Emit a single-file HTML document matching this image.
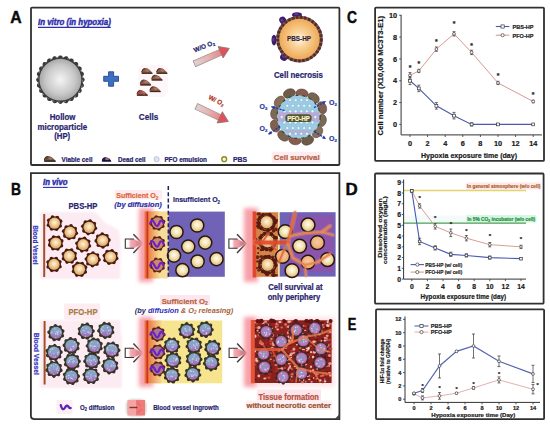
<!DOCTYPE html>
<html><head><meta charset="utf-8"><title>Figure</title>
<style>
html,body{margin:0;padding:0;background:#fff;}
body{width:550px;height:425px;overflow:hidden;}
svg{display:block;font-family:"Liberation Sans",sans-serif;}
</style></head><body>
<svg width="550" height="425" viewBox="0 0 550 425" font-family='"Liberation Sans", sans-serif'>
<defs>
<radialGradient id="gGrey" cx="0.5" cy="0.5" r="0.5"><stop offset="0" stop-color="#f4f4f4"/><stop offset="0.7" stop-color="#c8c8c8"/><stop offset="1" stop-color="#a8a8a8"/></radialGradient>
<radialGradient id="gOrange" cx="0.5" cy="0.5" r="0.5"><stop offset="0" stop-color="#fff6e8"/><stop offset="0.35" stop-color="#fad49a"/><stop offset="1" stop-color="#eca24c"/></radialGradient>
<radialGradient id="gBeige" cx="0.5" cy="0.45" r="0.55"><stop offset="0" stop-color="#fff4e6"/><stop offset="0.45" stop-color="#f4d49e"/><stop offset="1" stop-color="#d6a262"/></radialGradient>
<radialGradient id="gPfo" cx="0.5" cy="0.5" r="0.5"><stop offset="0" stop-color="#a8d8e8"/><stop offset="0.75" stop-color="#98c8e0"/><stop offset="1" stop-color="#b090c8"/></radialGradient>
<linearGradient id="gPfoCell" x1="0" y1="0" x2="0" y2="1"><stop offset="0" stop-color="#88a2c8"/><stop offset="0.55" stop-color="#8ea0c8"/><stop offset="0.68" stop-color="#a080c0"/><stop offset="1" stop-color="#9a6cb0"/></linearGradient>
<linearGradient id="gArrow" x1="0" y1="0" x2="1" y2="0"><stop offset="0" stop-color="#e2d2d2"/><stop offset="0.5" stop-color="#e6b4b4"/><stop offset="1" stop-color="#e88888"/></linearGradient>
<linearGradient id="gBArrow" x1="0" y1="0" x2="1" y2="0"><stop offset="0" stop-color="#fff"/><stop offset="1" stop-color="#f0a0a0"/></linearGradient>
<linearGradient id="gGlow" x1="0" y1="0" x2="1" y2="0"><stop offset="0" stop-color="#ffd0d0" stop-opacity="0"/><stop offset="0.3" stop-color="#f89090"/><stop offset="0.7" stop-color="#f89090"/><stop offset="1" stop-color="#ffd0d0" stop-opacity="0"/></linearGradient>
<filter id="blur2" x="-30%" y="-30%" width="160%" height="160%"><feGaussianBlur stdDeviation="2"/></filter>
<filter id="blur1" x="-30%" y="-30%" width="160%" height="160%"><feGaussianBlur stdDeviation="1"/></filter>
<linearGradient id="gOY" x1="0" y1="0" x2="1" y2="0"><stop offset="0" stop-color="#ec6a3c"/><stop offset="0.35" stop-color="#ee8a50"/><stop offset="0.7" stop-color="#f2b878"/><stop offset="1" stop-color="#f6d894"/></linearGradient>
<radialGradient id="gTisCell" cx="0.5" cy="0.5" r="0.5"><stop offset="0" stop-color="#74aab8"/><stop offset="0.35" stop-color="#9a8cc0"/><stop offset="0.65" stop-color="#bc80bc"/><stop offset="1" stop-color="#a85c98"/></radialGradient>
<radialGradient id="gPale" cx="0.5" cy="0.45" r="0.55"><stop offset="0" stop-color="#fffdf2"/><stop offset="0.45" stop-color="#f6e6b6"/><stop offset="1" stop-color="#d8b878"/></radialGradient>
</defs>
<text x="10.2" y="22.5" font-size="17" fill="#0a0a0a" font-weight="bold" text-anchor="start" textLength="11.4" lengthAdjust="spacingAndGlyphs" stroke="#0a0a0a" stroke-width="0.45">A</text>
<text x="10.9" y="194.8" font-size="17" fill="#0a0a0a" font-weight="bold" text-anchor="start" textLength="10.0" lengthAdjust="spacingAndGlyphs" stroke="#0a0a0a" stroke-width="0.45">B</text>
<text x="347.0" y="22.6" font-size="17" fill="#0a0a0a" font-weight="bold" text-anchor="start" textLength="10.0" lengthAdjust="spacingAndGlyphs" stroke="#0a0a0a" stroke-width="0.45">C</text>
<text x="345.5" y="194.8" font-size="17" fill="#0a0a0a" font-weight="bold" text-anchor="start" textLength="12.2" lengthAdjust="spacingAndGlyphs" stroke="#0a0a0a" stroke-width="0.45">D</text>
<text x="347.8" y="329.6" font-size="17" fill="#0a0a0a" font-weight="bold" text-anchor="start" textLength="8.6" lengthAdjust="spacingAndGlyphs" stroke="#0a0a0a" stroke-width="0.45">E</text>
<rect x="31" y="7.6" width="308.4" height="157.4" rx="1" fill="none" stroke="#303030" stroke-width="1.8"/>
<text x="38" y="25.2" font-size="8.5" fill="#2e2eac" font-weight="bold" text-anchor="start" font-style="italic" textLength="72.8" lengthAdjust="spacingAndGlyphs" stroke="#2e2eac" stroke-width="0.45">In vitro (in hypoxia)</text>
<line x1="38" y1="27.4" x2="110.8" y2="27.4" stroke="#2e2eac" stroke-width="1.1"/>
<path d="M84.70,79.70 L84.53,80.49 L84.03,81.25 L83.29,81.95 L82.41,82.60 L83.10,83.45 L83.63,84.32 L83.91,85.18 L83.87,85.99 L83.50,86.71 L82.83,87.31 L81.93,87.80 L80.91,88.20 L81.35,89.19 L81.64,90.18 L81.69,91.08 L81.44,91.85 L80.90,92.45 L80.09,92.86 L79.10,93.10 L78.01,93.21 L78.18,94.29 L78.21,95.32 L78.02,96.20 L77.58,96.88 L76.90,97.32 L76.02,97.51 L74.99,97.48 L73.91,97.31 L73.80,98.40 L73.56,99.39 L73.15,100.20 L72.55,100.74 L71.78,100.99 L70.88,100.94 L69.89,100.65 L68.90,100.21 L68.50,101.23 L68.01,102.13 L67.41,102.80 L66.69,103.17 L65.88,103.21 L65.02,102.93 L64.15,102.40 L63.30,101.71 L62.65,102.59 L61.95,103.33 L61.19,103.83 L60.40,104.00 L59.61,103.83 L58.85,103.33 L58.15,102.59 L57.50,101.71 L56.65,102.40 L55.78,102.93 L54.92,103.21 L54.11,103.17 L53.39,102.80 L52.79,102.13 L52.30,101.23 L51.90,100.21 L50.91,100.65 L49.92,100.94 L49.02,100.99 L48.25,100.74 L47.65,100.20 L47.24,99.39 L47.00,98.40 L46.89,97.31 L45.81,97.48 L44.78,97.51 L43.90,97.32 L43.22,96.88 L42.78,96.20 L42.59,95.32 L42.62,94.29 L42.79,93.21 L41.70,93.10 L40.71,92.86 L39.90,92.45 L39.36,91.85 L39.11,91.08 L39.16,90.18 L39.45,89.19 L39.89,88.20 L38.87,87.80 L37.97,87.31 L37.30,86.71 L36.93,85.99 L36.89,85.18 L37.17,84.32 L37.70,83.45 L38.39,82.60 L37.51,81.95 L36.77,81.25 L36.27,80.49 L36.10,79.70 L36.27,78.91 L36.77,78.15 L37.51,77.45 L38.39,76.80 L37.70,75.95 L37.17,75.08 L36.89,74.22 L36.93,73.41 L37.30,72.69 L37.97,72.09 L38.87,71.60 L39.89,71.20 L39.45,70.21 L39.16,69.22 L39.11,68.32 L39.36,67.55 L39.90,66.95 L40.71,66.54 L41.70,66.30 L42.79,66.19 L42.62,65.11 L42.59,64.08 L42.78,63.20 L43.22,62.52 L43.90,62.08 L44.78,61.89 L45.81,61.92 L46.89,62.09 L47.00,61.00 L47.24,60.01 L47.65,59.20 L48.25,58.66 L49.02,58.41 L49.92,58.46 L50.91,58.75 L51.90,59.19 L52.30,58.17 L52.79,57.27 L53.39,56.60 L54.11,56.23 L54.92,56.19 L55.78,56.47 L56.65,57.00 L57.50,57.69 L58.15,56.81 L58.85,56.07 L59.61,55.57 L60.40,55.40 L61.19,55.57 L61.95,56.07 L62.65,56.81 L63.30,57.69 L64.15,57.00 L65.02,56.47 L65.88,56.19 L66.69,56.23 L67.41,56.60 L68.01,57.27 L68.50,58.17 L68.90,59.19 L69.89,58.75 L70.88,58.46 L71.78,58.41 L72.55,58.66 L73.15,59.20 L73.56,60.01 L73.80,61.00 L73.91,62.09 L74.99,61.92 L76.02,61.89 L76.90,62.08 L77.58,62.52 L78.02,63.20 L78.21,64.08 L78.18,65.11 L78.01,66.19 L79.10,66.30 L80.09,66.54 L80.90,66.95 L81.44,67.55 L81.69,68.32 L81.64,69.22 L81.35,70.21 L80.91,71.20 L81.93,71.60 L82.83,72.09 L83.50,72.69 L83.87,73.41 L83.91,74.22 L83.63,75.08 L83.10,75.95 L82.41,76.80 L83.29,77.45 L84.03,78.15 L84.53,78.91 L84.70,79.70Z" fill="#3a3a3a" />
<circle cx="60.4" cy="79.7" r="22.3" fill="#3a3a3a"/>
<circle cx="60.4" cy="79.7" r="20.9" fill="url(#gGrey)"/>
<circle cx="60.4" cy="79.7" r="22.4" fill="none" stroke="#8a8a8a" stroke-width="0.9" stroke-dasharray="2.4 3.5"/>
<path d="M108.6,71.8 h5 v4.5 h4.9 v5 h-4.9 v4.9 h-5 v-4.9 h-4.9 v-5 h4.9 z" fill="#3d70c4" stroke="#24498e" stroke-width="0.9"/>
<text x="62.6" y="120.3" font-size="8.7" fill="#27256e" font-weight="bold" text-anchor="middle" textLength="25.8" lengthAdjust="spacingAndGlyphs"  stroke="#27256e" stroke-width="0.22">Hollow</text>
<text x="62.3" y="129.9" font-size="8.7" fill="#27256e" font-weight="bold" text-anchor="middle" textLength="49.8" lengthAdjust="spacingAndGlyphs"  stroke="#27256e" stroke-width="0.22">microparticle</text>
<text x="62.2" y="138.8" font-size="8.7" fill="#27256e" font-weight="bold" text-anchor="middle" textLength="16" lengthAdjust="spacingAndGlyphs"  stroke="#27256e" stroke-width="0.22">(HP)</text>
<rect x="138" y="65" width="30" height="32" rx="6" fill="#fdf0f5" opacity="0.5"/>
<path d="M141.40,73.80 C141.40,69.00 143.40,68.00 145.40,68.00 C148.40,68.00 151.80,71.80 152.80,73.80 Z" fill="#8c5a48"/>
<path d="M141.90,73.20 L152.30,73.20" stroke="#3e2a22" stroke-width="1.3"/>
<path d="M141.70,72.00 Q142.40,69.00 144.90,68.60" fill="none" stroke="#3e2a22" stroke-width="0.9"/>
<ellipse cx="147.60" cy="70.60" rx="2.2" ry="1.1" fill="#b08070" opacity="0.8"/>
<path d="M156.30,73.80 C156.30,69.00 158.30,68.00 160.30,68.00 C163.30,68.00 166.70,71.80 167.70,73.80 Z" fill="#8c5a48"/>
<path d="M156.80,73.20 L167.20,73.20" stroke="#3e2a22" stroke-width="1.3"/>
<path d="M156.60,72.00 Q157.30,69.00 159.80,68.60" fill="none" stroke="#3e2a22" stroke-width="0.9"/>
<ellipse cx="162.50" cy="70.60" rx="2.2" ry="1.1" fill="#b08070" opacity="0.8"/>
<path d="M151.40,80.50 C151.40,75.70 153.40,74.70 155.40,74.70 C158.40,74.70 161.80,78.50 162.80,80.50 Z" fill="#8c5a48"/>
<path d="M151.90,79.90 L162.30,79.90" stroke="#3e2a22" stroke-width="1.3"/>
<path d="M151.70,78.70 Q152.40,75.70 154.90,75.30" fill="none" stroke="#3e2a22" stroke-width="0.9"/>
<ellipse cx="157.60" cy="77.30" rx="2.2" ry="1.1" fill="#b08070" opacity="0.8"/>
<path d="M140.00,85.40 C140.00,80.60 142.00,79.60 144.00,79.60 C147.00,79.60 150.40,83.40 151.40,85.40 Z" fill="#8c5a48"/>
<path d="M140.50,84.80 L150.90,84.80" stroke="#3e2a22" stroke-width="1.3"/>
<path d="M140.30,83.60 Q141.00,80.60 143.50,80.20" fill="none" stroke="#3e2a22" stroke-width="0.9"/>
<ellipse cx="146.20" cy="82.20" rx="2.2" ry="1.1" fill="#b08070" opacity="0.8"/>
<path d="M149.60,92.10 C149.60,87.30 151.60,86.30 153.60,86.30 C156.60,86.30 160.00,90.10 161.00,92.10 Z" fill="#8c5a48"/>
<path d="M150.10,91.50 L160.50,91.50" stroke="#3e2a22" stroke-width="1.3"/>
<path d="M149.90,90.30 Q150.60,87.30 153.10,86.90" fill="none" stroke="#3e2a22" stroke-width="0.9"/>
<ellipse cx="155.80" cy="88.90" rx="2.2" ry="1.1" fill="#b08070" opacity="0.8"/>
<path d="M136.70,95.70 C136.70,90.90 138.70,89.90 140.70,89.90 C143.70,89.90 147.10,93.70 148.10,95.70 Z" fill="#8c5a48"/>
<path d="M137.20,95.10 L147.60,95.10" stroke="#3e2a22" stroke-width="1.3"/>
<path d="M137.00,93.90 Q137.70,90.90 140.20,90.50" fill="none" stroke="#3e2a22" stroke-width="0.9"/>
<ellipse cx="142.90" cy="92.50" rx="2.2" ry="1.1" fill="#b08070" opacity="0.8"/>
<path d="M137.5,94.5 L140,91 L145,95.5" fill="none" stroke="#e03040" stroke-width="0.9"/>
<text x="148.6" y="120.3" font-size="8.7" fill="#27256e" font-weight="bold" text-anchor="middle" textLength="19.5" lengthAdjust="spacingAndGlyphs"  stroke="#27256e" stroke-width="0.22">Cells</text>
<g transform="translate(194.4,63.8) rotate(-23.81)"><path d="M0,-3.0 L28.64669055108189,-3.0 L28.64669055108189,3.0 L0,3.0 Z" fill="url(#gArrow)" stroke="#a89898" stroke-width="0.9"/><path d="M28.64669055108189,-6.2 L38.14669055108189,0 L28.64669055108189,6.2 Z" fill="#e4505a" stroke="#8a7878" stroke-width="0.8"/></g>
<g transform="translate(196.3,106.4) rotate(25.11)"><path d="M0,-3.0 L25.841194094144583,-3.0 L25.841194094144583,3.0 L0,3.0 Z" fill="url(#gArrow)" stroke="#a89898" stroke-width="0.9"/><path d="M25.841194094144583,-6.2 L35.34119409414458,0 L25.841194094144583,6.2 Z" fill="#e4505a" stroke="#8a7878" stroke-width="0.8"/></g>
<g transform="translate(205.0,48.4) rotate(-22)"><text x="0" y="0" font-size="6.4" font-weight="bold" fill="#25256e" text-anchor="middle" stroke="#25256e" stroke-width="0.2">W/O O<tspan font-size="4.2" dy="1.2">2</tspan></text></g>
<g transform="translate(215.5,102.5) rotate(26)"><text x="0" y="0" font-size="6.4" font-weight="bold" fill="#b03424" text-anchor="middle" stroke="#b03424" stroke-width="0.2">W/ O<tspan font-size="4.2" dy="1.2">2</tspan></text></g>
<ellipse cx="297" cy="14.8" rx="5.00" ry="2.60" transform="rotate(0 297 14.8)" fill="#3c1a6e"/>
<ellipse cx="296.4" cy="14.200000000000001" rx="2.25" ry="1.04" transform="rotate(0 297 14.8)" fill="#6a4aa0" opacity="0.7"/>
<ellipse cx="282.8" cy="20.4" rx="3.40" ry="3.80" transform="rotate(-30 282.8 20.4)" fill="#3c1a6e"/>
<ellipse cx="282.2" cy="19.799999999999997" rx="1.53" ry="1.52" transform="rotate(-30 282.8 20.4)" fill="#6a4aa0" opacity="0.7"/>
<ellipse cx="274" cy="40.1" rx="2.50" ry="5.30" transform="rotate(0 274 40.1)" fill="#3c1a6e"/>
<ellipse cx="273.4" cy="39.5" rx="1.12" ry="2.12" transform="rotate(0 274 40.1)" fill="#6a4aa0" opacity="0.7"/>
<ellipse cx="283.9" cy="57.1" rx="3.80" ry="3.60" transform="rotate(30 283.9 57.1)" fill="#3c1a6e"/>
<ellipse cx="283.29999999999995" cy="56.5" rx="1.71" ry="1.44" transform="rotate(30 283.9 57.1)" fill="#6a4aa0" opacity="0.7"/>
<circle cx="299.5" cy="39.1" r="22.2" fill="url(#gOrange)"/>
<circle cx="299.5" cy="39.1" r="21.8" fill="none" stroke="#5a6a48" stroke-width="3"/>
<circle cx="299.5" cy="39.1" r="21.8" fill="none" stroke="#6a2232" stroke-width="3" stroke-dasharray="2.6 1.5"/>
<text x="299.0" y="41.2" font-size="7.4" fill="#33253e" font-weight="bold" text-anchor="middle" textLength="24" lengthAdjust="spacingAndGlyphs"  stroke="#33253e" stroke-width="0.2">PBS-HP</text>
<text x="298.4" y="77.9" font-size="8.5" fill="#27256e" font-weight="bold" text-anchor="middle" textLength="49" lengthAdjust="spacingAndGlyphs"  stroke="#27256e" stroke-width="0.22">Cell necrosis</text>
<ellipse cx="321.74" cy="120.41" rx="6.2" ry="4.6" transform="rotate(98.6 321.74 120.41)" fill="#7c6a56" stroke="#4a3a30" stroke-width="0.5"/>
<ellipse cx="317.49" cy="132.06" rx="6.2" ry="4.6" transform="rotate(128.6 317.49 132.06)" fill="#8a6e58" stroke="#4a3a30" stroke-width="0.5"/>
<ellipse cx="307.66" cy="140.27" rx="6.2" ry="4.6" transform="rotate(158.6 307.66 140.27)" fill="#6e5c48" stroke="#4a3a30" stroke-width="0.5"/>
<ellipse cx="294.99" cy="140.14" rx="6.2" ry="4.6" transform="rotate(188.6 294.99 140.14)" fill="#8a5c50" stroke="#4a3a30" stroke-width="0.5"/>
<ellipse cx="283.34" cy="135.89" rx="6.2" ry="4.6" transform="rotate(218.6 283.34 135.89)" fill="#7a6450" stroke="#4a3a30" stroke-width="0.5"/>
<ellipse cx="275.13" cy="126.06" rx="6.2" ry="4.6" transform="rotate(248.6 275.13 126.06)" fill="#806052" stroke="#4a3a30" stroke-width="0.5"/>
<ellipse cx="275.26" cy="113.39" rx="6.2" ry="4.6" transform="rotate(278.6 275.26 113.39)" fill="#7c6a56" stroke="#4a3a30" stroke-width="0.5"/>
<ellipse cx="279.51" cy="101.74" rx="6.2" ry="4.6" transform="rotate(308.6 279.51 101.74)" fill="#8a6e58" stroke="#4a3a30" stroke-width="0.5"/>
<ellipse cx="289.34" cy="93.53" rx="6.2" ry="4.6" transform="rotate(338.6 289.34 93.53)" fill="#6e5c48" stroke="#4a3a30" stroke-width="0.5"/>
<ellipse cx="302.01" cy="93.66" rx="6.2" ry="4.6" transform="rotate(368.6 302.01 93.66)" fill="#8a5c50" stroke="#4a3a30" stroke-width="0.5"/>
<ellipse cx="313.66" cy="97.91" rx="6.2" ry="4.6" transform="rotate(398.6 313.66 97.91)" fill="#7a6450" stroke="#4a3a30" stroke-width="0.5"/>
<ellipse cx="321.87" cy="107.74" rx="6.2" ry="4.6" transform="rotate(428.6 321.87 107.74)" fill="#806052" stroke="#4a3a30" stroke-width="0.5"/>
<circle cx="298.5" cy="116.9" r="21.6" fill="#9ccbe4"/>
<rect x="277.5" y="111.9" width="42" height="10" fill="#c0a2d2" opacity="0.8"/>
<path d="M282.5,129.9 Q298.5,140.9 314.5,129.9 Z" fill="#c0a2d2" opacity="0.6"/>
<circle cx="298.5" cy="116.9" r="21.6" fill="none" stroke="#2e4a2a" stroke-width="1.2" stroke-dasharray="3 4"/>
<circle cx="290.1" cy="100.1" r="1.5" fill="#eef8ff" stroke="#6a9ec0" stroke-width="0.4"/>
<circle cx="295.7" cy="100.1" r="1.5" fill="#eef8ff" stroke="#6a9ec0" stroke-width="0.4"/>
<circle cx="301.3" cy="100.1" r="1.5" fill="#eef8ff" stroke="#6a9ec0" stroke-width="0.4"/>
<circle cx="306.9" cy="100.1" r="1.5" fill="#eef8ff" stroke="#6a9ec0" stroke-width="0.4"/>
<circle cx="287.3" cy="105.7" r="1.5" fill="#eef8ff" stroke="#6a9ec0" stroke-width="0.4"/>
<circle cx="292.9" cy="105.7" r="1.5" fill="#eef8ff" stroke="#6a9ec0" stroke-width="0.4"/>
<circle cx="298.5" cy="105.7" r="1.5" fill="#eef8ff" stroke="#6a9ec0" stroke-width="0.4"/>
<circle cx="304.1" cy="105.7" r="1.5" fill="#eef8ff" stroke="#6a9ec0" stroke-width="0.4"/>
<circle cx="309.7" cy="105.7" r="1.5" fill="#eef8ff" stroke="#6a9ec0" stroke-width="0.4"/>
<circle cx="284.5" cy="111.3" r="1.5" fill="#eef8ff" stroke="#6a9ec0" stroke-width="0.4"/>
<circle cx="290.1" cy="111.3" r="1.5" fill="#eef8ff" stroke="#6a9ec0" stroke-width="0.4"/>
<circle cx="295.7" cy="111.3" r="1.5" fill="#eef8ff" stroke="#6a9ec0" stroke-width="0.4"/>
<circle cx="301.3" cy="111.3" r="1.5" fill="#eef8ff" stroke="#6a9ec0" stroke-width="0.4"/>
<circle cx="306.9" cy="111.3" r="1.5" fill="#eef8ff" stroke="#6a9ec0" stroke-width="0.4"/>
<circle cx="312.5" cy="111.3" r="1.5" fill="#eef8ff" stroke="#6a9ec0" stroke-width="0.4"/>
<circle cx="281.7" cy="116.9" r="1.5" fill="#eef8ff" stroke="#6a9ec0" stroke-width="0.4"/>
<circle cx="315.3" cy="116.9" r="1.5" fill="#eef8ff" stroke="#6a9ec0" stroke-width="0.4"/>
<circle cx="284.5" cy="122.5" r="1.5" fill="#eef8ff" stroke="#6a9ec0" stroke-width="0.4"/>
<circle cx="290.1" cy="122.5" r="1.5" fill="#eef8ff" stroke="#6a9ec0" stroke-width="0.4"/>
<circle cx="295.7" cy="122.5" r="1.5" fill="#eef8ff" stroke="#6a9ec0" stroke-width="0.4"/>
<circle cx="301.3" cy="122.5" r="1.5" fill="#eef8ff" stroke="#6a9ec0" stroke-width="0.4"/>
<circle cx="306.9" cy="122.5" r="1.5" fill="#eef8ff" stroke="#6a9ec0" stroke-width="0.4"/>
<circle cx="312.5" cy="122.5" r="1.5" fill="#eef8ff" stroke="#6a9ec0" stroke-width="0.4"/>
<circle cx="287.3" cy="128.1" r="1.5" fill="#eef8ff" stroke="#6a9ec0" stroke-width="0.4"/>
<circle cx="292.9" cy="128.1" r="1.5" fill="#eef8ff" stroke="#6a9ec0" stroke-width="0.4"/>
<circle cx="298.5" cy="128.1" r="1.5" fill="#eef8ff" stroke="#6a9ec0" stroke-width="0.4"/>
<circle cx="304.1" cy="128.1" r="1.5" fill="#eef8ff" stroke="#6a9ec0" stroke-width="0.4"/>
<circle cx="309.7" cy="128.1" r="1.5" fill="#eef8ff" stroke="#6a9ec0" stroke-width="0.4"/>
<circle cx="290.1" cy="133.7" r="1.5" fill="#eef8ff" stroke="#6a9ec0" stroke-width="0.4"/>
<circle cx="295.7" cy="133.7" r="1.5" fill="#eef8ff" stroke="#6a9ec0" stroke-width="0.4"/>
<circle cx="301.3" cy="133.7" r="1.5" fill="#eef8ff" stroke="#6a9ec0" stroke-width="0.4"/>
<circle cx="306.9" cy="133.7" r="1.5" fill="#eef8ff" stroke="#6a9ec0" stroke-width="0.4"/>
<rect x="285.3" y="114.2" width="26.4" height="7.8" rx="3.6" fill="#55582e"/>
<text x="298.5" y="120.6" font-size="7" fill="#fff6dc" font-weight="bold" text-anchor="middle" textLength="22.5" lengthAdjust="spacingAndGlyphs"  stroke="#fff6dc" stroke-width="0.2">PFO-HP</text>
<line x1="284.6" y1="110.6" x2="271.8" y2="106.8" stroke="#2a3aa8" stroke-width="1.4" stroke-dasharray="2.2 1"/>
<path d="M270.8,106.5 L274.9,106.0 L273.9,109.2 Z" fill="#2a3aa8"/>
<line x1="280" y1="126.4" x2="268.8" y2="134" stroke="#2a3aa8" stroke-width="1.4" stroke-dasharray="2.2 1"/>
<path d="M268.0,134.6 L270.1,131.1 L272.0,133.9 Z" fill="#2a3aa8"/>
<line x1="314" y1="107.6" x2="325.3" y2="101.6" stroke="#2a3aa8" stroke-width="1.4" stroke-dasharray="2.2 1"/>
<path d="M326.2,101.1 L323.7,104.4 L322.1,101.4 Z" fill="#2a3aa8"/>
<line x1="314.7" y1="131.7" x2="325.3" y2="138.5" stroke="#2a3aa8" stroke-width="1.4" stroke-dasharray="2.2 1"/>
<path d="M326.1,139.0 L322.1,138.4 L323.9,135.6 Z" fill="#2a3aa8"/>
<text x="263.5" y="108.5" font-size="7" font-weight="bold" fill="#2a3aa0" text-anchor="middle" stroke="#2a3aa0" stroke-width="0.2">O<tspan font-size="4.3" dy="1.3">2</tspan></text>
<text x="263.5" y="131" font-size="7" font-weight="bold" fill="#2a3aa0" text-anchor="middle" stroke="#2a3aa0" stroke-width="0.2">O<tspan font-size="4.3" dy="1.3">2</tspan></text>
<text x="333" y="104.5" font-size="7" font-weight="bold" fill="#2a3aa0" text-anchor="middle" stroke="#2a3aa0" stroke-width="0.2">O<tspan font-size="4.3" dy="1.3">2</tspan></text>
<text x="333" y="140.5" font-size="7" font-weight="bold" fill="#2a3aa0" text-anchor="middle" stroke="#2a3aa0" stroke-width="0.2">O<tspan font-size="4.3" dy="1.3">2</tspan></text>
<rect x="271.8" y="151.8" width="49" height="11" fill="#fdecf1"/>
<text x="296.7" y="160.3" font-size="7.6" fill="#b4603e" font-weight="bold" text-anchor="middle" textLength="45.8" lengthAdjust="spacingAndGlyphs"  stroke="#b4603e" stroke-width="0.2">Cell survival</text>
<path d="M44.00,161.70 C44.00,157.10 46.00,156.10 48.00,156.10 C51.00,156.10 55.00,159.70 56.00,161.70 Z" fill="#6e5040"/>
<path d="M44.50,161.10 L55.50,161.10" stroke="#2e221c" stroke-width="1.3"/>
<path d="M44.30,159.90 Q45.00,157.10 47.50,156.70" fill="none" stroke="#2e221c" stroke-width="0.9"/>
<ellipse cx="50.50" cy="158.60" rx="2.2" ry="1.1" fill="#b08070" opacity="0.8"/>
<text x="61.6" y="161.6" font-size="6.6" fill="#27256e" font-weight="bold" text-anchor="start" textLength="30.8" lengthAdjust="spacingAndGlyphs"  stroke="#27256e" stroke-width="0.22">Viable cell</text>
<path d="M101.80,161.50 C101.80,158.30 103.80,157.30 105.80,157.30 C108.80,157.30 110.40,159.50 111.40,161.50 Z" fill="#2c1c5c"/>
<path d="M102.30,160.90 L110.90,160.90" stroke="#140a30" stroke-width="1.3"/>
<path d="M102.10,159.70 Q102.80,158.30 105.30,157.90" fill="none" stroke="#140a30" stroke-width="0.9"/>
<ellipse cx="107.10" cy="159.10" rx="2.2" ry="1.1" fill="#b08070" opacity="0.8"/>
<text x="118" y="161.6" font-size="6.6" fill="#27256e" font-weight="bold" text-anchor="start" textLength="27.6" lengthAdjust="spacingAndGlyphs"  stroke="#27256e" stroke-width="0.22">Dead cell</text>
<circle cx="156.6" cy="159.2" r="2.6" fill="#dde6f0" stroke="#a0aec0" stroke-width="0.6"/>
<text x="164.4" y="161.6" font-size="6.6" fill="#27256e" font-weight="bold" text-anchor="start" textLength="42.6" lengthAdjust="spacingAndGlyphs"  stroke="#27256e" stroke-width="0.22">PFO emulsion</text>
<circle cx="224.2" cy="159.2" r="2.4" fill="#fff8d0" stroke="#8a8a28" stroke-width="1.4"/>
<text x="233" y="161.6" font-size="6.6" fill="#27256e" font-weight="bold" text-anchor="start" textLength="14" lengthAdjust="spacingAndGlyphs"  stroke="#27256e" stroke-width="0.22">PBS</text>
<path d="M30.9,173.2 H339.4 V419.2 H34.6 Q30.9,419.2 30.9,415.5 Z" fill="none" stroke="#303030" stroke-width="1.8"/>
<path d="M334.5,419.2 L339.4,414.3 L339.4,419.2 Z" fill="#444"/>
<text x="43" y="185.2" font-size="8.5" fill="#2e2eac" font-weight="bold" text-anchor="start" font-style="italic" textLength="24.6" lengthAdjust="spacingAndGlyphs" stroke="#2e2eac" stroke-width="0.45">In vivo</text>
<line x1="43" y1="187.4" x2="67.6" y2="187.4" stroke="#2e2eac" stroke-width="1.1"/>
<path d="M40,212 L96,212 L104,222 L119,230 L121,250 L120,279 L40,279 Z" fill="#fce8f0" opacity="0.85" filter="url(#blur1)"/>
<text x="83" y="208.6" font-size="9" fill="#27256e" font-weight="bold" text-anchor="middle" textLength="29" lengthAdjust="spacingAndGlyphs"  stroke="#27256e" stroke-width="0.22">PBS-HP</text>
<line x1="44.2" y1="214" x2="44.2" y2="277" stroke="#a0502a" stroke-width="2"/>
<g transform="translate(35.6,245) rotate(90)"><text x="0" y="2.3" font-size="6.8" font-weight="bold" fill="#3434c4" text-anchor="middle" textLength="39" lengthAdjust="spacingAndGlyphs" stroke="#3434c4" stroke-width="0.2">Blood Vessel</text></g>
<circle cx="51.64" cy="228.93" r="1.8" fill="#4a1a10"/>
<circle cx="48.43" cy="225.23" r="1.8" fill="#4a1a10"/>
<circle cx="48.77" cy="220.34" r="1.8" fill="#4a1a10"/>
<circle cx="52.47" cy="217.13" r="1.8" fill="#4a1a10"/>
<circle cx="57.36" cy="217.47" r="1.8" fill="#4a1a10"/>
<circle cx="60.57" cy="221.17" r="1.8" fill="#4a1a10"/>
<circle cx="60.23" cy="226.06" r="1.8" fill="#4a1a10"/>
<circle cx="56.53" cy="229.27" r="1.8" fill="#4a1a10"/>
<circle cx="54.5" cy="223.2" r="7.0" fill="#4a1a10"/>
<circle cx="54.5" cy="223.2" r="5.6" fill="url(#gBeige)"/>
<circle cx="73.74" cy="237.40" r="1.8" fill="#4a1a10"/>
<circle cx="68.97" cy="238.52" r="1.8" fill="#4a1a10"/>
<circle cx="64.80" cy="235.94" r="1.8" fill="#4a1a10"/>
<circle cx="63.68" cy="231.17" r="1.8" fill="#4a1a10"/>
<circle cx="66.26" cy="227.00" r="1.8" fill="#4a1a10"/>
<circle cx="71.03" cy="225.88" r="1.8" fill="#4a1a10"/>
<circle cx="75.20" cy="228.46" r="1.8" fill="#4a1a10"/>
<circle cx="76.32" cy="233.23" r="1.8" fill="#4a1a10"/>
<circle cx="70" cy="232.2" r="7.0" fill="#4a1a10"/>
<circle cx="70" cy="232.2" r="5.6" fill="url(#gBeige)"/>
<circle cx="85.36" cy="222.11" r="1.8" fill="#4a1a10"/>
<circle cx="90.13" cy="220.98" r="1.8" fill="#4a1a10"/>
<circle cx="94.29" cy="223.56" r="1.8" fill="#4a1a10"/>
<circle cx="95.42" cy="228.33" r="1.8" fill="#4a1a10"/>
<circle cx="92.84" cy="232.49" r="1.8" fill="#4a1a10"/>
<circle cx="88.07" cy="233.62" r="1.8" fill="#4a1a10"/>
<circle cx="83.91" cy="231.04" r="1.8" fill="#4a1a10"/>
<circle cx="82.78" cy="226.27" r="1.8" fill="#4a1a10"/>
<circle cx="89.1" cy="227.3" r="7.0" fill="#4a1a10"/>
<circle cx="89.1" cy="227.3" r="5.6" fill="url(#gBeige)"/>
<circle cx="61.45" cy="245.81" r="1.8" fill="#4a1a10"/>
<circle cx="57.78" cy="249.05" r="1.8" fill="#4a1a10"/>
<circle cx="52.89" cy="248.75" r="1.8" fill="#4a1a10"/>
<circle cx="49.65" cy="245.08" r="1.8" fill="#4a1a10"/>
<circle cx="49.95" cy="240.19" r="1.8" fill="#4a1a10"/>
<circle cx="53.62" cy="236.95" r="1.8" fill="#4a1a10"/>
<circle cx="58.51" cy="237.25" r="1.8" fill="#4a1a10"/>
<circle cx="61.75" cy="240.92" r="1.8" fill="#4a1a10"/>
<circle cx="55.7" cy="243" r="7.0" fill="#4a1a10"/>
<circle cx="55.7" cy="243" r="5.6" fill="url(#gBeige)"/>
<circle cx="76.96" cy="243.18" r="1.8" fill="#4a1a10"/>
<circle cx="79.79" cy="239.18" r="1.8" fill="#4a1a10"/>
<circle cx="84.62" cy="238.36" r="1.8" fill="#4a1a10"/>
<circle cx="88.62" cy="241.19" r="1.8" fill="#4a1a10"/>
<circle cx="89.44" cy="246.02" r="1.8" fill="#4a1a10"/>
<circle cx="86.61" cy="250.02" r="1.8" fill="#4a1a10"/>
<circle cx="81.78" cy="250.84" r="1.8" fill="#4a1a10"/>
<circle cx="77.78" cy="248.01" r="1.8" fill="#4a1a10"/>
<circle cx="83.2" cy="244.6" r="7.0" fill="#4a1a10"/>
<circle cx="83.2" cy="244.6" r="5.6" fill="url(#gBeige)"/>
<circle cx="98.35" cy="245.29" r="1.8" fill="#4a1a10"/>
<circle cx="96.21" cy="240.88" r="1.8" fill="#4a1a10"/>
<circle cx="97.81" cy="236.25" r="1.8" fill="#4a1a10"/>
<circle cx="102.22" cy="234.11" r="1.8" fill="#4a1a10"/>
<circle cx="106.85" cy="235.71" r="1.8" fill="#4a1a10"/>
<circle cx="108.99" cy="240.12" r="1.8" fill="#4a1a10"/>
<circle cx="107.39" cy="244.75" r="1.8" fill="#4a1a10"/>
<circle cx="102.98" cy="246.89" r="1.8" fill="#4a1a10"/>
<circle cx="102.6" cy="240.5" r="7.0" fill="#4a1a10"/>
<circle cx="102.6" cy="240.5" r="5.6" fill="url(#gBeige)"/>
<circle cx="75.28" cy="258.38" r="1.8" fill="#4a1a10"/>
<circle cx="71.92" cy="261.94" r="1.8" fill="#4a1a10"/>
<circle cx="67.02" cy="262.08" r="1.8" fill="#4a1a10"/>
<circle cx="63.46" cy="258.72" r="1.8" fill="#4a1a10"/>
<circle cx="63.32" cy="253.82" r="1.8" fill="#4a1a10"/>
<circle cx="66.68" cy="250.26" r="1.8" fill="#4a1a10"/>
<circle cx="71.58" cy="250.12" r="1.8" fill="#4a1a10"/>
<circle cx="75.14" cy="253.48" r="1.8" fill="#4a1a10"/>
<circle cx="69.3" cy="256.1" r="7.0" fill="#4a1a10"/>
<circle cx="69.3" cy="256.1" r="5.6" fill="url(#gBeige)"/>
<circle cx="86.31" cy="259.11" r="1.8" fill="#4a1a10"/>
<circle cx="88.38" cy="254.68" r="1.8" fill="#4a1a10"/>
<circle cx="92.99" cy="253.01" r="1.8" fill="#4a1a10"/>
<circle cx="97.42" cy="255.08" r="1.8" fill="#4a1a10"/>
<circle cx="99.09" cy="259.69" r="1.8" fill="#4a1a10"/>
<circle cx="97.02" cy="264.12" r="1.8" fill="#4a1a10"/>
<circle cx="92.41" cy="265.79" r="1.8" fill="#4a1a10"/>
<circle cx="87.98" cy="263.72" r="1.8" fill="#4a1a10"/>
<circle cx="92.7" cy="259.4" r="7.0" fill="#4a1a10"/>
<circle cx="92.7" cy="259.4" r="5.6" fill="url(#gBeige)"/>
<circle cx="116.72" cy="258.49" r="1.8" fill="#4a1a10"/>
<circle cx="113.84" cy="262.46" r="1.8" fill="#4a1a10"/>
<circle cx="109.01" cy="263.22" r="1.8" fill="#4a1a10"/>
<circle cx="105.04" cy="260.34" r="1.8" fill="#4a1a10"/>
<circle cx="104.28" cy="255.51" r="1.8" fill="#4a1a10"/>
<circle cx="107.16" cy="251.54" r="1.8" fill="#4a1a10"/>
<circle cx="111.99" cy="250.78" r="1.8" fill="#4a1a10"/>
<circle cx="115.96" cy="253.66" r="1.8" fill="#4a1a10"/>
<circle cx="110.5" cy="257" r="7.0" fill="#4a1a10"/>
<circle cx="110.5" cy="257" r="5.6" fill="url(#gBeige)"/>
<circle cx="48.15" cy="267.00" r="1.8" fill="#4a1a10"/>
<circle cx="48.03" cy="262.10" r="1.8" fill="#4a1a10"/>
<circle cx="51.40" cy="258.55" r="1.8" fill="#4a1a10"/>
<circle cx="56.30" cy="258.43" r="1.8" fill="#4a1a10"/>
<circle cx="59.85" cy="261.80" r="1.8" fill="#4a1a10"/>
<circle cx="59.97" cy="266.70" r="1.8" fill="#4a1a10"/>
<circle cx="56.60" cy="270.25" r="1.8" fill="#4a1a10"/>
<circle cx="51.70" cy="270.37" r="1.8" fill="#4a1a10"/>
<circle cx="54" cy="264.4" r="7.0" fill="#4a1a10"/>
<circle cx="54" cy="264.4" r="5.6" fill="url(#gBeige)"/>
<circle cx="85.29" cy="272.02" r="1.8" fill="#4a1a10"/>
<circle cx="81.67" cy="275.32" r="1.8" fill="#4a1a10"/>
<circle cx="76.78" cy="275.09" r="1.8" fill="#4a1a10"/>
<circle cx="73.48" cy="271.47" r="1.8" fill="#4a1a10"/>
<circle cx="73.71" cy="266.58" r="1.8" fill="#4a1a10"/>
<circle cx="77.33" cy="263.28" r="1.8" fill="#4a1a10"/>
<circle cx="82.22" cy="263.51" r="1.8" fill="#4a1a10"/>
<circle cx="85.52" cy="267.13" r="1.8" fill="#4a1a10"/>
<circle cx="79.5" cy="269.3" r="7.0" fill="#4a1a10"/>
<circle cx="79.5" cy="269.3" r="5.6" fill="url(#gBeige)"/>
<linearGradient id="ba125243" gradientUnits="userSpaceOnUse" x1="125.3" y1="0" x2="142.4" y2="0"><stop offset="0" stop-color="#ffffff"/><stop offset="0.18" stop-color="#ffffff"/><stop offset="0.32" stop-color="#f4aab4"/><stop offset="0.6" stop-color="#e898a0"/><stop offset="1" stop-color="#a04a50"/></linearGradient>
<path d="M125.3,239.0 L134.0,239.0 L142.4,243.6 L134.0,248.2 L125.3,248.2 Z" fill="url(#ba125243)"/>
<path d="M134.0,239.0 L125.3,239.0 L125.3,248.2 L134.0,248.2" fill="none" stroke="#3a3434" stroke-width="1.1"/>
<path d="M133.4,234.2 L142.4,243.6 L133.4,253.0" fill="none" stroke="#4a3a3a" stroke-width="1.5"/>
<rect x="139" y="208" width="14" height="74" fill="#f7a0a8" filter="url(#blur2)"/>
<rect x="152" y="211.4" width="16.5" height="67" fill="#f6dc98"/>
<rect x="144.6" y="211.4" width="15" height="67" fill="url(#gOY)"/>
<rect x="168.5" y="211.6" width="56.3" height="65.2" fill="#7062b6"/>
<line x1="147.4" y1="211.4" x2="147.4" y2="278.4" stroke="#c8341e" stroke-width="1.8"/>
<circle cx="162.82" cy="226.24" r="1.7" fill="#5a2418"/>
<circle cx="158.93" cy="228.96" r="1.7" fill="#5a2418"/>
<circle cx="154.26" cy="228.12" r="1.7" fill="#5a2418"/>
<circle cx="151.54" cy="224.23" r="1.7" fill="#5a2418"/>
<circle cx="152.38" cy="219.56" r="1.7" fill="#5a2418"/>
<circle cx="156.27" cy="216.84" r="1.7" fill="#5a2418"/>
<circle cx="160.94" cy="217.68" r="1.7" fill="#5a2418"/>
<circle cx="163.66" cy="221.57" r="1.7" fill="#5a2418"/>
<circle cx="157.6" cy="222.9" r="6.8" fill="#5a2418"/>
<circle cx="157.6" cy="222.9" r="5.6" fill="#cc8a6c"/>
<path d="M150.1,223.4 q2,-5.5 4.5,0 t4.5,0 t4.5,0" fill="none" stroke="#7020c8" stroke-width="2.2" stroke-linecap="round"/>
<circle cx="152.09" cy="246.34" r="1.7" fill="#5a2418"/>
<circle cx="151.70" cy="241.61" r="1.7" fill="#5a2418"/>
<circle cx="154.76" cy="237.99" r="1.7" fill="#5a2418"/>
<circle cx="159.49" cy="237.60" r="1.7" fill="#5a2418"/>
<circle cx="163.11" cy="240.66" r="1.7" fill="#5a2418"/>
<circle cx="163.50" cy="245.39" r="1.7" fill="#5a2418"/>
<circle cx="160.44" cy="249.01" r="1.7" fill="#5a2418"/>
<circle cx="155.71" cy="249.40" r="1.7" fill="#5a2418"/>
<circle cx="157.6" cy="243.5" r="6.8" fill="#5a2418"/>
<circle cx="157.6" cy="243.5" r="5.6" fill="#cc8a6c"/>
<path d="M150.1,244.0 q2,-5.5 4.5,0 t4.5,0 t4.5,0" fill="none" stroke="#7020c8" stroke-width="2.2" stroke-linecap="round"/>
<circle cx="160.46" cy="259.70" r="1.7" fill="#5a2418"/>
<circle cx="163.51" cy="263.34" r="1.7" fill="#5a2418"/>
<circle cx="163.10" cy="268.06" r="1.7" fill="#5a2418"/>
<circle cx="159.46" cy="271.11" r="1.7" fill="#5a2418"/>
<circle cx="154.74" cy="270.70" r="1.7" fill="#5a2418"/>
<circle cx="151.69" cy="267.06" r="1.7" fill="#5a2418"/>
<circle cx="152.10" cy="262.34" r="1.7" fill="#5a2418"/>
<circle cx="155.74" cy="259.29" r="1.7" fill="#5a2418"/>
<circle cx="157.6" cy="265.2" r="6.8" fill="#5a2418"/>
<circle cx="157.6" cy="265.2" r="5.6" fill="#cc8a6c"/>
<path d="M150.1,265.7 q2,-5.5 4.5,0 t4.5,0 t4.5,0" fill="none" stroke="#7020c8" stroke-width="2.2" stroke-linecap="round"/>
<circle cx="176.5" cy="232" r="6.6" fill="url(#gPale)" stroke="#2a1810" stroke-width="1.5"/>
<circle cx="197.2" cy="225.5" r="6.6" fill="url(#gPale)" stroke="#2a1810" stroke-width="1.5"/>
<circle cx="188.2" cy="246.6" r="6.6" fill="url(#gPale)" stroke="#2a1810" stroke-width="1.5"/>
<circle cx="205.2" cy="242.6" r="6.6" fill="url(#gPale)" stroke="#2a1810" stroke-width="1.5"/>
<circle cx="174" cy="255.6" r="6.6" fill="url(#gPale)" stroke="#2a1810" stroke-width="1.5"/>
<circle cx="197.6" cy="261.5" r="6.6" fill="url(#gPale)" stroke="#2a1810" stroke-width="1.5"/>
<circle cx="216.5" cy="259.1" r="6.6" fill="url(#gPale)" stroke="#2a1810" stroke-width="1.5"/>
<circle cx="182.4" cy="270.2" r="6.6" fill="url(#gPale)" stroke="#2a1810" stroke-width="1.5"/>
<line x1="168.3" y1="186" x2="168.3" y2="279" stroke="#222266" stroke-width="1.5" stroke-dasharray="4 2.2"/>
<rect x="115" y="190" width="47" height="9.5" fill="#fde6ea" opacity="0.8"/>
<text x="116.2" y="198.3" font-size="8" font-weight="bold" fill="#e0643a" textLength="42" lengthAdjust="spacingAndGlyphs" stroke="#e0643a" stroke-width="0.2">Sufficient O<tspan font-size="5" dy="1.3">2</tspan></text>
<text x="114.3" y="206.6" font-size="8" fill="#2e2ea8" font-weight="bold" text-anchor="start" font-style="italic" textLength="47.5" lengthAdjust="spacingAndGlyphs"  stroke="#2e2ea8" stroke-width="0.2">(by diffusion)</text>
<text x="173" y="202.4" font-size="8" font-weight="bold" fill="#27256e" textLength="47" lengthAdjust="spacingAndGlyphs" stroke="#27256e" stroke-width="0.2">Insufficient O<tspan font-size="5" dy="1.3">2</tspan></text>
<linearGradient id="ba228243" gradientUnits="userSpaceOnUse" x1="228.9" y1="0" x2="246.0" y2="0"><stop offset="0" stop-color="#ffffff"/><stop offset="0.18" stop-color="#ffffff"/><stop offset="0.32" stop-color="#f4aab4"/><stop offset="0.6" stop-color="#e898a0"/><stop offset="1" stop-color="#a04a50"/></linearGradient>
<path d="M228.9,239.0 L237.6,239.0 L246.0,243.6 L237.6,248.2 L228.9,248.2 Z" fill="url(#ba228243)"/>
<path d="M237.6,239.0 L228.9,239.0 L228.9,248.2 L237.6,248.2" fill="none" stroke="#3a3434" stroke-width="1.1"/>
<path d="M237.0,234.2 L246.0,243.6 L237.0,253.0" fill="none" stroke="#4a3a3a" stroke-width="1.5"/>
<rect x="244" y="208" width="14" height="74" fill="#f7a0a8" filter="url(#blur2)"/>
<rect x="255.5" y="212.2" width="22.5" height="64.6" fill="#d48448"/>
<ellipse cx="258.6" cy="227.1" rx="1.9" ry="1.9" fill="#5a1a10" opacity="0.9"/>
<ellipse cx="268.1" cy="238.0" rx="2.4" ry="1.0" fill="#5a1a10" opacity="0.9"/>
<ellipse cx="274.0" cy="231.2" rx="1.2" ry="1.0" fill="#5a1a10" opacity="0.9"/>
<ellipse cx="262.5" cy="264.4" rx="1.3" ry="1.5" fill="#5a1a10" opacity="0.9"/>
<ellipse cx="269.4" cy="236.5" rx="1.8" ry="1.0" fill="#5a1a10" opacity="0.9"/>
<ellipse cx="257.3" cy="226.0" rx="2.0" ry="1.4" fill="#5a1a10" opacity="0.9"/>
<ellipse cx="262.6" cy="249.9" rx="1.6" ry="1.2" fill="#5a1a10" opacity="0.9"/>
<ellipse cx="272.7" cy="257.0" rx="1.3" ry="1.5" fill="#5a1a10" opacity="0.9"/>
<ellipse cx="267.0" cy="268.1" rx="2.0" ry="1.2" fill="#5a1a10" opacity="0.9"/>
<ellipse cx="276.6" cy="220.4" rx="1.6" ry="1.7" fill="#5a1a10" opacity="0.9"/>
<ellipse cx="259.2" cy="243.8" rx="1.1" ry="1.6" fill="#5a1a10" opacity="0.9"/>
<ellipse cx="272.1" cy="249.1" rx="2.2" ry="1.2" fill="#5a1a10" opacity="0.9"/>
<ellipse cx="270.6" cy="250.4" rx="1.8" ry="1.4" fill="#5a1a10" opacity="0.9"/>
<ellipse cx="273.6" cy="272.5" rx="1.7" ry="1.6" fill="#5a1a10" opacity="0.9"/>
<ellipse cx="257.3" cy="257.2" rx="1.9" ry="2.0" fill="#5a1a10" opacity="0.9"/>
<ellipse cx="273.3" cy="230.9" rx="1.5" ry="1.6" fill="#5a1a10" opacity="0.9"/>
<ellipse cx="256.5" cy="242.1" rx="1.2" ry="1.0" fill="#5a1a10" opacity="0.9"/>
<ellipse cx="257.2" cy="261.4" rx="1.2" ry="1.2" fill="#5a1a10" opacity="0.9"/>
<ellipse cx="264.2" cy="267.9" rx="1.1" ry="1.4" fill="#5a1a10" opacity="0.9"/>
<ellipse cx="267.5" cy="268.7" rx="2.1" ry="1.9" fill="#5a1a10" opacity="0.9"/>
<ellipse cx="261.8" cy="239.2" rx="1.5" ry="1.9" fill="#5a1a10" opacity="0.9"/>
<ellipse cx="276.1" cy="222.5" rx="1.2" ry="1.2" fill="#5a1a10" opacity="0.9"/>
<ellipse cx="260.9" cy="243.6" rx="1.8" ry="1.2" fill="#5a1a10" opacity="0.9"/>
<ellipse cx="256.1" cy="239.4" rx="1.5" ry="1.5" fill="#5a1a10" opacity="0.9"/>
<ellipse cx="276.0" cy="256.5" rx="1.7" ry="1.6" fill="#5a1a10" opacity="0.9"/>
<ellipse cx="270.2" cy="216.4" rx="2.3" ry="1.8" fill="#5a1a10" opacity="0.9"/>
<ellipse cx="274.4" cy="263.3" rx="1.5" ry="1.3" fill="#5a1a10" opacity="0.9"/>
<ellipse cx="258.2" cy="253.0" rx="1.1" ry="1.0" fill="#5a1a10" opacity="0.9"/>
<ellipse cx="260.4" cy="223.2" rx="1.5" ry="1.0" fill="#5a1a10" opacity="0.9"/>
<ellipse cx="256.0" cy="222.5" rx="1.1" ry="1.3" fill="#5a1a10" opacity="0.9"/>
<ellipse cx="256.5" cy="268.1" rx="1.9" ry="1.1" fill="#5a1a10" opacity="0.9"/>
<ellipse cx="261.3" cy="234.9" rx="1.5" ry="1.0" fill="#5a1a10" opacity="0.9"/>
<ellipse cx="273.8" cy="275.6" rx="1.7" ry="1.4" fill="#5a1a10" opacity="0.9"/>
<ellipse cx="257.8" cy="219.4" rx="1.5" ry="1.2" fill="#5a1a10" opacity="0.9"/>
<ellipse cx="273.4" cy="223.2" rx="1.0" ry="1.9" fill="#5a1a10" opacity="0.9"/>
<ellipse cx="267.1" cy="222.2" rx="1.8" ry="0.9" fill="#5a1a10" opacity="0.9"/>
<ellipse cx="267.1" cy="274.6" rx="2.2" ry="1.7" fill="#5a1a10" opacity="0.9"/>
<ellipse cx="261.5" cy="236.1" rx="1.2" ry="1.7" fill="#5a1a10" opacity="0.9"/>
<ellipse cx="267.2" cy="262.1" rx="1.5" ry="1.1" fill="#5a1a10" opacity="0.9"/>
<ellipse cx="273.0" cy="275.1" rx="2.2" ry="1.8" fill="#5a1a10" opacity="0.9"/>
<ellipse cx="273.2" cy="259.6" rx="1.3" ry="1.5" fill="#5a1a10" opacity="0.9"/>
<ellipse cx="263.5" cy="214.8" rx="1.0" ry="1.2" fill="#5a1a10" opacity="0.9"/>
<ellipse cx="261.4" cy="256.6" rx="2.3" ry="1.4" fill="#5a1a10" opacity="0.9"/>
<ellipse cx="275.7" cy="275.2" rx="2.3" ry="1.3" fill="#5a1a10" opacity="0.9"/>
<ellipse cx="260.6" cy="227.3" rx="1.3" ry="1.1" fill="#5a1a10" opacity="0.9"/>
<ellipse cx="269.1" cy="269.7" rx="2.2" ry="1.4" fill="#5a1a10" opacity="0.9"/>
<ellipse cx="269.7" cy="263.4" rx="1.1" ry="1.6" fill="#5a1a10" opacity="0.9"/>
<ellipse cx="275.1" cy="262.3" rx="2.1" ry="1.4" fill="#5a1a10" opacity="0.9"/>
<ellipse cx="259.7" cy="262.7" rx="1.5" ry="1.8" fill="#5a1a10" opacity="0.9"/>
<ellipse cx="276.4" cy="237.9" rx="1.6" ry="1.9" fill="#5a1a10" opacity="0.9"/>
<ellipse cx="271.2" cy="223.7" rx="1.2" ry="1.1" fill="#5a1a10" opacity="0.9"/>
<ellipse cx="275.0" cy="263.8" rx="1.2" ry="1.8" fill="#5a1a10" opacity="0.9"/>
<ellipse cx="276.6" cy="254.4" rx="1.5" ry="1.5" fill="#5a1a10" opacity="0.9"/>
<ellipse cx="258.8" cy="213.9" rx="2.4" ry="1.6" fill="#5a1a10" opacity="0.9"/>
<ellipse cx="267.1" cy="271.8" rx="1.6" ry="1.9" fill="#5a1a10" opacity="0.9"/>
<ellipse cx="273.3" cy="226.3" rx="1.4" ry="1.2" fill="#5a1a10" opacity="0.9"/>
<ellipse cx="261.1" cy="249.9" rx="1.4" ry="1.4" fill="#5a1a10" opacity="0.9"/>
<ellipse cx="258.8" cy="270.3" rx="1.5" ry="1.4" fill="#5a1a10" opacity="0.9"/>
<ellipse cx="268.3" cy="270.0" rx="1.6" ry="1.9" fill="#5a1a10" opacity="0.9"/>
<ellipse cx="266.5" cy="246.5" rx="1.7" ry="0.9" fill="#5a1a10" opacity="0.9"/>
<ellipse cx="265.2" cy="224.5" rx="1.0" ry="1.8" fill="#5a1a10" opacity="0.9"/>
<ellipse cx="259.6" cy="242.8" rx="2.0" ry="1.5" fill="#5a1a10" opacity="0.9"/>
<ellipse cx="262.8" cy="245.7" rx="1.8" ry="1.8" fill="#5a1a10" opacity="0.9"/>
<ellipse cx="258.2" cy="248.3" rx="1.3" ry="1.2" fill="#5a1a10" opacity="0.9"/>
<ellipse cx="272.2" cy="245.0" rx="1.8" ry="1.7" fill="#5a1a10" opacity="0.9"/>
<ellipse cx="275.2" cy="240.9" rx="1.9" ry="1.5" fill="#5a1a10" opacity="0.9"/>
<ellipse cx="266.8" cy="256.6" rx="1.6" ry="1.5" fill="#5a1a10" opacity="0.9"/>
<ellipse cx="266.0" cy="272.3" rx="2.0" ry="1.9" fill="#5a1a10" opacity="0.9"/>
<ellipse cx="275.8" cy="229.4" rx="1.8" ry="1.9" fill="#5a1a10" opacity="0.9"/>
<ellipse cx="273.6" cy="221.6" rx="1.2" ry="1.4" fill="#5a1a10" opacity="0.9"/>
<circle cx="274.90" cy="222.38" r="1.9" fill="#5a1a10"/>
<circle cx="272.59" cy="227.91" r="1.9" fill="#5a1a10"/>
<circle cx="267.95" cy="230.30" r="1.9" fill="#5a1a10"/>
<circle cx="261.27" cy="228.34" r="1.9" fill="#5a1a10"/>
<circle cx="258.55" cy="223.13" r="1.9" fill="#5a1a10"/>
<circle cx="260.02" cy="217.45" r="1.9" fill="#5a1a10"/>
<circle cx="262.93" cy="214.92" r="1.9" fill="#5a1a10"/>
<circle cx="269.81" cy="214.61" r="1.9" fill="#5a1a10"/>
<circle cx="273.90" cy="218.27" r="1.9" fill="#5a1a10"/>
<circle cx="266.7" cy="222.2" r="8.4" fill="none" stroke="#5a1a10" stroke-width="1.8"/>
<circle cx="275.79" cy="241.65" r="1.9" fill="#5a1a10"/>
<circle cx="272.28" cy="248.03" r="1.9" fill="#5a1a10"/>
<circle cx="266.65" cy="249.45" r="1.9" fill="#5a1a10"/>
<circle cx="263.04" cy="248.12" r="1.9" fill="#5a1a10"/>
<circle cx="259.42" cy="241.82" r="1.9" fill="#5a1a10"/>
<circle cx="260.28" cy="237.60" r="1.9" fill="#5a1a10"/>
<circle cx="264.58" cy="233.68" r="1.9" fill="#5a1a10"/>
<circle cx="271.32" cy="233.99" r="1.9" fill="#5a1a10"/>
<circle cx="274.99" cy="237.75" r="1.9" fill="#5a1a10"/>
<circle cx="267.6" cy="241.3" r="8.4" fill="none" stroke="#5a1a10" stroke-width="1.8"/>
<circle cx="275.79" cy="265.20" r="1.9" fill="#5a1a10"/>
<circle cx="273.15" cy="270.84" r="1.9" fill="#5a1a10"/>
<circle cx="267.76" cy="273.00" r="1.9" fill="#5a1a10"/>
<circle cx="262.80" cy="271.45" r="1.9" fill="#5a1a10"/>
<circle cx="259.74" cy="267.15" r="1.9" fill="#5a1a10"/>
<circle cx="260.20" cy="261.27" r="1.9" fill="#5a1a10"/>
<circle cx="265.12" cy="256.98" r="1.9" fill="#5a1a10"/>
<circle cx="269.07" cy="256.73" r="1.9" fill="#5a1a10"/>
<circle cx="274.67" cy="260.64" r="1.9" fill="#5a1a10"/>
<circle cx="267.6" cy="264.8" r="8.4" fill="none" stroke="#5a1a10" stroke-width="1.8"/>
<rect x="278" y="212.2" width="2" height="64.6" fill="#f2e2a8"/>
<rect x="279.8" y="212.2" width="55.8" height="64.4" fill="#7062b6"/>
<rect x="288.6" y="215.6" width="44.9" height="56" fill="#a04aa0" opacity="0.55"/>
<rect x="252.6" y="211.5" width="3.6" height="66" fill="#e0482e"/>
<circle cx="266.7" cy="222.2" r="6.6" fill="url(#gBeige)" stroke="#4a1a10" stroke-width="1"/>
<circle cx="267.6" cy="241.3" r="6.6" fill="url(#gBeige)" stroke="#4a1a10" stroke-width="1"/>
<circle cx="267.6" cy="264.8" r="6.6" fill="url(#gBeige)" stroke="#4a1a10" stroke-width="1"/>
<circle cx="285.2" cy="231.7" r="6.9" fill="url(#gPale)" stroke="#2a1410" stroke-width="1.5"/>
<circle cx="308" cy="225" r="6.9" fill="url(#gPale)" stroke="#2a1410" stroke-width="1.5"/>
<circle cx="299.6" cy="246.1" r="6.9" fill="url(#gPale)" stroke="#2a1410" stroke-width="1.5"/>
<circle cx="317.4" cy="242.7" r="6.9" fill="url(#gPale)" stroke="#2a1410" stroke-width="1.5"/>
<circle cx="282.6" cy="256.3" r="6.9" fill="url(#gPale)" stroke="#2a1410" stroke-width="1.5"/>
<circle cx="308" cy="262.2" r="6.9" fill="url(#gPale)" stroke="#2a1410" stroke-width="1.5"/>
<circle cx="327.5" cy="259.7" r="6.9" fill="url(#gPale)" stroke="#2a1410" stroke-width="1.5"/>
<circle cx="292" cy="270.7" r="6.9" fill="url(#gPale)" stroke="#2a1410" stroke-width="1.5"/>
<circle cx="317.4" cy="242.7" r="6" fill="#f08a50" opacity="0.45"/>
<circle cx="282.6" cy="256.3" r="6" fill="#f08a50" opacity="0.45"/>
<circle cx="308" cy="262.2" r="6" fill="#f08a50" opacity="0.45"/>
<path d="M256,242.5 L287.7,242.5" fill="none" stroke="#f0a070" stroke-width="6.3" stroke-linejoin="round" stroke-linecap="round" opacity="0.35"/>
<path d="M287.7,242.5 L293,222 L295,212.5" fill="none" stroke="#f0a070" stroke-width="5.1" stroke-linejoin="round" stroke-linecap="round" opacity="0.35"/>
<path d="M290,236 L305,233 L322,232 L330,226" fill="none" stroke="#f0a070" stroke-width="4.7" stroke-linejoin="round" stroke-linecap="round" opacity="0.35"/>
<path d="M322,232 L333,235" fill="none" stroke="#f0a070" stroke-width="4.1" stroke-linejoin="round" stroke-linecap="round" opacity="0.35"/>
<path d="M287.7,244 L293,258 L305,265 L318,262 L330,254" fill="none" stroke="#f0a070" stroke-width="4.7" stroke-linejoin="round" stroke-linecap="round" opacity="0.35"/>
<path d="M285,248 L279,262" fill="none" stroke="#f0a070" stroke-width="4.5" stroke-linejoin="round" stroke-linecap="round" opacity="0.35"/>
<path d="M305,265 L306,276" fill="none" stroke="#f0a070" stroke-width="4.0" stroke-linejoin="round" stroke-linecap="round" opacity="0.35"/>
<path d="M270,242.5 L276,250" fill="none" stroke="#f0a070" stroke-width="3.9" stroke-linejoin="round" stroke-linecap="round" opacity="0.35"/>
<path d="M262,242.5 L268,234" fill="none" stroke="#f0a070" stroke-width="3.9" stroke-linejoin="round" stroke-linecap="round" opacity="0.35"/>
<path d="M256,242.5 L287.7,242.5" fill="none" stroke="#e04a2c" stroke-width="3.8" stroke-linejoin="round" stroke-linecap="round" opacity="0.92"/>
<path d="M287.7,242.5 L293,222 L295,212.5" fill="none" stroke="#e46a3a" stroke-width="2.6" stroke-linejoin="round" stroke-linecap="round" opacity="0.92"/>
<path d="M290,236 L305,233 L322,232 L330,226" fill="none" stroke="#e8884e" stroke-width="2.2" stroke-linejoin="round" stroke-linecap="round" opacity="0.92"/>
<path d="M322,232 L333,235" fill="none" stroke="#e8884e" stroke-width="1.6" stroke-linejoin="round" stroke-linecap="round" opacity="0.92"/>
<path d="M287.7,244 L293,258 L305,265 L318,262 L330,254" fill="none" stroke="#e8884e" stroke-width="2.2" stroke-linejoin="round" stroke-linecap="round" opacity="0.92"/>
<path d="M285,248 L279,262" fill="none" stroke="#e46a3a" stroke-width="2.0" stroke-linejoin="round" stroke-linecap="round" opacity="0.92"/>
<path d="M305,265 L306,276" fill="none" stroke="#e8884e" stroke-width="1.5" stroke-linejoin="round" stroke-linecap="round" opacity="0.92"/>
<path d="M270,242.5 L276,250" fill="none" stroke="#e2502e" stroke-width="1.4" stroke-linejoin="round" stroke-linecap="round" opacity="0.92"/>
<path d="M262,242.5 L268,234" fill="none" stroke="#e2502e" stroke-width="1.4" stroke-linejoin="round" stroke-linecap="round" opacity="0.92"/>
<text x="295.4" y="290.4" font-size="8.4" fill="#27256e" font-weight="bold" text-anchor="middle" textLength="54.5" lengthAdjust="spacingAndGlyphs"  stroke="#27256e" stroke-width="0.22">Cell survival at</text>
<text x="293.9" y="299.7" font-size="8.4" fill="#27256e" font-weight="bold" text-anchor="middle" textLength="52.5" lengthAdjust="spacingAndGlyphs"  stroke="#27256e" stroke-width="0.22">only periphery</text>
<path d="M40,320 L120,320 L122,340 L122,388 L40,388 Z" fill="#fce8f0" opacity="0.85" filter="url(#blur1)"/>
<rect x="64" y="303.6" width="36" height="16" fill="#fde8f0" opacity="0.8"/>
<text x="83.0" y="314.6" font-size="8.6" fill="#aa7e44" font-weight="bold" text-anchor="middle" textLength="29" lengthAdjust="spacingAndGlyphs"  stroke="#aa7e44" stroke-width="0.2">PFO-HP</text>
<line x1="44.6" y1="321" x2="44.6" y2="384.5" stroke="#a0502a" stroke-width="2"/>
<g transform="translate(35.9,353.8) rotate(90)"><text x="0" y="2.3" font-size="6.8" font-weight="bold" fill="#3434c4" text-anchor="middle" textLength="42" lengthAdjust="spacingAndGlyphs" stroke="#3434c4" stroke-width="0.2">Blood Vessel</text></g>
<path d="M63.96,336.55 L63.46,337.15 L62.66,337.51 L61.68,337.61 L60.65,337.49 L60.76,338.52 L60.65,339.50 L60.29,340.29 L59.69,340.79 L58.92,340.92 L58.08,340.69 L57.26,340.13 L56.55,339.38 L55.97,340.24 L55.26,340.92 L54.47,341.30 L53.69,341.29 L53.01,340.90 L52.52,340.18 L52.25,339.23 L52.19,338.19 L51.19,338.48 L50.21,338.54 L49.36,338.32 L48.77,337.82 L48.51,337.09 L48.59,336.22 L49.00,335.32 L49.62,334.48 L48.67,334.06 L47.87,333.48 L47.37,332.76 L47.24,332.00 L47.50,331.27 L48.13,330.66 L49.02,330.23 L50.03,329.99 L49.57,329.05 L49.34,328.09 L49.41,327.22 L49.80,326.55 L50.48,326.16 L51.35,326.10 L52.31,326.34 L53.24,326.81 L53.48,325.80 L53.92,324.91 L54.54,324.29 L55.27,324.03 L56.04,324.17 L56.74,324.68 L57.32,325.48 L57.73,326.43 L58.57,325.82 L59.48,325.42 L60.35,325.34 L61.08,325.61 L61.58,326.21 L61.79,327.06 L61.72,328.04 L61.42,329.04 L62.46,329.11 L63.41,329.38 L64.12,329.88 L64.51,330.56 L64.51,331.34 L64.13,332.12 L63.44,332.83 L62.57,333.40 L63.32,334.12 L63.87,334.94 L64.10,335.79 L63.96,336.55Z" fill="#3a3226" />
<circle cx="56.0" cy="332.8" r="7.40" fill="#3a3226"/>
<path d="M49.60,331.80 A6.40,6.40 0 0 1 55.00,326.40" fill="none" stroke="#2a4a2a" stroke-width="1.8"/>
<circle cx="56.0" cy="332.8" r="6.00" fill="url(#gPfoCell)"/>
<circle cx="55.7" cy="333.4" r="0.7" fill="#e0ecff" opacity="0.55"/>
<circle cx="51.8" cy="332.5" r="0.7" fill="#e0ecff" opacity="0.55"/>
<circle cx="57.3" cy="332.7" r="0.7" fill="#e0ecff" opacity="0.55"/>
<circle cx="60.6" cy="332.0" r="0.7" fill="#e0ecff" opacity="0.55"/>
<circle cx="55.8" cy="334.5" r="0.7" fill="#e0ecff" opacity="0.55"/>
<circle cx="56.2" cy="331.8" r="0.7" fill="#e0ecff" opacity="0.55"/>
<circle cx="57.9" cy="334.8" r="0.7" fill="#e0ecff" opacity="0.55"/>
<circle cx="58.9" cy="331.0" r="0.7" fill="#e0ecff" opacity="0.55"/>
<circle cx="55.7" cy="337.6" r="0.7" fill="#e0ecff" opacity="0.55"/>
<circle cx="57.8" cy="331.8" r="0.7" fill="#e0ecff" opacity="0.55"/>
<circle cx="54.8" cy="329.0" r="0.7" fill="#e0ecff" opacity="0.55"/>
<circle cx="57.5" cy="333.4" r="0.7" fill="#e0ecff" opacity="0.55"/>
<path d="M92.90,336.79 L92.26,337.24 L91.40,337.40 L90.43,337.25 L89.46,336.88 L89.31,337.91 L88.97,338.84 L88.42,339.52 L87.71,339.85 L86.94,339.79 L86.18,339.36 L85.53,338.62 L85.02,337.71 L84.25,338.41 L83.39,338.89 L82.53,339.06 L81.78,338.86 L81.22,338.32 L80.92,337.50 L80.89,336.51 L81.09,335.49 L80.05,335.53 L79.08,335.35 L78.31,334.93 L77.86,334.29 L77.78,333.52 L78.08,332.70 L78.69,331.92 L79.50,331.27 L78.68,330.63 L78.05,329.86 L77.74,329.05 L77.80,328.27 L78.24,327.63 L79.00,327.19 L79.96,326.99 L81.00,327.01 L80.79,325.99 L80.80,325.00 L81.08,324.18 L81.62,323.62 L82.37,323.41 L83.23,323.56 L84.10,324.03 L84.89,324.71 L85.38,323.79 L86.02,323.04 L86.77,322.59 L87.54,322.52 L88.25,322.84 L88.81,323.51 L89.18,324.42 L89.34,325.45 L90.31,325.06 L91.28,324.90 L92.14,325.04 L92.78,325.48 L93.12,326.18 L93.12,327.05 L92.81,327.99 L92.28,328.88 L93.27,329.20 L94.12,329.70 L94.69,330.36 L94.90,331.11 L94.71,331.87 L94.15,332.54 L93.31,333.05 L92.32,333.40 L92.88,334.28 L93.20,335.21 L93.22,336.08 L92.90,336.79Z" fill="#3a3226" />
<circle cx="86.1" cy="331.2" r="7.40" fill="#3a3226"/>
<path d="M79.70,330.20 A6.40,6.40 0 0 1 85.10,324.80" fill="none" stroke="#2a4a2a" stroke-width="1.8"/>
<circle cx="86.1" cy="331.2" r="6.00" fill="url(#gPfoCell)"/>
<circle cx="89.2" cy="332.7" r="0.7" fill="#e0ecff" opacity="0.55"/>
<circle cx="82.7" cy="327.4" r="0.7" fill="#e0ecff" opacity="0.55"/>
<circle cx="90.2" cy="333.6" r="0.7" fill="#e0ecff" opacity="0.55"/>
<circle cx="90.6" cy="333.2" r="0.7" fill="#e0ecff" opacity="0.55"/>
<circle cx="81.4" cy="332.6" r="0.7" fill="#e0ecff" opacity="0.55"/>
<circle cx="83.2" cy="330.2" r="0.7" fill="#e0ecff" opacity="0.55"/>
<circle cx="85.5" cy="336.3" r="0.7" fill="#e0ecff" opacity="0.55"/>
<circle cx="84.2" cy="330.9" r="0.7" fill="#e0ecff" opacity="0.55"/>
<circle cx="88.1" cy="332.8" r="0.7" fill="#e0ecff" opacity="0.55"/>
<circle cx="88.1" cy="331.9" r="0.7" fill="#e0ecff" opacity="0.55"/>
<circle cx="85.2" cy="333.4" r="0.7" fill="#e0ecff" opacity="0.55"/>
<circle cx="86.3" cy="328.3" r="0.7" fill="#e0ecff" opacity="0.55"/>
<path d="M114.33,332.92 L113.93,333.58 L113.19,334.05 L112.24,334.30 L111.20,334.34 L111.46,335.34 L111.50,336.33 L111.26,337.17 L110.74,337.75 L110.00,337.99 L109.14,337.89 L108.25,337.46 L107.43,336.82 L106.99,337.76 L106.38,338.54 L105.66,339.03 L104.89,339.14 L104.16,338.86 L103.57,338.22 L103.16,337.32 L102.94,336.30 L102.00,336.74 L101.04,336.95 L100.17,336.85 L99.50,336.44 L99.13,335.76 L99.09,334.89 L99.35,333.94 L99.84,333.02 L98.84,332.75 L97.97,332.29 L97.36,331.66 L97.12,330.92 L97.27,330.16 L97.80,329.46 L98.61,328.90 L99.58,328.51 L98.98,327.66 L98.61,326.75 L98.55,325.87 L98.84,325.15 L99.45,324.67 L100.30,324.47 L101.28,324.57 L102.27,324.89 L102.36,323.85 L102.66,322.91 L103.18,322.21 L103.86,321.84 L104.64,321.86 L105.42,322.26 L106.11,322.96 L106.66,323.84 L107.40,323.11 L108.23,322.58 L109.08,322.37 L109.84,322.53 L110.43,323.05 L110.76,323.85 L110.84,324.84 L110.70,325.87 L111.73,325.78 L112.71,325.91 L113.49,326.30 L113.98,326.91 L114.09,327.68 L113.83,328.51 L113.26,329.31 L112.49,330.01 L113.34,330.61 L114.00,331.34 L114.36,332.14 L114.33,332.92Z" fill="#3a3226" />
<circle cx="105.9" cy="330.4" r="7.40" fill="#3a3226"/>
<path d="M99.50,329.40 A6.40,6.40 0 0 1 104.90,324.00" fill="none" stroke="#2a4a2a" stroke-width="1.8"/>
<circle cx="105.9" cy="330.4" r="6.00" fill="url(#gPfoCell)"/>
<circle cx="107.5" cy="333.8" r="0.7" fill="#e0ecff" opacity="0.55"/>
<circle cx="109.0" cy="330.8" r="0.7" fill="#e0ecff" opacity="0.55"/>
<circle cx="108.5" cy="330.7" r="0.7" fill="#e0ecff" opacity="0.55"/>
<circle cx="101.6" cy="329.0" r="0.7" fill="#e0ecff" opacity="0.55"/>
<circle cx="103.6" cy="330.8" r="0.7" fill="#e0ecff" opacity="0.55"/>
<circle cx="109.9" cy="333.6" r="0.7" fill="#e0ecff" opacity="0.55"/>
<circle cx="101.5" cy="332.4" r="0.7" fill="#e0ecff" opacity="0.55"/>
<circle cx="107.8" cy="327.2" r="0.7" fill="#e0ecff" opacity="0.55"/>
<circle cx="102.6" cy="330.3" r="0.7" fill="#e0ecff" opacity="0.55"/>
<circle cx="110.3" cy="329.9" r="0.7" fill="#e0ecff" opacity="0.55"/>
<circle cx="107.4" cy="327.7" r="0.7" fill="#e0ecff" opacity="0.55"/>
<circle cx="103.0" cy="327.0" r="0.7" fill="#e0ecff" opacity="0.55"/>
<path d="M79.39,349.16 L78.91,349.78 L78.13,350.16 L77.15,350.30 L76.11,350.22 L76.26,351.25 L76.19,352.23 L75.85,353.04 L75.27,353.55 L74.51,353.71 L73.66,353.51 L72.82,352.98 L72.08,352.25 L71.54,353.14 L70.85,353.84 L70.07,354.24 L69.29,354.27 L68.61,353.90 L68.09,353.20 L67.78,352.26 L67.69,351.22 L66.70,351.55 L65.72,351.65 L64.87,351.46 L64.25,350.97 L63.96,350.25 L64.02,349.38 L64.39,348.47 L64.98,347.61 L64.02,347.22 L63.20,346.67 L62.67,345.97 L62.51,345.21 L62.76,344.47 L63.36,343.84 L64.23,343.38 L65.23,343.10 L64.74,342.18 L64.47,341.24 L64.51,340.36 L64.88,339.68 L65.54,339.27 L66.41,339.17 L67.38,339.38 L68.32,339.81 L68.53,338.79 L68.94,337.89 L69.53,337.25 L70.26,336.96 L71.03,337.07 L71.75,337.56 L72.36,338.33 L72.81,339.27 L73.62,338.63 L74.51,338.20 L75.38,338.09 L76.12,338.34 L76.64,338.91 L76.88,339.75 L76.85,340.74 L76.58,341.75 L77.62,341.78 L78.58,342.02 L79.31,342.49 L79.72,343.15 L79.75,343.93 L79.40,344.73 L78.74,345.46 L77.89,346.07 L78.67,346.76 L79.24,347.56 L79.50,348.39 L79.39,349.16Z" fill="#3a3226" />
<circle cx="71.3" cy="345.7" r="7.40" fill="#3a3226"/>
<path d="M64.90,344.70 A6.40,6.40 0 0 1 70.30,339.30" fill="none" stroke="#2a4a2a" stroke-width="1.8"/>
<circle cx="71.3" cy="345.7" r="6.00" fill="url(#gPfoCell)"/>
<circle cx="74.2" cy="346.7" r="0.7" fill="#e0ecff" opacity="0.55"/>
<circle cx="73.0" cy="346.5" r="0.7" fill="#e0ecff" opacity="0.55"/>
<circle cx="71.1" cy="350.3" r="0.7" fill="#e0ecff" opacity="0.55"/>
<circle cx="73.1" cy="346.8" r="0.7" fill="#e0ecff" opacity="0.55"/>
<circle cx="74.6" cy="342.2" r="0.7" fill="#e0ecff" opacity="0.55"/>
<circle cx="70.4" cy="350.0" r="0.7" fill="#e0ecff" opacity="0.55"/>
<circle cx="70.6" cy="348.2" r="0.7" fill="#e0ecff" opacity="0.55"/>
<circle cx="73.3" cy="348.7" r="0.7" fill="#e0ecff" opacity="0.55"/>
<circle cx="71.0" cy="349.2" r="0.7" fill="#e0ecff" opacity="0.55"/>
<circle cx="76.4" cy="344.8" r="0.7" fill="#e0ecff" opacity="0.55"/>
<circle cx="71.4" cy="349.6" r="0.7" fill="#e0ecff" opacity="0.55"/>
<circle cx="69.4" cy="350.5" r="0.7" fill="#e0ecff" opacity="0.55"/>
<path d="M102.65,349.07 L102.20,349.71 L101.43,350.13 L100.46,350.31 L99.42,350.28 L99.62,351.30 L99.60,352.29 L99.30,353.11 L98.74,353.65 L97.99,353.85 L97.13,353.68 L96.27,353.20 L95.50,352.51 L94.99,353.42 L94.34,354.16 L93.58,354.59 L92.81,354.65 L92.10,354.32 L91.55,353.64 L91.20,352.72 L91.06,351.69 L90.09,352.06 L89.11,352.21 L88.25,352.06 L87.62,351.61 L87.29,350.90 L87.31,350.02 L87.63,349.09 L88.18,348.21 L87.20,347.87 L86.36,347.36 L85.79,346.69 L85.60,345.93 L85.81,345.18 L86.38,344.52 L87.23,344.02 L88.22,343.70 L87.68,342.80 L87.37,341.87 L87.37,341.00 L87.70,340.29 L88.34,339.85 L89.20,339.71 L90.18,339.87 L91.14,340.26 L91.31,339.23 L91.67,338.32 L92.23,337.65 L92.94,337.32 L93.71,337.39 L94.46,337.84 L95.10,338.59 L95.59,339.51 L96.38,338.83 L97.25,338.36 L98.11,338.20 L98.86,338.41 L99.40,338.97 L99.69,339.79 L99.70,340.78 L99.49,341.80 L100.53,341.78 L101.49,341.98 L102.25,342.41 L102.69,343.05 L102.75,343.83 L102.44,344.64 L101.82,345.41 L101.00,346.05 L101.81,346.70 L102.42,347.48 L102.72,348.30 L102.65,349.07Z" fill="#3a3226" />
<circle cx="94.4" cy="346.0" r="7.40" fill="#3a3226"/>
<path d="M88.00,345.00 A6.40,6.40 0 0 1 93.40,339.60" fill="none" stroke="#2a4a2a" stroke-width="1.8"/>
<circle cx="94.4" cy="346.0" r="6.00" fill="url(#gPfoCell)"/>
<circle cx="94.3" cy="346.1" r="0.7" fill="#e0ecff" opacity="0.55"/>
<circle cx="90.7" cy="345.9" r="0.7" fill="#e0ecff" opacity="0.55"/>
<circle cx="92.0" cy="345.9" r="0.7" fill="#e0ecff" opacity="0.55"/>
<circle cx="94.4" cy="346.4" r="0.7" fill="#e0ecff" opacity="0.55"/>
<circle cx="93.1" cy="346.9" r="0.7" fill="#e0ecff" opacity="0.55"/>
<circle cx="95.5" cy="346.2" r="0.7" fill="#e0ecff" opacity="0.55"/>
<circle cx="94.7" cy="348.9" r="0.7" fill="#e0ecff" opacity="0.55"/>
<circle cx="90.4" cy="345.3" r="0.7" fill="#e0ecff" opacity="0.55"/>
<circle cx="91.9" cy="342.2" r="0.7" fill="#e0ecff" opacity="0.55"/>
<circle cx="97.7" cy="342.9" r="0.7" fill="#e0ecff" opacity="0.55"/>
<circle cx="92.9" cy="348.9" r="0.7" fill="#e0ecff" opacity="0.55"/>
<circle cx="97.5" cy="350.2" r="0.7" fill="#e0ecff" opacity="0.55"/>
<path d="M118.29,355.93 L117.64,356.36 L116.78,356.48 L115.81,356.31 L114.85,355.90 L114.67,356.92 L114.29,357.83 L113.72,358.49 L113.00,358.80 L112.23,358.72 L111.49,358.25 L110.86,357.49 L110.39,356.57 L109.59,357.24 L108.71,357.69 L107.85,357.83 L107.10,357.60 L106.57,357.04 L106.30,356.21 L106.30,355.22 L106.54,354.21 L105.49,354.21 L104.53,353.99 L103.78,353.54 L103.36,352.89 L103.31,352.12 L103.63,351.31 L104.27,350.56 L105.10,349.93 L104.31,349.26 L103.71,348.48 L103.42,347.65 L103.51,346.88 L103.97,346.25 L104.75,345.84 L105.72,345.67 L106.76,345.73 L106.58,344.70 L106.62,343.72 L106.93,342.90 L107.50,342.37 L108.26,342.18 L109.11,342.37 L109.96,342.86 L110.72,343.57 L111.24,342.67 L111.91,341.95 L112.68,341.52 L113.45,341.48 L114.15,341.82 L114.69,342.51 L115.02,343.44 L115.15,344.47 L116.13,344.12 L117.10,343.99 L117.96,344.16 L118.59,344.62 L118.90,345.33 L118.87,346.21 L118.52,347.13 L117.96,348.00 L118.94,348.36 L119.77,348.89 L120.32,349.57 L120.50,350.33 L120.28,351.08 L119.69,351.72 L118.84,352.21 L117.84,352.52 L118.36,353.42 L118.65,354.36 L118.64,355.23 L118.29,355.93Z" fill="#3a3226" />
<circle cx="111.7" cy="350.1" r="7.40" fill="#3a3226"/>
<path d="M105.30,349.10 A6.40,6.40 0 0 1 110.70,343.70" fill="none" stroke="#2a4a2a" stroke-width="1.8"/>
<circle cx="111.7" cy="350.1" r="6.00" fill="url(#gPfoCell)"/>
<circle cx="115.8" cy="351.3" r="0.7" fill="#e0ecff" opacity="0.55"/>
<circle cx="115.5" cy="347.1" r="0.7" fill="#e0ecff" opacity="0.55"/>
<circle cx="111.3" cy="345.9" r="0.7" fill="#e0ecff" opacity="0.55"/>
<circle cx="114.8" cy="353.8" r="0.7" fill="#e0ecff" opacity="0.55"/>
<circle cx="107.9" cy="350.0" r="0.7" fill="#e0ecff" opacity="0.55"/>
<circle cx="113.3" cy="345.5" r="0.7" fill="#e0ecff" opacity="0.55"/>
<circle cx="107.5" cy="347.7" r="0.7" fill="#e0ecff" opacity="0.55"/>
<circle cx="109.7" cy="345.5" r="0.7" fill="#e0ecff" opacity="0.55"/>
<circle cx="112.3" cy="354.5" r="0.7" fill="#e0ecff" opacity="0.55"/>
<circle cx="112.3" cy="350.8" r="0.7" fill="#e0ecff" opacity="0.55"/>
<circle cx="114.2" cy="352.0" r="0.7" fill="#e0ecff" opacity="0.55"/>
<circle cx="107.2" cy="348.4" r="0.7" fill="#e0ecff" opacity="0.55"/>
<path d="M61.12,357.77 L60.52,358.26 L59.67,358.46 L58.69,358.38 L57.69,358.07 L57.61,359.11 L57.32,360.05 L56.81,360.76 L56.13,361.14 L55.36,361.13 L54.57,360.74 L53.87,360.04 L53.31,359.16 L52.58,359.91 L51.76,360.44 L50.91,360.66 L50.15,360.51 L49.56,360.00 L49.21,359.20 L49.12,358.22 L49.25,357.19 L48.22,357.29 L47.24,357.16 L46.45,356.79 L45.96,356.18 L45.84,355.41 L46.09,354.58 L46.65,353.77 L47.42,353.06 L46.56,352.47 L45.89,351.75 L45.53,350.96 L45.54,350.18 L45.94,349.51 L46.67,349.03 L47.62,348.77 L48.66,348.72 L48.38,347.72 L48.33,346.74 L48.56,345.89 L49.08,345.31 L49.81,345.05 L50.68,345.15 L51.57,345.56 L52.40,346.20 L52.83,345.25 L53.43,344.46 L54.15,343.97 L54.92,343.85 L55.64,344.13 L56.24,344.76 L56.66,345.65 L56.89,346.67 L57.83,346.22 L58.79,346.00 L59.66,346.08 L60.33,346.48 L60.71,347.16 L60.76,348.04 L60.51,348.99 L60.03,349.91 L61.04,350.17 L61.91,350.62 L62.53,351.24 L62.78,351.98 L62.63,352.75 L62.11,353.45 L61.31,354.02 L60.35,354.42 L60.95,355.26 L61.33,356.17 L61.40,357.04 L61.12,357.77Z" fill="#3a3226" />
<circle cx="54.0" cy="352.6" r="7.40" fill="#3a3226"/>
<path d="M47.60,351.60 A6.40,6.40 0 0 1 53.00,346.20" fill="none" stroke="#2a4a2a" stroke-width="1.8"/>
<circle cx="54.0" cy="352.6" r="6.00" fill="url(#gPfoCell)"/>
<circle cx="52.2" cy="348.8" r="0.7" fill="#e0ecff" opacity="0.55"/>
<circle cx="57.7" cy="352.7" r="0.7" fill="#e0ecff" opacity="0.55"/>
<circle cx="53.9" cy="347.9" r="0.7" fill="#e0ecff" opacity="0.55"/>
<circle cx="50.3" cy="351.8" r="0.7" fill="#e0ecff" opacity="0.55"/>
<circle cx="57.9" cy="354.3" r="0.7" fill="#e0ecff" opacity="0.55"/>
<circle cx="53.9" cy="357.1" r="0.7" fill="#e0ecff" opacity="0.55"/>
<circle cx="53.9" cy="354.0" r="0.7" fill="#e0ecff" opacity="0.55"/>
<circle cx="55.3" cy="356.9" r="0.7" fill="#e0ecff" opacity="0.55"/>
<circle cx="58.5" cy="351.9" r="0.7" fill="#e0ecff" opacity="0.55"/>
<circle cx="51.2" cy="355.1" r="0.7" fill="#e0ecff" opacity="0.55"/>
<circle cx="52.5" cy="349.2" r="0.7" fill="#e0ecff" opacity="0.55"/>
<circle cx="50.6" cy="349.5" r="0.7" fill="#e0ecff" opacity="0.55"/>
<path d="M79.14,366.97 L78.53,367.46 L77.68,367.65 L76.70,367.55 L75.71,367.22 L75.61,368.26 L75.31,369.20 L74.79,369.90 L74.11,370.27 L73.33,370.24 L72.55,369.84 L71.86,369.14 L71.32,368.25 L70.57,368.98 L69.74,369.51 L68.89,369.71 L68.13,369.55 L67.55,369.03 L67.21,368.23 L67.14,367.25 L67.29,366.22 L66.25,366.30 L65.27,366.16 L64.49,365.78 L64.01,365.16 L63.90,364.39 L64.16,363.56 L64.73,362.76 L65.51,362.07 L64.66,361.46 L64.00,360.73 L63.65,359.93 L63.68,359.15 L64.09,358.49 L64.82,358.02 L65.78,357.78 L66.82,357.74 L66.55,356.74 L66.52,355.75 L66.76,354.91 L67.28,354.33 L68.02,354.09 L68.89,354.20 L69.78,354.63 L70.60,355.27 L71.04,354.33 L71.65,353.56 L72.38,353.07 L73.15,352.96 L73.87,353.25 L74.46,353.89 L74.87,354.79 L75.08,355.81 L76.02,355.38 L76.99,355.17 L77.86,355.27 L78.52,355.68 L78.89,356.36 L78.93,357.24 L78.66,358.19 L78.17,359.10 L79.17,359.38 L80.04,359.84 L80.64,360.47 L80.89,361.21 L80.73,361.98 L80.20,362.67 L79.38,363.23 L78.42,363.61 L79.01,364.47 L79.38,365.38 L79.43,366.25 L79.14,366.97Z" fill="#3a3226" />
<circle cx="72.1" cy="361.7" r="7.40" fill="#3a3226"/>
<path d="M65.70,360.70 A6.40,6.40 0 0 1 71.10,355.30" fill="none" stroke="#2a4a2a" stroke-width="1.8"/>
<circle cx="72.1" cy="361.7" r="6.00" fill="url(#gPfoCell)"/>
<circle cx="73.0" cy="362.9" r="0.7" fill="#e0ecff" opacity="0.55"/>
<circle cx="72.0" cy="359.0" r="0.7" fill="#e0ecff" opacity="0.55"/>
<circle cx="69.4" cy="360.5" r="0.7" fill="#e0ecff" opacity="0.55"/>
<circle cx="72.6" cy="361.9" r="0.7" fill="#e0ecff" opacity="0.55"/>
<circle cx="70.8" cy="359.3" r="0.7" fill="#e0ecff" opacity="0.55"/>
<circle cx="70.1" cy="357.8" r="0.7" fill="#e0ecff" opacity="0.55"/>
<circle cx="69.3" cy="361.4" r="0.7" fill="#e0ecff" opacity="0.55"/>
<circle cx="68.6" cy="362.5" r="0.7" fill="#e0ecff" opacity="0.55"/>
<circle cx="73.5" cy="360.6" r="0.7" fill="#e0ecff" opacity="0.55"/>
<circle cx="74.4" cy="361.4" r="0.7" fill="#e0ecff" opacity="0.55"/>
<circle cx="77.2" cy="362.3" r="0.7" fill="#e0ecff" opacity="0.55"/>
<circle cx="73.6" cy="358.5" r="0.7" fill="#e0ecff" opacity="0.55"/>
<path d="M96.89,368.05 L96.15,368.31 L95.29,368.22 L94.39,367.81 L93.56,367.19 L93.13,368.14 L92.54,368.93 L91.83,369.43 L91.06,369.56 L90.33,369.29 L89.72,368.66 L89.30,367.77 L89.06,366.76 L88.13,367.21 L87.17,367.44 L86.30,367.37 L85.63,366.97 L85.24,366.29 L85.18,365.42 L85.42,364.47 L85.90,363.54 L84.89,363.29 L84.01,362.85 L83.39,362.23 L83.13,361.50 L83.27,360.73 L83.78,360.02 L84.58,359.45 L85.54,359.04 L84.93,358.20 L84.54,357.29 L84.46,356.42 L84.73,355.69 L85.33,355.20 L86.18,354.99 L87.16,355.06 L88.16,355.36 L88.23,354.32 L88.51,353.38 L89.01,352.66 L89.69,352.28 L90.47,352.29 L91.26,352.67 L91.96,353.36 L92.53,354.23 L93.25,353.48 L94.08,352.94 L94.92,352.71 L95.68,352.86 L96.28,353.36 L96.63,354.16 L96.73,355.14 L96.60,356.17 L97.64,356.06 L98.62,356.18 L99.41,356.55 L99.91,357.15 L100.04,357.91 L99.79,358.75 L99.24,359.57 L98.48,360.28 L99.34,360.86 L100.02,361.58 L100.39,362.37 L100.38,363.15 L99.99,363.82 L99.26,364.31 L98.31,364.57 L97.28,364.63 L97.56,365.63 L97.62,366.61 L97.39,367.46 L96.89,368.05Z" fill="#3a3226" />
<circle cx="91.9" cy="360.8" r="7.40" fill="#3a3226"/>
<path d="M85.50,359.80 A6.40,6.40 0 0 1 90.90,354.40" fill="none" stroke="#2a4a2a" stroke-width="1.8"/>
<circle cx="91.9" cy="360.8" r="6.00" fill="url(#gPfoCell)"/>
<circle cx="91.5" cy="364.3" r="0.7" fill="#e0ecff" opacity="0.55"/>
<circle cx="94.2" cy="360.0" r="0.7" fill="#e0ecff" opacity="0.55"/>
<circle cx="89.8" cy="359.6" r="0.7" fill="#e0ecff" opacity="0.55"/>
<circle cx="89.9" cy="360.5" r="0.7" fill="#e0ecff" opacity="0.55"/>
<circle cx="95.4" cy="364.6" r="0.7" fill="#e0ecff" opacity="0.55"/>
<circle cx="87.1" cy="360.5" r="0.7" fill="#e0ecff" opacity="0.55"/>
<circle cx="90.5" cy="356.0" r="0.7" fill="#e0ecff" opacity="0.55"/>
<circle cx="93.9" cy="359.3" r="0.7" fill="#e0ecff" opacity="0.55"/>
<circle cx="95.6" cy="361.4" r="0.7" fill="#e0ecff" opacity="0.55"/>
<circle cx="91.6" cy="360.8" r="0.7" fill="#e0ecff" opacity="0.55"/>
<circle cx="90.8" cy="364.2" r="0.7" fill="#e0ecff" opacity="0.55"/>
<circle cx="90.8" cy="362.5" r="0.7" fill="#e0ecff" opacity="0.55"/>
<path d="M118.36,368.54 L117.94,369.19 L117.19,369.64 L116.23,369.87 L115.19,369.87 L115.43,370.89 L115.45,371.87 L115.18,372.70 L114.65,373.27 L113.90,373.50 L113.04,373.37 L112.16,372.92 L111.36,372.26 L110.89,373.19 L110.27,373.95 L109.53,374.42 L108.76,374.51 L108.04,374.21 L107.46,373.55 L107.08,372.64 L106.89,371.62 L105.93,372.03 L104.97,372.22 L104.10,372.10 L103.45,371.68 L103.10,370.98 L103.08,370.11 L103.36,369.17 L103.88,368.26 L102.88,367.96 L102.02,367.48 L101.43,366.84 L101.20,366.09 L101.38,365.33 L101.93,364.65 L102.75,364.11 L103.73,363.75 L103.16,362.88 L102.81,361.96 L102.77,361.08 L103.08,360.37 L103.70,359.90 L104.55,359.73 L105.53,359.85 L106.51,360.20 L106.63,359.16 L106.96,358.23 L107.49,357.54 L108.19,357.19 L108.96,357.23 L109.73,357.65 L110.40,358.37 L110.93,359.27 L111.69,358.55 L112.54,358.05 L113.39,357.86 L114.15,358.04 L114.72,358.57 L115.03,359.38 L115.09,360.37 L114.91,361.39 L115.95,361.33 L116.92,361.49 L117.70,361.90 L118.17,362.52 L118.26,363.29 L117.98,364.12 L117.39,364.91 L116.60,365.58 L117.43,366.20 L118.07,366.95 L118.41,367.76 L118.36,368.54Z" fill="#3a3226" />
<circle cx="110.0" cy="365.8" r="7.40" fill="#3a3226"/>
<path d="M103.60,364.80 A6.40,6.40 0 0 1 109.00,359.40" fill="none" stroke="#2a4a2a" stroke-width="1.8"/>
<circle cx="110.0" cy="365.8" r="6.00" fill="url(#gPfoCell)"/>
<circle cx="114.9" cy="365.9" r="0.7" fill="#e0ecff" opacity="0.55"/>
<circle cx="112.4" cy="361.9" r="0.7" fill="#e0ecff" opacity="0.55"/>
<circle cx="111.6" cy="365.0" r="0.7" fill="#e0ecff" opacity="0.55"/>
<circle cx="113.6" cy="363.2" r="0.7" fill="#e0ecff" opacity="0.55"/>
<circle cx="108.0" cy="367.9" r="0.7" fill="#e0ecff" opacity="0.55"/>
<circle cx="113.3" cy="365.8" r="0.7" fill="#e0ecff" opacity="0.55"/>
<circle cx="107.4" cy="368.9" r="0.7" fill="#e0ecff" opacity="0.55"/>
<circle cx="109.5" cy="369.2" r="0.7" fill="#e0ecff" opacity="0.55"/>
<circle cx="110.9" cy="366.5" r="0.7" fill="#e0ecff" opacity="0.55"/>
<circle cx="108.9" cy="370.5" r="0.7" fill="#e0ecff" opacity="0.55"/>
<circle cx="110.0" cy="370.9" r="0.7" fill="#e0ecff" opacity="0.55"/>
<circle cx="107.3" cy="365.6" r="0.7" fill="#e0ecff" opacity="0.55"/>
<path d="M62.64,370.76 L62.30,371.46 L61.62,372.01 L60.70,372.35 L59.66,372.49 L60.03,373.46 L60.17,374.44 L60.01,375.30 L59.55,375.93 L58.84,376.25 L57.97,376.22 L57.04,375.89 L56.16,375.34 L55.82,376.32 L55.29,377.15 L54.62,377.71 L53.87,377.90 L53.12,377.69 L52.46,377.11 L51.96,376.26 L51.65,375.27 L50.75,375.80 L49.81,376.10 L48.94,376.09 L48.24,375.75 L47.80,375.11 L47.67,374.25 L47.84,373.27 L48.23,372.31 L47.21,372.14 L46.29,371.77 L45.63,371.21 L45.31,370.50 L45.39,369.72 L45.85,368.98 L46.60,368.34 L47.52,367.85 L46.84,367.06 L46.38,366.19 L46.23,365.33 L46.45,364.58 L47.01,364.04 L47.83,363.76 L48.82,363.76 L49.84,363.98 L49.83,362.94 L50.03,361.98 L50.47,361.22 L51.12,360.79 L51.89,360.73 L52.71,361.05 L53.47,361.68 L54.10,362.50 L54.76,361.70 L55.54,361.09 L56.36,360.80 L57.14,360.88 L57.77,361.33 L58.19,362.10 L58.36,363.07 L58.32,364.11 L59.34,363.92 L60.33,363.95 L61.15,364.26 L61.69,364.82 L61.88,365.57 L61.71,366.43 L61.22,367.28 L60.52,368.05 L61.42,368.57 L62.15,369.22 L62.59,369.98 L62.64,370.76Z" fill="#3a3226" />
<circle cx="54.0" cy="369.1" r="7.40" fill="#3a3226"/>
<path d="M47.60,368.10 A6.40,6.40 0 0 1 53.00,362.70" fill="none" stroke="#2a4a2a" stroke-width="1.8"/>
<circle cx="54.0" cy="369.1" r="6.00" fill="url(#gPfoCell)"/>
<circle cx="57.1" cy="368.2" r="0.7" fill="#e0ecff" opacity="0.55"/>
<circle cx="55.9" cy="364.5" r="0.7" fill="#e0ecff" opacity="0.55"/>
<circle cx="57.6" cy="366.9" r="0.7" fill="#e0ecff" opacity="0.55"/>
<circle cx="49.1" cy="367.5" r="0.7" fill="#e0ecff" opacity="0.55"/>
<circle cx="58.3" cy="370.5" r="0.7" fill="#e0ecff" opacity="0.55"/>
<circle cx="49.7" cy="370.5" r="0.7" fill="#e0ecff" opacity="0.55"/>
<circle cx="51.2" cy="365.5" r="0.7" fill="#e0ecff" opacity="0.55"/>
<circle cx="56.7" cy="370.0" r="0.7" fill="#e0ecff" opacity="0.55"/>
<circle cx="57.6" cy="372.8" r="0.7" fill="#e0ecff" opacity="0.55"/>
<circle cx="52.0" cy="372.1" r="0.7" fill="#e0ecff" opacity="0.55"/>
<circle cx="53.8" cy="366.2" r="0.7" fill="#e0ecff" opacity="0.55"/>
<circle cx="53.7" cy="374.3" r="0.7" fill="#e0ecff" opacity="0.55"/>
<path d="M78.27,381.87 L77.66,382.34 L76.80,382.52 L75.82,382.41 L74.84,382.07 L74.73,383.11 L74.41,384.04 L73.88,384.74 L73.19,385.09 L72.41,385.06 L71.64,384.65 L70.96,383.93 L70.43,383.04 L69.68,383.76 L68.84,384.27 L67.98,384.47 L67.22,384.30 L66.65,383.77 L66.33,382.96 L66.26,381.98 L66.43,380.95 L65.39,381.02 L64.42,380.87 L63.64,380.47 L63.16,379.86 L63.06,379.08 L63.34,378.25 L63.92,377.46 L64.71,376.78 L63.87,376.16 L63.22,375.42 L62.87,374.62 L62.91,373.84 L63.33,373.18 L64.07,372.72 L65.03,372.49 L66.07,372.47 L65.82,371.46 L65.80,370.48 L66.06,369.64 L66.58,369.07 L67.33,368.84 L68.19,368.96 L69.07,369.40 L69.88,370.05 L70.34,369.12 L70.96,368.35 L71.69,367.88 L72.46,367.78 L73.18,368.07 L73.76,368.73 L74.16,369.63 L74.36,370.65 L75.31,370.23 L76.27,370.04 L77.14,370.14 L77.80,370.56 L78.16,371.26 L78.18,372.13 L77.91,373.07 L77.40,373.98 L78.40,374.27 L79.26,374.75 L79.86,375.39 L80.09,376.13 L79.92,376.89 L79.38,377.58 L78.56,378.12 L77.59,378.49 L78.17,379.36 L78.53,380.28 L78.57,381.15 L78.27,381.87Z" fill="#3a3226" />
<circle cx="71.3" cy="376.5" r="7.40" fill="#3a3226"/>
<path d="M64.90,375.50 A6.40,6.40 0 0 1 70.30,370.10" fill="none" stroke="#2a4a2a" stroke-width="1.8"/>
<circle cx="71.3" cy="376.5" r="6.00" fill="url(#gPfoCell)"/>
<circle cx="68.6" cy="375.5" r="0.7" fill="#e0ecff" opacity="0.55"/>
<circle cx="73.0" cy="379.4" r="0.7" fill="#e0ecff" opacity="0.55"/>
<circle cx="71.9" cy="378.6" r="0.7" fill="#e0ecff" opacity="0.55"/>
<circle cx="66.3" cy="376.6" r="0.7" fill="#e0ecff" opacity="0.55"/>
<circle cx="73.4" cy="375.1" r="0.7" fill="#e0ecff" opacity="0.55"/>
<circle cx="66.3" cy="378.1" r="0.7" fill="#e0ecff" opacity="0.55"/>
<circle cx="72.0" cy="378.4" r="0.7" fill="#e0ecff" opacity="0.55"/>
<circle cx="70.4" cy="377.8" r="0.7" fill="#e0ecff" opacity="0.55"/>
<circle cx="71.4" cy="378.1" r="0.7" fill="#e0ecff" opacity="0.55"/>
<circle cx="68.9" cy="375.4" r="0.7" fill="#e0ecff" opacity="0.55"/>
<circle cx="71.3" cy="371.5" r="0.7" fill="#e0ecff" opacity="0.55"/>
<circle cx="68.4" cy="378.3" r="0.7" fill="#e0ecff" opacity="0.55"/>
<path d="M98.72,380.10 L98.17,380.66 L97.34,380.95 L96.36,380.97 L95.34,380.76 L95.37,381.80 L95.17,382.77 L94.74,383.53 L94.11,383.97 L93.33,384.04 L92.51,383.73 L91.74,383.11 L91.10,382.30 L90.45,383.11 L89.68,383.73 L88.86,384.04 L88.09,383.97 L87.45,383.52 L87.02,382.76 L86.83,381.79 L86.85,380.75 L85.83,380.96 L84.85,380.94 L84.03,380.65 L83.48,380.10 L83.27,379.34 L83.43,378.49 L83.91,377.62 L84.60,376.84 L83.69,376.34 L82.94,375.70 L82.50,374.94 L82.43,374.17 L82.76,373.46 L83.44,372.91 L84.36,372.55 L85.39,372.40 L85.01,371.43 L84.86,370.45 L85.00,369.59 L85.45,368.96 L86.15,368.63 L87.03,368.63 L87.96,368.95 L88.85,369.50 L89.18,368.51 L89.69,367.67 L90.35,367.10 L91.11,366.90 L91.86,367.10 L92.52,367.67 L93.03,368.51 L93.36,369.50 L94.25,368.96 L95.18,368.64 L96.06,368.63 L96.76,368.96 L97.21,369.60 L97.35,370.46 L97.20,371.43 L96.82,372.40 L97.85,372.56 L98.77,372.91 L99.44,373.47 L99.77,374.18 L99.70,374.95 L99.26,375.70 L98.51,376.35 L97.60,376.85 L98.29,377.63 L98.76,378.49 L98.92,379.35 L98.72,380.10Z" fill="#3a3226" />
<circle cx="91.1" cy="375.7" r="7.40" fill="#3a3226"/>
<path d="M84.70,374.70 A6.40,6.40 0 0 1 90.10,369.30" fill="none" stroke="#2a4a2a" stroke-width="1.8"/>
<circle cx="91.1" cy="375.7" r="6.00" fill="url(#gPfoCell)"/>
<circle cx="89.4" cy="378.5" r="0.7" fill="#e0ecff" opacity="0.55"/>
<circle cx="90.9" cy="377.0" r="0.7" fill="#e0ecff" opacity="0.55"/>
<circle cx="94.8" cy="379.4" r="0.7" fill="#e0ecff" opacity="0.55"/>
<circle cx="88.5" cy="373.0" r="0.7" fill="#e0ecff" opacity="0.55"/>
<circle cx="92.1" cy="380.5" r="0.7" fill="#e0ecff" opacity="0.55"/>
<circle cx="91.1" cy="378.5" r="0.7" fill="#e0ecff" opacity="0.55"/>
<circle cx="87.9" cy="376.8" r="0.7" fill="#e0ecff" opacity="0.55"/>
<circle cx="94.1" cy="371.5" r="0.7" fill="#e0ecff" opacity="0.55"/>
<circle cx="96.0" cy="376.4" r="0.7" fill="#e0ecff" opacity="0.55"/>
<circle cx="90.9" cy="374.8" r="0.7" fill="#e0ecff" opacity="0.55"/>
<circle cx="86.2" cy="376.5" r="0.7" fill="#e0ecff" opacity="0.55"/>
<circle cx="95.2" cy="375.7" r="0.7" fill="#e0ecff" opacity="0.55"/>
<linearGradient id="ba125352" gradientUnits="userSpaceOnUse" x1="125.2" y1="0" x2="142.4" y2="0"><stop offset="0" stop-color="#ffffff"/><stop offset="0.18" stop-color="#ffffff"/><stop offset="0.32" stop-color="#f4aab4"/><stop offset="0.6" stop-color="#e898a0"/><stop offset="1" stop-color="#a04a50"/></linearGradient>
<path d="M125.2,348.29999999999995 L134.0,348.29999999999995 L142.4,352.9 L134.0,357.5 L125.2,357.5 Z" fill="url(#ba125352)"/>
<path d="M134.0,348.29999999999995 L125.2,348.29999999999995 L125.2,357.5 L134.0,357.5" fill="none" stroke="#3a3434" stroke-width="1.1"/>
<path d="M133.4,343.5 L142.4,352.9 L133.4,362.29999999999995" fill="none" stroke="#4a3a3a" stroke-width="1.5"/>
<rect x="175" y="293" width="22" height="1" fill="none"/>
<rect x="160" y="295" width="50" height="10" fill="#fde2ea" opacity="0.85"/>
<text x="184.7" y="304.1" font-size="8" font-weight="bold" fill="#b8643e" text-anchor="middle" textLength="46" lengthAdjust="spacingAndGlyphs" stroke="#b8643e" stroke-width="0.2">Sufficient O<tspan font-size="5" dy="1.3">2</tspan></text>
<text x="134.8" y="313.1" font-size="8" font-weight="bold" font-style="italic" textLength="98.5" lengthAdjust="spacingAndGlyphs"><tspan fill="#27256e">(by </tspan><tspan fill="#2e2eb8">diffusion</tspan><tspan fill="#a8603a"> &amp; O</tspan><tspan fill="#a8603a" font-size="5" dy="1.3">2</tspan><tspan fill="#a8603a" dy="-1.3"> releasing)</tspan></text>
<rect x="139" y="317" width="14" height="70" fill="#f7a0a8" filter="url(#blur2)"/>
<rect x="152" y="320.5" width="70.2" height="62.8" fill="#f6e48e"/>
<rect x="144.6" y="320.5" width="17" height="62.8" fill="url(#gOY)"/>
<line x1="147.3" y1="320.5" x2="147.3" y2="383.3" stroke="#c8341e" stroke-width="1.8"/>
<circle cx="152.99" cy="338.01" r="1.7" fill="#5a2418"/>
<circle cx="151.63" cy="333.47" r="1.7" fill="#5a2418"/>
<circle cx="153.89" cy="329.29" r="1.7" fill="#5a2418"/>
<circle cx="158.43" cy="327.93" r="1.7" fill="#5a2418"/>
<circle cx="162.61" cy="330.19" r="1.7" fill="#5a2418"/>
<circle cx="163.97" cy="334.73" r="1.7" fill="#5a2418"/>
<circle cx="161.71" cy="338.91" r="1.7" fill="#5a2418"/>
<circle cx="157.17" cy="340.27" r="1.7" fill="#5a2418"/>
<circle cx="157.8" cy="334.1" r="6.8" fill="#5a2418"/>
<circle cx="157.8" cy="334.1" r="5.6" fill="#a87890"/>
<path d="M150.3,334.6 q2,-5.5 4.5,0 t4.5,0 t4.5,0" fill="none" stroke="#7020c8" stroke-width="2.2" stroke-linecap="round"/>
<circle cx="163.35" cy="349.13" r="1.7" fill="#5a2418"/>
<circle cx="163.68" cy="353.87" r="1.7" fill="#5a2418"/>
<circle cx="160.57" cy="357.45" r="1.7" fill="#5a2418"/>
<circle cx="155.83" cy="357.78" r="1.7" fill="#5a2418"/>
<circle cx="152.25" cy="354.67" r="1.7" fill="#5a2418"/>
<circle cx="151.92" cy="349.93" r="1.7" fill="#5a2418"/>
<circle cx="155.03" cy="346.35" r="1.7" fill="#5a2418"/>
<circle cx="159.77" cy="346.02" r="1.7" fill="#5a2418"/>
<circle cx="157.8" cy="351.9" r="6.8" fill="#5a2418"/>
<circle cx="157.8" cy="351.9" r="5.6" fill="#a87890"/>
<path d="M150.3,352.4 q2,-5.5 4.5,0 t4.5,0 t4.5,0" fill="none" stroke="#7020c8" stroke-width="2.2" stroke-linecap="round"/>
<circle cx="160.62" cy="363.28" r="1.7" fill="#5a2418"/>
<circle cx="163.70" cy="366.89" r="1.7" fill="#5a2418"/>
<circle cx="163.32" cy="371.62" r="1.7" fill="#5a2418"/>
<circle cx="159.71" cy="374.70" r="1.7" fill="#5a2418"/>
<circle cx="154.98" cy="374.32" r="1.7" fill="#5a2418"/>
<circle cx="151.90" cy="370.71" r="1.7" fill="#5a2418"/>
<circle cx="152.28" cy="365.98" r="1.7" fill="#5a2418"/>
<circle cx="155.89" cy="362.90" r="1.7" fill="#5a2418"/>
<circle cx="157.8" cy="368.8" r="6.8" fill="#5a2418"/>
<circle cx="157.8" cy="368.8" r="5.6" fill="#a87890"/>
<path d="M150.3,369.3 q2,-5.5 4.5,0 t4.5,0 t4.5,0" fill="none" stroke="#7020c8" stroke-width="2.2" stroke-linecap="round"/>
<path d="M177.54,352.09 L176.85,352.42 L176.00,352.42 L175.07,352.11 L174.19,351.58 L173.89,352.56 L173.42,353.41 L172.78,353.99 L172.05,354.20 L171.31,354.01 L170.65,353.46 L170.15,352.63 L169.81,351.65 L168.95,352.22 L168.04,352.56 L167.18,352.59 L166.49,352.28 L166.04,351.66 L165.89,350.82 L166.04,349.86 L166.41,348.89 L165.39,348.77 L164.47,348.45 L163.79,347.92 L163.46,347.24 L163.51,346.48 L163.95,345.74 L164.68,345.09 L165.58,344.60 L164.87,343.85 L164.38,343.01 L164.20,342.17 L164.38,341.43 L164.91,340.88 L165.72,340.59 L166.69,340.57 L167.70,340.77 L167.64,339.74 L167.80,338.78 L168.21,338.02 L168.82,337.57 L169.58,337.49 L170.38,337.79 L171.14,338.40 L171.79,339.20 L172.41,338.38 L173.15,337.74 L173.94,337.42 L174.70,337.47 L175.33,337.90 L175.76,338.64 L175.95,339.60 L175.93,340.63 L176.93,340.39 L177.91,340.38 L178.72,340.65 L179.27,341.17 L179.48,341.91 L179.33,342.75 L178.86,343.61 L178.18,344.38 L179.10,344.84 L179.85,345.46 L180.31,346.19 L180.39,346.95 L180.08,347.64 L179.42,348.19 L178.52,348.55 L177.50,348.70 L177.90,349.65 L178.08,350.61 L177.96,351.46 L177.54,352.09Z" fill="#3a3226" />
<circle cx="171.9" cy="345.6" r="7.20" fill="#3a3226"/>
<path d="M165.70,344.60 A6.20,6.20 0 0 1 170.90,339.40" fill="none" stroke="#2a4a2a" stroke-width="1.8"/>
<circle cx="171.9" cy="345.6" r="5.80" fill="url(#gPfoCell)"/>
<circle cx="171.9" cy="350.6" r="0.7" fill="#e0ecff" opacity="0.55"/>
<circle cx="172.9" cy="347.0" r="0.7" fill="#e0ecff" opacity="0.55"/>
<circle cx="170.4" cy="342.2" r="0.7" fill="#e0ecff" opacity="0.55"/>
<circle cx="171.0" cy="340.7" r="0.7" fill="#e0ecff" opacity="0.55"/>
<circle cx="172.3" cy="341.5" r="0.7" fill="#e0ecff" opacity="0.55"/>
<circle cx="168.6" cy="344.5" r="0.7" fill="#e0ecff" opacity="0.55"/>
<circle cx="172.1" cy="344.6" r="0.7" fill="#e0ecff" opacity="0.55"/>
<circle cx="174.1" cy="344.4" r="0.7" fill="#e0ecff" opacity="0.55"/>
<circle cx="170.5" cy="349.5" r="0.7" fill="#e0ecff" opacity="0.55"/>
<circle cx="171.9" cy="347.4" r="0.7" fill="#e0ecff" opacity="0.55"/>
<circle cx="170.6" cy="341.7" r="0.7" fill="#e0ecff" opacity="0.55"/>
<circle cx="173.4" cy="346.3" r="0.7" fill="#e0ecff" opacity="0.55"/>
<path d="M194.14,335.01 L193.60,335.54 L192.79,335.82 L191.82,335.83 L190.81,335.61 L190.85,336.64 L190.67,337.59 L190.26,338.35 L189.63,338.78 L188.88,338.85 L188.07,338.54 L187.33,337.91 L186.69,337.10 L186.06,337.91 L185.31,338.53 L184.51,338.84 L183.75,338.78 L183.13,338.34 L182.72,337.59 L182.54,336.63 L182.58,335.60 L181.57,335.82 L180.60,335.81 L179.79,335.53 L179.25,334.99 L179.05,334.26 L179.22,333.41 L179.70,332.57 L180.40,331.81 L179.49,331.33 L178.74,330.69 L178.30,329.96 L178.23,329.20 L178.56,328.51 L179.23,327.97 L180.14,327.63 L181.16,327.50 L180.77,326.54 L180.61,325.58 L180.74,324.73 L181.18,324.11 L181.87,323.79 L182.73,323.81 L183.64,324.13 L184.52,324.68 L184.83,323.70 L185.33,322.86 L185.97,322.30 L186.71,322.10 L187.44,322.30 L188.09,322.87 L188.58,323.71 L188.89,324.69 L189.77,324.14 L190.68,323.81 L191.54,323.80 L192.23,324.12 L192.67,324.74 L192.80,325.59 L192.64,326.55 L192.25,327.50 L193.27,327.64 L194.18,327.99 L194.85,328.52 L195.17,329.21 L195.10,329.97 L194.66,330.71 L193.91,331.34 L193.00,331.82 L193.69,332.58 L194.17,333.43 L194.34,334.27 L194.14,335.01Z" fill="#3a3226" />
<circle cx="186.7" cy="330.7" r="7.20" fill="#3a3226"/>
<path d="M180.50,329.70 A6.20,6.20 0 0 1 185.70,324.50" fill="none" stroke="#2a4a2a" stroke-width="1.8"/>
<circle cx="186.7" cy="330.7" r="5.80" fill="url(#gPfoCell)"/>
<circle cx="183.7" cy="333.2" r="0.7" fill="#e0ecff" opacity="0.55"/>
<circle cx="184.8" cy="329.3" r="0.7" fill="#e0ecff" opacity="0.55"/>
<circle cx="186.5" cy="331.2" r="0.7" fill="#e0ecff" opacity="0.55"/>
<circle cx="190.0" cy="329.8" r="0.7" fill="#e0ecff" opacity="0.55"/>
<circle cx="189.8" cy="328.0" r="0.7" fill="#e0ecff" opacity="0.55"/>
<circle cx="187.0" cy="334.2" r="0.7" fill="#e0ecff" opacity="0.55"/>
<circle cx="189.2" cy="330.1" r="0.7" fill="#e0ecff" opacity="0.55"/>
<circle cx="185.2" cy="334.7" r="0.7" fill="#e0ecff" opacity="0.55"/>
<circle cx="185.9" cy="330.7" r="0.7" fill="#e0ecff" opacity="0.55"/>
<circle cx="183.0" cy="332.7" r="0.7" fill="#e0ecff" opacity="0.55"/>
<circle cx="185.4" cy="328.5" r="0.7" fill="#e0ecff" opacity="0.55"/>
<circle cx="187.4" cy="335.6" r="0.7" fill="#e0ecff" opacity="0.55"/>
<path d="M213.80,329.79 L213.57,330.52 L212.98,331.15 L212.13,331.61 L211.14,331.89 L211.66,332.78 L211.95,333.71 L211.94,334.57 L211.60,335.25 L210.96,335.66 L210.10,335.77 L209.15,335.57 L208.21,335.15 L208.04,336.16 L207.66,337.06 L207.10,337.71 L206.40,338.02 L205.65,337.92 L204.93,337.45 L204.32,336.69 L203.87,335.76 L203.09,336.43 L202.23,336.88 L201.38,337.02 L200.65,336.80 L200.13,336.24 L199.88,335.42 L199.91,334.44 L200.16,333.44 L199.13,333.45 L198.18,333.24 L197.44,332.80 L197.02,332.16 L196.99,331.40 L197.32,330.61 L197.97,329.88 L198.80,329.28 L198.01,328.62 L197.42,327.85 L197.13,327.04 L197.22,326.28 L197.68,325.68 L198.45,325.29 L199.41,325.15 L200.44,325.22 L200.26,324.21 L200.30,323.23 L200.60,322.43 L201.16,321.91 L201.90,321.74 L202.74,321.94 L203.57,322.45 L204.30,323.16 L204.82,322.27 L205.47,321.55 L206.22,321.13 L206.98,321.09 L207.66,321.43 L208.17,322.12 L208.48,323.04 L208.59,324.07 L209.55,323.71 L210.52,323.58 L211.36,323.74 L211.97,324.20 L212.27,324.90 L212.22,325.76 L211.86,326.66 L211.29,327.52 L212.25,327.87 L213.08,328.39 L213.62,329.05 L213.80,329.79Z" fill="#3a3226" />
<circle cx="205.2" cy="329.5" r="7.20" fill="#3a3226"/>
<path d="M199.00,328.50 A6.20,6.20 0 0 1 204.20,323.30" fill="none" stroke="#2a4a2a" stroke-width="1.8"/>
<circle cx="205.2" cy="329.5" r="5.80" fill="url(#gPfoCell)"/>
<circle cx="202.6" cy="330.9" r="0.7" fill="#e0ecff" opacity="0.55"/>
<circle cx="206.6" cy="333.5" r="0.7" fill="#e0ecff" opacity="0.55"/>
<circle cx="204.9" cy="325.0" r="0.7" fill="#e0ecff" opacity="0.55"/>
<circle cx="206.2" cy="333.0" r="0.7" fill="#e0ecff" opacity="0.55"/>
<circle cx="203.3" cy="334.1" r="0.7" fill="#e0ecff" opacity="0.55"/>
<circle cx="205.8" cy="334.1" r="0.7" fill="#e0ecff" opacity="0.55"/>
<circle cx="205.4" cy="327.1" r="0.7" fill="#e0ecff" opacity="0.55"/>
<circle cx="207.8" cy="328.7" r="0.7" fill="#e0ecff" opacity="0.55"/>
<circle cx="206.6" cy="332.8" r="0.7" fill="#e0ecff" opacity="0.55"/>
<circle cx="203.1" cy="330.7" r="0.7" fill="#e0ecff" opacity="0.55"/>
<circle cx="209.1" cy="328.2" r="0.7" fill="#e0ecff" opacity="0.55"/>
<circle cx="203.7" cy="330.7" r="0.7" fill="#e0ecff" opacity="0.55"/>
<path d="M202.41,347.42 L202.06,348.09 L201.37,348.61 L200.44,348.91 L199.42,349.01 L199.77,349.98 L199.89,350.94 L199.73,351.79 L199.27,352.40 L198.57,352.69 L197.71,352.64 L196.81,352.28 L195.96,351.69 L195.60,352.66 L195.08,353.48 L194.41,354.02 L193.67,354.19 L192.94,353.97 L192.32,353.38 L191.86,352.52 L191.58,351.53 L190.69,352.04 L189.76,352.33 L188.90,352.32 L188.22,351.97 L187.81,351.33 L187.71,350.48 L187.91,349.52 L188.34,348.58 L187.32,348.41 L186.43,348.03 L185.78,347.47 L185.48,346.77 L185.58,346.01 L186.05,345.29 L186.82,344.69 L187.74,344.25 L187.08,343.46 L186.63,342.59 L186.50,341.75 L186.72,341.02 L187.28,340.50 L188.11,340.26 L189.08,340.29 L190.08,340.54 L190.08,339.51 L190.29,338.56 L190.73,337.83 L191.37,337.41 L192.13,337.38 L192.92,337.72 L193.65,338.37 L194.25,339.20 L194.91,338.42 L195.68,337.82 L196.49,337.54 L197.25,337.64 L197.85,338.10 L198.24,338.87 L198.38,339.83 L198.30,340.86 L199.31,340.68 L200.29,340.72 L201.09,341.03 L201.61,341.59 L201.77,342.33 L201.57,343.17 L201.06,344.00 L200.34,344.73 L201.23,345.25 L201.95,345.91 L202.37,346.66 L202.41,347.42Z" fill="#3a3226" />
<circle cx="194" cy="345.6" r="7.20" fill="#3a3226"/>
<path d="M187.80,344.60 A6.20,6.20 0 0 1 193.00,339.40" fill="none" stroke="#2a4a2a" stroke-width="1.8"/>
<circle cx="194" cy="345.6" r="5.80" fill="url(#gPfoCell)"/>
<circle cx="197.2" cy="349.5" r="0.7" fill="#e0ecff" opacity="0.55"/>
<circle cx="195.1" cy="346.0" r="0.7" fill="#e0ecff" opacity="0.55"/>
<circle cx="196.6" cy="343.7" r="0.7" fill="#e0ecff" opacity="0.55"/>
<circle cx="193.5" cy="340.8" r="0.7" fill="#e0ecff" opacity="0.55"/>
<circle cx="198.6" cy="343.5" r="0.7" fill="#e0ecff" opacity="0.55"/>
<circle cx="195.2" cy="348.3" r="0.7" fill="#e0ecff" opacity="0.55"/>
<circle cx="193.9" cy="340.7" r="0.7" fill="#e0ecff" opacity="0.55"/>
<circle cx="193.5" cy="344.8" r="0.7" fill="#e0ecff" opacity="0.55"/>
<circle cx="191.8" cy="347.8" r="0.7" fill="#e0ecff" opacity="0.55"/>
<circle cx="195.4" cy="348.2" r="0.7" fill="#e0ecff" opacity="0.55"/>
<circle cx="193.9" cy="345.9" r="0.7" fill="#e0ecff" opacity="0.55"/>
<circle cx="196.9" cy="344.8" r="0.7" fill="#e0ecff" opacity="0.55"/>
<path d="M221.13,349.06 L220.85,349.77 L220.20,350.34 L219.31,350.72 L218.30,350.91 L218.74,351.85 L218.95,352.80 L218.86,353.65 L218.46,354.30 L217.78,354.65 L216.92,354.68 L215.99,354.40 L215.09,353.90 L214.83,354.89 L214.38,355.75 L213.76,356.35 L213.04,356.59 L212.29,356.43 L211.62,355.89 L211.08,355.08 L210.72,354.12 L209.88,354.71 L208.98,355.08 L208.12,355.14 L207.41,354.86 L206.95,354.26 L206.77,353.42 L206.89,352.45 L207.23,351.48 L206.20,351.39 L205.27,351.10 L204.58,350.59 L204.22,349.92 L204.25,349.16 L204.65,348.40 L205.36,347.74 L206.25,347.21 L205.52,346.48 L205.00,345.66 L204.79,344.83 L204.94,344.08 L205.46,343.52 L206.25,343.20 L207.23,343.15 L208.24,343.31 L208.15,342.29 L208.28,341.32 L208.65,340.55 L209.25,340.08 L210.01,339.98 L210.82,340.25 L211.60,340.83 L212.27,341.61 L212.86,340.76 L213.58,340.11 L214.37,339.75 L215.13,339.78 L215.77,340.19 L216.22,340.92 L216.45,341.86 L216.46,342.89 L217.45,342.63 L218.43,342.58 L219.25,342.82 L219.82,343.33 L220.05,344.05 L219.93,344.90 L219.49,345.77 L218.84,346.57 L219.77,347.00 L220.55,347.60 L221.03,348.31 L221.13,349.06Z" fill="#3a3226" />
<circle cx="212.6" cy="348" r="7.20" fill="#3a3226"/>
<path d="M206.40,347.00 A6.20,6.20 0 0 1 211.60,341.80" fill="none" stroke="#2a4a2a" stroke-width="1.8"/>
<circle cx="212.6" cy="348" r="5.80" fill="url(#gPfoCell)"/>
<circle cx="213.9" cy="352.8" r="0.7" fill="#e0ecff" opacity="0.55"/>
<circle cx="213.9" cy="345.3" r="0.7" fill="#e0ecff" opacity="0.55"/>
<circle cx="208.4" cy="349.9" r="0.7" fill="#e0ecff" opacity="0.55"/>
<circle cx="211.5" cy="348.2" r="0.7" fill="#e0ecff" opacity="0.55"/>
<circle cx="215.3" cy="346.5" r="0.7" fill="#e0ecff" opacity="0.55"/>
<circle cx="211.1" cy="349.7" r="0.7" fill="#e0ecff" opacity="0.55"/>
<circle cx="217.3" cy="348.9" r="0.7" fill="#e0ecff" opacity="0.55"/>
<circle cx="213.8" cy="345.0" r="0.7" fill="#e0ecff" opacity="0.55"/>
<circle cx="216.9" cy="349.1" r="0.7" fill="#e0ecff" opacity="0.55"/>
<circle cx="213.5" cy="348.4" r="0.7" fill="#e0ecff" opacity="0.55"/>
<circle cx="212.4" cy="352.9" r="0.7" fill="#e0ecff" opacity="0.55"/>
<circle cx="216.1" cy="345.4" r="0.7" fill="#e0ecff" opacity="0.55"/>
<path d="M181.21,363.26 L180.78,363.89 L180.03,364.31 L179.07,364.49 L178.04,364.46 L178.27,365.47 L178.27,366.44 L178.01,367.26 L177.47,367.80 L176.74,368.01 L175.90,367.85 L175.04,367.38 L174.27,366.69 L173.80,367.61 L173.18,368.36 L172.45,368.81 L171.69,368.88 L171.00,368.57 L170.45,367.90 L170.11,366.99 L169.96,365.97 L169.01,366.37 L168.05,366.55 L167.20,366.42 L166.57,365.99 L166.24,365.31 L166.25,364.45 L166.57,363.53 L167.11,362.65 L166.12,362.34 L165.28,361.86 L164.71,361.22 L164.50,360.49 L164.69,359.75 L165.25,359.10 L166.09,358.60 L167.06,358.27 L166.51,357.41 L166.17,356.49 L166.14,355.63 L166.46,354.94 L167.08,354.50 L167.93,354.36 L168.89,354.51 L169.84,354.89 L169.97,353.87 L170.30,352.95 L170.84,352.28 L171.52,351.95 L172.28,352.01 L173.02,352.44 L173.66,353.18 L174.15,354.09 L174.90,353.39 L175.75,352.90 L176.59,352.72 L177.33,352.91 L177.87,353.44 L178.15,354.25 L178.17,355.23 L177.96,356.24 L178.99,356.19 L179.95,356.35 L180.71,356.76 L181.15,357.38 L181.22,358.14 L180.92,358.94 L180.31,359.70 L179.50,360.34 L180.32,360.96 L180.95,361.70 L181.27,362.50 L181.21,363.26Z" fill="#3a3226" />
<circle cx="173.1" cy="360.4" r="7.20" fill="#3a3226"/>
<path d="M166.90,359.40 A6.20,6.20 0 0 1 172.10,354.20" fill="none" stroke="#2a4a2a" stroke-width="1.8"/>
<circle cx="173.1" cy="360.4" r="5.80" fill="url(#gPfoCell)"/>
<circle cx="175.7" cy="359.7" r="0.7" fill="#e0ecff" opacity="0.55"/>
<circle cx="172.8" cy="364.4" r="0.7" fill="#e0ecff" opacity="0.55"/>
<circle cx="171.3" cy="364.3" r="0.7" fill="#e0ecff" opacity="0.55"/>
<circle cx="175.8" cy="360.5" r="0.7" fill="#e0ecff" opacity="0.55"/>
<circle cx="176.9" cy="358.2" r="0.7" fill="#e0ecff" opacity="0.55"/>
<circle cx="176.9" cy="359.0" r="0.7" fill="#e0ecff" opacity="0.55"/>
<circle cx="173.2" cy="361.2" r="0.7" fill="#e0ecff" opacity="0.55"/>
<circle cx="176.5" cy="359.5" r="0.7" fill="#e0ecff" opacity="0.55"/>
<circle cx="169.3" cy="363.7" r="0.7" fill="#e0ecff" opacity="0.55"/>
<circle cx="170.8" cy="361.5" r="0.7" fill="#e0ecff" opacity="0.55"/>
<circle cx="176.3" cy="358.8" r="0.7" fill="#e0ecff" opacity="0.55"/>
<circle cx="173.8" cy="358.3" r="0.7" fill="#e0ecff" opacity="0.55"/>
<path d="M200.36,364.89 L199.72,365.30 L198.86,365.40 L197.91,365.19 L196.97,364.77 L196.79,365.78 L196.42,366.68 L195.85,367.33 L195.15,367.62 L194.40,367.52 L193.68,367.05 L193.08,366.28 L192.64,365.35 L191.84,366.01 L190.98,366.46 L190.13,366.59 L189.40,366.37 L188.89,365.81 L188.64,364.98 L188.68,364.01 L188.94,363.01 L187.91,363.01 L186.96,362.80 L186.22,362.35 L185.81,361.71 L185.77,360.95 L186.12,360.16 L186.77,359.44 L187.61,358.84 L186.82,358.18 L186.23,357.40 L185.95,356.59 L186.04,355.83 L186.51,355.23 L187.28,354.85 L188.24,354.71 L189.27,354.79 L189.09,353.78 L189.14,352.80 L189.45,352.00 L190.00,351.48 L190.75,351.32 L191.58,351.52 L192.41,352.03 L193.14,352.76 L193.66,351.87 L194.32,351.15 L195.07,350.74 L195.83,350.70 L196.51,351.05 L197.02,351.74 L197.32,352.67 L197.42,353.69 L198.39,353.34 L199.36,353.22 L200.20,353.38 L200.81,353.84 L201.10,354.55 L201.04,355.40 L200.68,356.31 L200.10,357.16 L201.07,357.51 L201.88,358.04 L202.42,358.70 L202.59,359.45 L202.36,360.17 L201.77,360.80 L200.91,361.26 L199.92,361.53 L200.43,362.42 L200.72,363.35 L200.71,364.21 L200.36,364.89Z" fill="#3a3226" />
<circle cx="194" cy="359.1" r="7.20" fill="#3a3226"/>
<path d="M187.80,358.10 A6.20,6.20 0 0 1 193.00,352.90" fill="none" stroke="#2a4a2a" stroke-width="1.8"/>
<circle cx="194" cy="359.1" r="5.80" fill="url(#gPfoCell)"/>
<circle cx="194.7" cy="354.5" r="0.7" fill="#e0ecff" opacity="0.55"/>
<circle cx="192.1" cy="362.6" r="0.7" fill="#e0ecff" opacity="0.55"/>
<circle cx="192.1" cy="361.3" r="0.7" fill="#e0ecff" opacity="0.55"/>
<circle cx="198.0" cy="361.2" r="0.7" fill="#e0ecff" opacity="0.55"/>
<circle cx="194.0" cy="356.8" r="0.7" fill="#e0ecff" opacity="0.55"/>
<circle cx="196.3" cy="360.1" r="0.7" fill="#e0ecff" opacity="0.55"/>
<circle cx="193.1" cy="358.8" r="0.7" fill="#e0ecff" opacity="0.55"/>
<circle cx="196.9" cy="358.7" r="0.7" fill="#e0ecff" opacity="0.55"/>
<circle cx="198.8" cy="358.7" r="0.7" fill="#e0ecff" opacity="0.55"/>
<circle cx="196.3" cy="360.4" r="0.7" fill="#e0ecff" opacity="0.55"/>
<circle cx="192.4" cy="359.1" r="0.7" fill="#e0ecff" opacity="0.55"/>
<circle cx="189.9" cy="360.5" r="0.7" fill="#e0ecff" opacity="0.55"/>
<path d="M219.77,364.80 L219.40,365.46 L218.70,365.96 L217.77,366.25 L216.74,366.32 L217.07,367.30 L217.18,368.27 L217.00,369.11 L216.53,369.71 L215.82,369.98 L214.96,369.91 L214.06,369.53 L213.23,368.93 L212.85,369.89 L212.31,370.70 L211.63,371.23 L210.89,371.38 L210.17,371.14 L209.55,370.54 L209.11,369.67 L208.86,368.67 L207.95,369.17 L207.02,369.44 L206.16,369.41 L205.49,369.05 L205.09,368.40 L205.01,367.54 L205.23,366.59 L205.68,365.66 L204.67,365.46 L203.78,365.07 L203.14,364.49 L202.86,363.79 L202.97,363.03 L203.46,362.33 L204.24,361.74 L205.17,361.31 L204.53,360.51 L204.10,359.64 L203.98,358.79 L204.22,358.06 L204.79,357.56 L205.62,357.33 L206.59,357.38 L207.59,357.66 L207.61,356.63 L207.84,355.69 L208.30,354.96 L208.95,354.56 L209.71,354.54 L210.49,354.90 L211.20,355.56 L211.78,356.41 L212.46,355.64 L213.25,355.06 L214.06,354.80 L214.82,354.91 L215.41,355.38 L215.78,356.16 L215.90,357.13 L215.80,358.15 L216.82,357.99 L217.79,358.06 L218.58,358.38 L219.09,358.95 L219.24,359.70 L219.02,360.53 L218.49,361.35 L217.76,362.07 L218.64,362.60 L219.34,363.27 L219.74,364.03 L219.77,364.80Z" fill="#3a3226" />
<circle cx="211.4" cy="362.8" r="7.20" fill="#3a3226"/>
<path d="M205.20,361.80 A6.20,6.20 0 0 1 210.40,356.60" fill="none" stroke="#2a4a2a" stroke-width="1.8"/>
<circle cx="211.4" cy="362.8" r="5.80" fill="url(#gPfoCell)"/>
<circle cx="209.0" cy="360.5" r="0.7" fill="#e0ecff" opacity="0.55"/>
<circle cx="211.3" cy="358.6" r="0.7" fill="#e0ecff" opacity="0.55"/>
<circle cx="209.0" cy="358.8" r="0.7" fill="#e0ecff" opacity="0.55"/>
<circle cx="212.4" cy="361.3" r="0.7" fill="#e0ecff" opacity="0.55"/>
<circle cx="208.9" cy="361.7" r="0.7" fill="#e0ecff" opacity="0.55"/>
<circle cx="211.2" cy="359.7" r="0.7" fill="#e0ecff" opacity="0.55"/>
<circle cx="211.4" cy="365.1" r="0.7" fill="#e0ecff" opacity="0.55"/>
<circle cx="212.8" cy="364.9" r="0.7" fill="#e0ecff" opacity="0.55"/>
<circle cx="207.2" cy="360.5" r="0.7" fill="#e0ecff" opacity="0.55"/>
<circle cx="209.1" cy="364.6" r="0.7" fill="#e0ecff" opacity="0.55"/>
<circle cx="206.3" cy="362.6" r="0.7" fill="#e0ecff" opacity="0.55"/>
<circle cx="212.3" cy="360.5" r="0.7" fill="#e0ecff" opacity="0.55"/>
<path d="M178.73,380.43 L178.12,380.89 L177.28,381.06 L176.32,380.94 L175.35,380.59 L175.25,381.62 L174.95,382.55 L174.45,383.24 L173.77,383.59 L173.01,383.56 L172.26,383.15 L171.59,382.44 L171.07,381.55 L170.34,382.27 L169.52,382.79 L168.68,382.99 L167.94,382.83 L167.38,382.32 L167.06,381.52 L167.01,380.55 L167.19,379.53 L166.16,379.62 L165.20,379.48 L164.42,379.10 L163.96,378.50 L163.86,377.75 L164.13,376.93 L164.72,376.15 L165.51,375.49 L164.66,374.89 L164.01,374.17 L163.67,373.38 L163.70,372.62 L164.11,371.98 L164.84,371.53 L165.79,371.32 L166.82,371.31 L166.55,370.31 L166.52,369.34 L166.76,368.52 L167.27,367.95 L168.00,367.72 L168.85,367.85 L169.71,368.30 L170.51,368.95 L170.95,368.02 L171.54,367.25 L172.26,366.78 L173.01,366.67 L173.72,366.97 L174.28,367.61 L174.66,368.51 L174.85,369.52 L175.78,369.09 L176.74,368.88 L177.59,368.98 L178.23,369.38 L178.58,370.06 L178.60,370.92 L178.32,371.85 L177.81,372.74 L178.80,373.01 L179.67,373.47 L180.26,374.09 L180.49,374.81 L180.32,375.56 L179.79,376.23 L178.97,376.76 L178.01,377.12 L178.59,377.96 L178.96,378.87 L179.02,379.72 L178.73,380.43Z" fill="#3a3226" />
<circle cx="171.9" cy="375.2" r="7.20" fill="#3a3226"/>
<path d="M165.70,374.20 A6.20,6.20 0 0 1 170.90,369.00" fill="none" stroke="#2a4a2a" stroke-width="1.8"/>
<circle cx="171.9" cy="375.2" r="5.80" fill="url(#gPfoCell)"/>
<circle cx="176.0" cy="378.2" r="0.7" fill="#e0ecff" opacity="0.55"/>
<circle cx="173.4" cy="372.0" r="0.7" fill="#e0ecff" opacity="0.55"/>
<circle cx="175.9" cy="372.8" r="0.7" fill="#e0ecff" opacity="0.55"/>
<circle cx="171.6" cy="376.2" r="0.7" fill="#e0ecff" opacity="0.55"/>
<circle cx="172.6" cy="376.8" r="0.7" fill="#e0ecff" opacity="0.55"/>
<circle cx="167.5" cy="372.7" r="0.7" fill="#e0ecff" opacity="0.55"/>
<circle cx="168.5" cy="378.7" r="0.7" fill="#e0ecff" opacity="0.55"/>
<circle cx="167.4" cy="376.7" r="0.7" fill="#e0ecff" opacity="0.55"/>
<circle cx="172.4" cy="372.6" r="0.7" fill="#e0ecff" opacity="0.55"/>
<circle cx="175.8" cy="378.3" r="0.7" fill="#e0ecff" opacity="0.55"/>
<circle cx="169.0" cy="372.5" r="0.7" fill="#e0ecff" opacity="0.55"/>
<circle cx="170.3" cy="376.9" r="0.7" fill="#e0ecff" opacity="0.55"/>
<path d="M201.31,375.21 L201.01,375.91 L200.36,376.47 L199.46,376.84 L198.45,377.01 L198.87,377.95 L199.06,378.91 L198.96,379.76 L198.54,380.40 L197.86,380.74 L197.00,380.75 L196.08,380.46 L195.19,379.94 L194.91,380.93 L194.44,381.78 L193.81,382.37 L193.09,382.60 L192.34,382.42 L191.68,381.88 L191.16,381.05 L190.81,380.08 L189.96,380.66 L189.05,381.02 L188.19,381.06 L187.49,380.77 L187.04,380.16 L186.88,379.31 L187.01,378.35 L187.37,377.38 L186.34,377.28 L185.42,376.97 L184.73,376.45 L184.38,375.77 L184.43,375.01 L184.85,374.26 L185.57,373.61 L186.46,373.10 L185.75,372.36 L185.24,371.53 L185.04,370.69 L185.21,369.95 L185.74,369.39 L186.54,369.09 L187.51,369.05 L188.53,369.24 L188.45,368.21 L188.60,367.25 L188.98,366.48 L189.59,366.02 L190.35,365.93 L191.16,366.22 L191.93,366.81 L192.59,367.60 L193.19,366.77 L193.92,366.12 L194.71,365.79 L195.47,365.83 L196.11,366.24 L196.55,366.98 L196.75,367.93 L196.75,368.96 L197.75,368.71 L198.72,368.69 L199.54,368.94 L200.10,369.46 L200.32,370.18 L200.18,371.03 L199.73,371.89 L199.06,372.68 L199.99,373.13 L200.75,373.74 L201.22,374.46 L201.31,375.21Z" fill="#3a3226" />
<circle cx="192.8" cy="374" r="7.20" fill="#3a3226"/>
<path d="M186.60,373.00 A6.20,6.20 0 0 1 191.80,367.80" fill="none" stroke="#2a4a2a" stroke-width="1.8"/>
<circle cx="192.8" cy="374" r="5.80" fill="url(#gPfoCell)"/>
<circle cx="192.7" cy="376.3" r="0.7" fill="#e0ecff" opacity="0.55"/>
<circle cx="190.5" cy="370.8" r="0.7" fill="#e0ecff" opacity="0.55"/>
<circle cx="195.1" cy="374.2" r="0.7" fill="#e0ecff" opacity="0.55"/>
<circle cx="191.5" cy="371.4" r="0.7" fill="#e0ecff" opacity="0.55"/>
<circle cx="192.0" cy="376.0" r="0.7" fill="#e0ecff" opacity="0.55"/>
<circle cx="193.4" cy="371.8" r="0.7" fill="#e0ecff" opacity="0.55"/>
<circle cx="196.3" cy="375.5" r="0.7" fill="#e0ecff" opacity="0.55"/>
<circle cx="191.5" cy="375.0" r="0.7" fill="#e0ecff" opacity="0.55"/>
<circle cx="190.4" cy="371.1" r="0.7" fill="#e0ecff" opacity="0.55"/>
<circle cx="193.6" cy="375.3" r="0.7" fill="#e0ecff" opacity="0.55"/>
<circle cx="189.2" cy="376.3" r="0.7" fill="#e0ecff" opacity="0.55"/>
<circle cx="191.8" cy="376.5" r="0.7" fill="#e0ecff" opacity="0.55"/>
<linearGradient id="ba229352" gradientUnits="userSpaceOnUse" x1="229.1" y1="0" x2="246.1" y2="0"><stop offset="0" stop-color="#ffffff"/><stop offset="0.18" stop-color="#ffffff"/><stop offset="0.32" stop-color="#f4aab4"/><stop offset="0.6" stop-color="#e898a0"/><stop offset="1" stop-color="#a04a50"/></linearGradient>
<path d="M229.1,348.29999999999995 L237.7,348.29999999999995 L246.1,352.9 L237.7,357.5 L229.1,357.5 Z" fill="url(#ba229352)"/>
<path d="M237.7,348.29999999999995 L229.1,348.29999999999995 L229.1,357.5 L237.7,357.5" fill="none" stroke="#3a3434" stroke-width="1.1"/>
<path d="M237.1,343.5 L246.1,352.9 L237.1,362.29999999999995" fill="none" stroke="#4a3a3a" stroke-width="1.5"/>
<rect x="250" y="317" width="85" height="70" fill="#fbd4dc" opacity="0.6" filter="url(#blur2)"/>
<rect x="244" y="317" width="12" height="70" fill="#f7a0a8" filter="url(#blur2)"/>
<rect x="254" y="320.3" width="77.6" height="62.7" fill="#8a201c"/>
<ellipse cx="327.4" cy="340.1" rx="1.2" ry="0.6" fill="#e07870" opacity="0.85"/>
<ellipse cx="313.1" cy="370.3" rx="1.2" ry="1.0" fill="#f8d0c8" opacity="0.85"/>
<ellipse cx="326.6" cy="347.6" rx="1.2" ry="1.3" fill="#a82a24" opacity="0.85"/>
<ellipse cx="285.6" cy="375.3" rx="1.6" ry="0.7" fill="#fce0dc" opacity="0.85"/>
<ellipse cx="258.5" cy="329.6" rx="0.8" ry="1.2" fill="#f4b8b0" opacity="0.85"/>
<ellipse cx="282.9" cy="351.9" rx="1.1" ry="0.7" fill="#a82a24" opacity="0.85"/>
<ellipse cx="267.6" cy="324.9" rx="1.3" ry="1.3" fill="#f4b8b0" opacity="0.85"/>
<ellipse cx="328.5" cy="333.0" rx="1.7" ry="0.6" fill="#a82a24" opacity="0.85"/>
<ellipse cx="324.3" cy="340.2" rx="0.8" ry="1.2" fill="#f4b8b0" opacity="0.85"/>
<ellipse cx="307.1" cy="375.8" rx="1.4" ry="1.2" fill="#f8d0c8" opacity="0.85"/>
<ellipse cx="269.5" cy="350.0" rx="0.8" ry="1.4" fill="#f8d0c8" opacity="0.85"/>
<ellipse cx="266.5" cy="343.0" rx="1.0" ry="1.3" fill="#a82a24" opacity="0.85"/>
<ellipse cx="323.1" cy="323.3" rx="1.5" ry="0.9" fill="#c84a3a" opacity="0.85"/>
<ellipse cx="284.3" cy="348.9" rx="1.5" ry="0.9" fill="#5a0c0c" opacity="0.85"/>
<ellipse cx="273.6" cy="344.8" rx="1.2" ry="1.0" fill="#e07870" opacity="0.85"/>
<ellipse cx="256.3" cy="359.0" rx="1.3" ry="1.0" fill="#fce0dc" opacity="0.85"/>
<ellipse cx="301.8" cy="371.3" rx="1.7" ry="1.0" fill="#a82a24" opacity="0.85"/>
<ellipse cx="259.6" cy="342.9" rx="0.8" ry="1.0" fill="#e07870" opacity="0.85"/>
<ellipse cx="293.5" cy="323.3" rx="0.8" ry="1.3" fill="#a82a24" opacity="0.85"/>
<ellipse cx="314.0" cy="352.4" rx="1.6" ry="1.4" fill="#c84a3a" opacity="0.85"/>
<ellipse cx="304.4" cy="369.2" rx="1.7" ry="1.5" fill="#c84a3a" opacity="0.85"/>
<ellipse cx="310.5" cy="371.1" rx="0.9" ry="1.4" fill="#f8d0c8" opacity="0.85"/>
<ellipse cx="276.5" cy="370.8" rx="1.5" ry="1.2" fill="#a82a24" opacity="0.85"/>
<ellipse cx="271.4" cy="372.2" rx="0.9" ry="1.4" fill="#5a0c0c" opacity="0.85"/>
<ellipse cx="275.5" cy="371.1" rx="1.0" ry="1.5" fill="#a82a24" opacity="0.85"/>
<ellipse cx="291.2" cy="357.3" rx="1.1" ry="0.6" fill="#f8d0c8" opacity="0.85"/>
<ellipse cx="268.4" cy="330.7" rx="1.5" ry="1.4" fill="#5a0c0c" opacity="0.85"/>
<ellipse cx="267.4" cy="369.2" rx="1.6" ry="0.6" fill="#f0a0a0" opacity="0.85"/>
<ellipse cx="320.2" cy="380.4" rx="1.4" ry="1.1" fill="#fce0dc" opacity="0.85"/>
<ellipse cx="322.0" cy="327.3" rx="1.6" ry="0.9" fill="#f4b8b0" opacity="0.85"/>
<ellipse cx="283.2" cy="343.6" rx="1.1" ry="1.3" fill="#a82a24" opacity="0.85"/>
<ellipse cx="288.3" cy="331.7" rx="1.1" ry="1.1" fill="#c84a3a" opacity="0.85"/>
<ellipse cx="278.2" cy="380.4" rx="1.6" ry="1.3" fill="#e07870" opacity="0.85"/>
<ellipse cx="271.5" cy="338.8" rx="1.2" ry="0.9" fill="#f4b8b0" opacity="0.85"/>
<ellipse cx="258.2" cy="350.9" rx="0.7" ry="0.6" fill="#c84a3a" opacity="0.85"/>
<ellipse cx="281.7" cy="327.4" rx="1.3" ry="1.0" fill="#e07870" opacity="0.85"/>
<ellipse cx="277.5" cy="329.1" rx="1.4" ry="1.0" fill="#e07870" opacity="0.85"/>
<ellipse cx="264.8" cy="378.6" rx="1.5" ry="1.0" fill="#f8d0c8" opacity="0.85"/>
<ellipse cx="259.4" cy="329.7" rx="1.2" ry="0.8" fill="#5a0c0c" opacity="0.85"/>
<ellipse cx="255.4" cy="360.6" rx="1.4" ry="1.1" fill="#e07870" opacity="0.85"/>
<ellipse cx="300.5" cy="352.7" rx="1.0" ry="1.4" fill="#fce0dc" opacity="0.85"/>
<ellipse cx="257.9" cy="353.6" rx="0.9" ry="0.7" fill="#f4b8b0" opacity="0.85"/>
<ellipse cx="324.2" cy="327.3" rx="0.9" ry="0.8" fill="#f8d0c8" opacity="0.85"/>
<ellipse cx="301.0" cy="352.1" rx="1.7" ry="0.8" fill="#f4b8b0" opacity="0.85"/>
<ellipse cx="278.2" cy="339.3" rx="1.9" ry="1.3" fill="#c84a3a" opacity="0.85"/>
<ellipse cx="291.1" cy="354.0" rx="1.7" ry="1.3" fill="#f4b8b0" opacity="0.85"/>
<ellipse cx="290.1" cy="366.6" rx="0.9" ry="1.5" fill="#fce0dc" opacity="0.85"/>
<ellipse cx="274.5" cy="360.5" rx="1.1" ry="1.3" fill="#f0a0a0" opacity="0.85"/>
<ellipse cx="307.7" cy="373.0" rx="1.0" ry="1.1" fill="#c84a3a" opacity="0.85"/>
<ellipse cx="287.9" cy="369.4" rx="1.1" ry="1.4" fill="#5a0c0c" opacity="0.85"/>
<ellipse cx="322.9" cy="326.1" rx="0.9" ry="1.4" fill="#c84a3a" opacity="0.85"/>
<ellipse cx="318.9" cy="333.3" rx="1.6" ry="0.9" fill="#a82a24" opacity="0.85"/>
<ellipse cx="321.8" cy="341.1" rx="1.2" ry="1.4" fill="#f8d0c8" opacity="0.85"/>
<ellipse cx="325.0" cy="381.4" rx="1.3" ry="1.1" fill="#fce0dc" opacity="0.85"/>
<ellipse cx="255.0" cy="322.4" rx="1.4" ry="0.9" fill="#f8d0c8" opacity="0.85"/>
<ellipse cx="270.7" cy="359.2" rx="1.4" ry="0.8" fill="#f0a0a0" opacity="0.85"/>
<ellipse cx="257.0" cy="327.7" rx="1.1" ry="0.7" fill="#a82a24" opacity="0.85"/>
<ellipse cx="256.7" cy="323.4" rx="1.5" ry="1.3" fill="#c84a3a" opacity="0.85"/>
<ellipse cx="259.5" cy="357.2" rx="0.9" ry="1.5" fill="#e07870" opacity="0.85"/>
<ellipse cx="295.3" cy="361.8" rx="0.8" ry="0.8" fill="#f4b8b0" opacity="0.85"/>
<ellipse cx="263.1" cy="322.9" rx="1.7" ry="1.2" fill="#f0a0a0" opacity="0.85"/>
<ellipse cx="276.5" cy="327.0" rx="1.7" ry="1.2" fill="#f0a0a0" opacity="0.85"/>
<ellipse cx="277.0" cy="341.6" rx="0.7" ry="0.8" fill="#5a0c0c" opacity="0.85"/>
<ellipse cx="276.1" cy="365.0" rx="1.8" ry="1.3" fill="#e07870" opacity="0.85"/>
<ellipse cx="300.6" cy="350.2" rx="1.4" ry="0.6" fill="#5a0c0c" opacity="0.85"/>
<ellipse cx="286.1" cy="347.7" rx="1.1" ry="1.2" fill="#f0a0a0" opacity="0.85"/>
<ellipse cx="295.6" cy="334.2" rx="1.4" ry="0.9" fill="#f0a0a0" opacity="0.85"/>
<ellipse cx="287.9" cy="353.1" rx="1.6" ry="1.5" fill="#5a0c0c" opacity="0.85"/>
<ellipse cx="254.8" cy="351.1" rx="1.5" ry="1.3" fill="#fce0dc" opacity="0.85"/>
<ellipse cx="328.5" cy="357.4" rx="1.4" ry="0.7" fill="#5a0c0c" opacity="0.85"/>
<ellipse cx="316.9" cy="378.7" rx="1.3" ry="0.7" fill="#f8d0c8" opacity="0.85"/>
<ellipse cx="303.2" cy="325.8" rx="1.5" ry="0.9" fill="#f0a0a0" opacity="0.85"/>
<ellipse cx="285.2" cy="345.1" rx="1.2" ry="1.2" fill="#f0a0a0" opacity="0.85"/>
<ellipse cx="283.0" cy="339.5" rx="1.8" ry="1.1" fill="#f4b8b0" opacity="0.85"/>
<ellipse cx="283.5" cy="375.3" rx="1.8" ry="0.7" fill="#f8d0c8" opacity="0.85"/>
<ellipse cx="299.9" cy="363.3" rx="1.1" ry="0.9" fill="#c84a3a" opacity="0.85"/>
<ellipse cx="266.4" cy="372.8" rx="0.9" ry="1.0" fill="#e07870" opacity="0.85"/>
<ellipse cx="313.7" cy="356.5" rx="1.1" ry="1.2" fill="#a82a24" opacity="0.85"/>
<ellipse cx="307.8" cy="352.1" rx="1.1" ry="1.2" fill="#5a0c0c" opacity="0.85"/>
<ellipse cx="319.0" cy="330.3" rx="1.9" ry="1.3" fill="#a82a24" opacity="0.85"/>
<ellipse cx="300.6" cy="342.3" rx="1.1" ry="0.8" fill="#f8d0c8" opacity="0.85"/>
<ellipse cx="329.1" cy="365.8" rx="0.9" ry="1.2" fill="#f0a0a0" opacity="0.85"/>
<ellipse cx="269.5" cy="330.1" rx="1.7" ry="1.3" fill="#a82a24" opacity="0.85"/>
<ellipse cx="287.8" cy="332.9" rx="1.0" ry="1.4" fill="#f0a0a0" opacity="0.85"/>
<ellipse cx="290.0" cy="321.6" rx="1.5" ry="1.1" fill="#f4b8b0" opacity="0.85"/>
<ellipse cx="302.9" cy="349.4" rx="1.0" ry="1.3" fill="#a82a24" opacity="0.85"/>
<ellipse cx="254.9" cy="335.7" rx="1.5" ry="1.1" fill="#f4b8b0" opacity="0.85"/>
<ellipse cx="304.0" cy="373.0" rx="1.5" ry="1.2" fill="#f8d0c8" opacity="0.85"/>
<ellipse cx="289.2" cy="340.1" rx="1.8" ry="0.8" fill="#f0a0a0" opacity="0.85"/>
<ellipse cx="285.1" cy="364.8" rx="1.0" ry="1.0" fill="#a82a24" opacity="0.85"/>
<ellipse cx="289.3" cy="359.2" rx="1.3" ry="1.2" fill="#f4b8b0" opacity="0.85"/>
<ellipse cx="321.3" cy="376.0" rx="1.6" ry="0.9" fill="#e07870" opacity="0.85"/>
<ellipse cx="292.0" cy="380.9" rx="1.0" ry="0.8" fill="#c84a3a" opacity="0.85"/>
<ellipse cx="309.3" cy="379.5" rx="1.3" ry="0.7" fill="#f8d0c8" opacity="0.85"/>
<ellipse cx="298.5" cy="354.2" rx="1.3" ry="1.2" fill="#fce0dc" opacity="0.85"/>
<ellipse cx="317.9" cy="353.0" rx="1.6" ry="1.0" fill="#f4b8b0" opacity="0.85"/>
<ellipse cx="330.3" cy="332.1" rx="1.6" ry="1.2" fill="#f0a0a0" opacity="0.85"/>
<ellipse cx="303.3" cy="336.4" rx="1.2" ry="0.6" fill="#f4b8b0" opacity="0.85"/>
<ellipse cx="286.5" cy="346.7" rx="1.4" ry="0.7" fill="#e07870" opacity="0.85"/>
<ellipse cx="277.7" cy="345.5" rx="1.9" ry="1.5" fill="#f8d0c8" opacity="0.85"/>
<ellipse cx="289.9" cy="331.0" rx="1.7" ry="1.2" fill="#f0a0a0" opacity="0.85"/>
<ellipse cx="290.4" cy="355.5" rx="1.7" ry="0.7" fill="#f8d0c8" opacity="0.85"/>
<ellipse cx="305.5" cy="372.1" rx="1.3" ry="0.9" fill="#f4b8b0" opacity="0.85"/>
<ellipse cx="296.4" cy="328.5" rx="1.1" ry="1.4" fill="#fce0dc" opacity="0.85"/>
<ellipse cx="275.0" cy="344.0" rx="1.9" ry="1.2" fill="#5a0c0c" opacity="0.85"/>
<ellipse cx="291.3" cy="370.5" rx="1.1" ry="1.2" fill="#5a0c0c" opacity="0.85"/>
<ellipse cx="279.0" cy="350.7" rx="1.5" ry="0.9" fill="#f0a0a0" opacity="0.85"/>
<ellipse cx="325.5" cy="373.5" rx="0.8" ry="1.1" fill="#c84a3a" opacity="0.85"/>
<ellipse cx="279.3" cy="379.0" rx="1.5" ry="0.6" fill="#e07870" opacity="0.85"/>
<ellipse cx="255.4" cy="379.5" rx="1.0" ry="0.7" fill="#5a0c0c" opacity="0.85"/>
<ellipse cx="265.4" cy="335.2" rx="1.1" ry="0.7" fill="#fce0dc" opacity="0.85"/>
<ellipse cx="323.7" cy="369.6" rx="1.4" ry="1.2" fill="#a82a24" opacity="0.85"/>
<ellipse cx="329.3" cy="326.4" rx="0.9" ry="1.2" fill="#5a0c0c" opacity="0.85"/>
<ellipse cx="295.1" cy="366.6" rx="1.5" ry="0.7" fill="#fce0dc" opacity="0.85"/>
<ellipse cx="263.6" cy="346.7" rx="1.3" ry="1.1" fill="#a82a24" opacity="0.85"/>
<ellipse cx="291.6" cy="376.7" rx="1.0" ry="0.7" fill="#fce0dc" opacity="0.85"/>
<ellipse cx="300.4" cy="366.1" rx="1.7" ry="1.0" fill="#a82a24" opacity="0.85"/>
<ellipse cx="297.5" cy="361.8" rx="1.1" ry="1.0" fill="#fce0dc" opacity="0.85"/>
<ellipse cx="328.0" cy="325.5" rx="1.5" ry="0.6" fill="#e07870" opacity="0.85"/>
<ellipse cx="301.1" cy="362.9" rx="1.7" ry="0.7" fill="#e07870" opacity="0.85"/>
<ellipse cx="291.5" cy="367.5" rx="0.7" ry="1.2" fill="#a82a24" opacity="0.85"/>
<ellipse cx="302.3" cy="341.7" rx="1.1" ry="1.3" fill="#e07870" opacity="0.85"/>
<ellipse cx="296.9" cy="377.1" rx="1.2" ry="1.0" fill="#5a0c0c" opacity="0.85"/>
<ellipse cx="296.9" cy="371.8" rx="1.1" ry="1.0" fill="#5a0c0c" opacity="0.85"/>
<ellipse cx="280.0" cy="381.5" rx="1.9" ry="1.2" fill="#e07870" opacity="0.85"/>
<ellipse cx="315.1" cy="341.2" rx="1.6" ry="0.7" fill="#e07870" opacity="0.85"/>
<ellipse cx="328.9" cy="326.2" rx="1.2" ry="1.1" fill="#c84a3a" opacity="0.85"/>
<ellipse cx="285.6" cy="356.2" rx="1.1" ry="0.6" fill="#f4b8b0" opacity="0.85"/>
<ellipse cx="269.0" cy="377.7" rx="1.6" ry="1.4" fill="#c84a3a" opacity="0.85"/>
<ellipse cx="301.3" cy="358.9" rx="1.0" ry="1.2" fill="#f0a0a0" opacity="0.85"/>
<ellipse cx="289.5" cy="367.9" rx="1.5" ry="1.4" fill="#f0a0a0" opacity="0.85"/>
<ellipse cx="286.8" cy="327.0" rx="1.1" ry="1.3" fill="#c84a3a" opacity="0.85"/>
<ellipse cx="314.7" cy="355.5" rx="1.7" ry="0.8" fill="#5a0c0c" opacity="0.85"/>
<ellipse cx="257.1" cy="322.1" rx="1.3" ry="1.1" fill="#c84a3a" opacity="0.85"/>
<ellipse cx="317.6" cy="368.5" rx="1.4" ry="1.4" fill="#f4b8b0" opacity="0.85"/>
<ellipse cx="288.7" cy="321.7" rx="1.4" ry="1.5" fill="#f4b8b0" opacity="0.85"/>
<ellipse cx="304.9" cy="330.4" rx="1.4" ry="0.7" fill="#f4b8b0" opacity="0.85"/>
<ellipse cx="290.6" cy="376.1" rx="1.2" ry="0.6" fill="#c84a3a" opacity="0.85"/>
<ellipse cx="305.7" cy="381.7" rx="1.0" ry="0.7" fill="#f0a0a0" opacity="0.85"/>
<ellipse cx="290.6" cy="337.8" rx="1.2" ry="1.3" fill="#f8d0c8" opacity="0.85"/>
<ellipse cx="325.1" cy="343.4" rx="1.6" ry="0.7" fill="#a82a24" opacity="0.85"/>
<ellipse cx="302.6" cy="364.6" rx="1.5" ry="1.4" fill="#fce0dc" opacity="0.85"/>
<ellipse cx="324.4" cy="324.0" rx="0.7" ry="0.6" fill="#c84a3a" opacity="0.85"/>
<ellipse cx="304.3" cy="371.2" rx="1.2" ry="0.9" fill="#f0a0a0" opacity="0.85"/>
<ellipse cx="300.4" cy="379.9" rx="1.4" ry="0.9" fill="#fce0dc" opacity="0.85"/>
<ellipse cx="327.1" cy="365.7" rx="1.5" ry="0.7" fill="#fce0dc" opacity="0.85"/>
<ellipse cx="315.5" cy="343.2" rx="1.5" ry="1.0" fill="#a82a24" opacity="0.85"/>
<ellipse cx="284.0" cy="369.3" rx="1.6" ry="1.1" fill="#5a0c0c" opacity="0.85"/>
<ellipse cx="276.9" cy="324.5" rx="1.7" ry="1.3" fill="#e07870" opacity="0.85"/>
<ellipse cx="255.7" cy="330.1" rx="1.4" ry="1.5" fill="#5a0c0c" opacity="0.85"/>
<ellipse cx="273.3" cy="344.7" rx="1.4" ry="1.4" fill="#f4b8b0" opacity="0.85"/>
<ellipse cx="316.3" cy="338.3" rx="1.1" ry="0.8" fill="#c84a3a" opacity="0.85"/>
<ellipse cx="266.5" cy="377.6" rx="1.0" ry="0.7" fill="#c84a3a" opacity="0.85"/>
<ellipse cx="322.6" cy="382.1" rx="1.0" ry="1.4" fill="#a82a24" opacity="0.85"/>
<ellipse cx="316.2" cy="363.0" rx="1.1" ry="0.7" fill="#fce0dc" opacity="0.85"/>
<ellipse cx="296.9" cy="370.0" rx="1.6" ry="1.2" fill="#f8d0c8" opacity="0.85"/>
<ellipse cx="329.6" cy="339.9" rx="1.5" ry="1.0" fill="#c84a3a" opacity="0.85"/>
<ellipse cx="270.3" cy="336.5" rx="1.6" ry="1.0" fill="#c84a3a" opacity="0.85"/>
<ellipse cx="261.2" cy="370.6" rx="1.0" ry="1.1" fill="#f0a0a0" opacity="0.85"/>
<ellipse cx="323.1" cy="375.4" rx="1.3" ry="1.1" fill="#e07870" opacity="0.85"/>
<ellipse cx="269.0" cy="332.7" rx="1.7" ry="0.9" fill="#a82a24" opacity="0.85"/>
<ellipse cx="298.7" cy="342.9" rx="1.0" ry="1.4" fill="#a82a24" opacity="0.85"/>
<ellipse cx="292.2" cy="374.3" rx="1.5" ry="1.3" fill="#e07870" opacity="0.85"/>
<ellipse cx="266.4" cy="357.6" rx="1.0" ry="1.1" fill="#e07870" opacity="0.85"/>
<ellipse cx="261.7" cy="333.4" rx="1.4" ry="0.8" fill="#fce0dc" opacity="0.85"/>
<ellipse cx="325.3" cy="338.1" rx="1.8" ry="1.3" fill="#f0a0a0" opacity="0.85"/>
<ellipse cx="317.1" cy="380.2" rx="1.7" ry="0.9" fill="#5a0c0c" opacity="0.85"/>
<ellipse cx="330.6" cy="344.1" rx="0.8" ry="1.1" fill="#c84a3a" opacity="0.85"/>
<ellipse cx="321.1" cy="349.1" rx="1.7" ry="1.2" fill="#f0a0a0" opacity="0.85"/>
<ellipse cx="325.0" cy="364.4" rx="1.0" ry="1.1" fill="#f0a0a0" opacity="0.85"/>
<ellipse cx="303.5" cy="379.8" rx="0.9" ry="1.4" fill="#f4b8b0" opacity="0.85"/>
<ellipse cx="282.9" cy="335.3" rx="0.9" ry="1.4" fill="#f8d0c8" opacity="0.85"/>
<ellipse cx="326.5" cy="324.5" rx="1.7" ry="0.6" fill="#c84a3a" opacity="0.85"/>
<ellipse cx="314.7" cy="364.6" rx="0.8" ry="0.7" fill="#fce0dc" opacity="0.85"/>
<ellipse cx="312.3" cy="378.8" rx="1.4" ry="1.0" fill="#5a0c0c" opacity="0.85"/>
<ellipse cx="304.4" cy="349.8" rx="1.0" ry="0.7" fill="#e07870" opacity="0.85"/>
<ellipse cx="291.3" cy="331.2" rx="1.7" ry="1.4" fill="#f8d0c8" opacity="0.85"/>
<ellipse cx="322.8" cy="349.7" rx="1.7" ry="0.7" fill="#f8d0c8" opacity="0.85"/>
<ellipse cx="318.2" cy="325.6" rx="1.8" ry="0.7" fill="#e07870" opacity="0.85"/>
<ellipse cx="288.7" cy="326.8" rx="1.7" ry="1.2" fill="#f4b8b0" opacity="0.85"/>
<ellipse cx="289.1" cy="341.8" rx="1.3" ry="1.2" fill="#f8d0c8" opacity="0.85"/>
<ellipse cx="265.4" cy="334.5" rx="0.9" ry="1.0" fill="#c84a3a" opacity="0.85"/>
<ellipse cx="322.5" cy="347.9" rx="1.0" ry="1.0" fill="#a82a24" opacity="0.85"/>
<ellipse cx="266.4" cy="337.5" rx="1.1" ry="0.8" fill="#5a0c0c" opacity="0.85"/>
<ellipse cx="292.1" cy="340.4" rx="0.8" ry="1.5" fill="#fce0dc" opacity="0.85"/>
<ellipse cx="258.8" cy="376.0" rx="1.4" ry="1.4" fill="#f8d0c8" opacity="0.85"/>
<ellipse cx="263.6" cy="367.4" rx="1.2" ry="0.8" fill="#e07870" opacity="0.85"/>
<ellipse cx="272.8" cy="335.5" rx="1.0" ry="1.4" fill="#f4b8b0" opacity="0.85"/>
<ellipse cx="258.9" cy="365.6" rx="0.9" ry="1.2" fill="#5a0c0c" opacity="0.85"/>
<ellipse cx="288.3" cy="352.1" rx="1.2" ry="1.3" fill="#a82a24" opacity="0.85"/>
<ellipse cx="326.7" cy="338.5" rx="1.2" ry="1.4" fill="#e07870" opacity="0.85"/>
<ellipse cx="271.2" cy="356.1" rx="1.7" ry="1.1" fill="#a82a24" opacity="0.85"/>
<ellipse cx="272.1" cy="331.6" rx="1.7" ry="1.4" fill="#f0a0a0" opacity="0.85"/>
<ellipse cx="310.4" cy="367.8" rx="0.9" ry="1.2" fill="#a82a24" opacity="0.85"/>
<ellipse cx="308.6" cy="370.9" rx="0.9" ry="0.7" fill="#5a0c0c" opacity="0.85"/>
<ellipse cx="310.6" cy="346.0" rx="1.3" ry="0.9" fill="#c84a3a" opacity="0.85"/>
<ellipse cx="276.1" cy="360.2" rx="0.8" ry="1.0" fill="#fce0dc" opacity="0.85"/>
<ellipse cx="312.9" cy="329.0" rx="1.0" ry="1.1" fill="#5a0c0c" opacity="0.85"/>
<ellipse cx="329.9" cy="323.1" rx="1.4" ry="1.4" fill="#e07870" opacity="0.85"/>
<ellipse cx="281.7" cy="378.3" rx="0.8" ry="1.2" fill="#f0a0a0" opacity="0.85"/>
<ellipse cx="317.0" cy="374.2" rx="1.6" ry="1.4" fill="#e07870" opacity="0.85"/>
<ellipse cx="298.6" cy="376.2" rx="1.7" ry="1.5" fill="#5a0c0c" opacity="0.85"/>
<ellipse cx="292.4" cy="352.5" rx="0.7" ry="1.5" fill="#a82a24" opacity="0.85"/>
<ellipse cx="271.6" cy="332.1" rx="1.1" ry="1.1" fill="#f0a0a0" opacity="0.85"/>
<ellipse cx="327.6" cy="322.0" rx="1.0" ry="1.4" fill="#f8d0c8" opacity="0.85"/>
<ellipse cx="303.2" cy="349.4" rx="1.5" ry="0.7" fill="#f8d0c8" opacity="0.85"/>
<ellipse cx="321.0" cy="365.0" rx="1.0" ry="1.0" fill="#c84a3a" opacity="0.85"/>
<ellipse cx="299.3" cy="367.8" rx="0.8" ry="1.0" fill="#f0a0a0" opacity="0.85"/>
<ellipse cx="265.0" cy="357.3" rx="0.9" ry="1.1" fill="#f8d0c8" opacity="0.85"/>
<ellipse cx="311.6" cy="330.9" rx="1.8" ry="0.9" fill="#c84a3a" opacity="0.85"/>
<ellipse cx="286.7" cy="372.6" rx="1.2" ry="1.4" fill="#c84a3a" opacity="0.85"/>
<ellipse cx="313.9" cy="341.7" rx="1.7" ry="1.2" fill="#f8d0c8" opacity="0.85"/>
<ellipse cx="319.0" cy="355.6" rx="1.7" ry="1.4" fill="#e07870" opacity="0.85"/>
<ellipse cx="258.6" cy="352.7" rx="1.0" ry="1.0" fill="#e07870" opacity="0.85"/>
<ellipse cx="302.9" cy="343.3" rx="0.8" ry="1.0" fill="#a82a24" opacity="0.85"/>
<ellipse cx="293.1" cy="322.1" rx="1.2" ry="1.0" fill="#a82a24" opacity="0.85"/>
<ellipse cx="330.8" cy="348.8" rx="1.7" ry="1.4" fill="#c84a3a" opacity="0.85"/>
<ellipse cx="322.2" cy="322.9" rx="1.8" ry="1.2" fill="#5a0c0c" opacity="0.85"/>
<ellipse cx="302.6" cy="370.6" rx="1.4" ry="0.8" fill="#c84a3a" opacity="0.85"/>
<ellipse cx="294.3" cy="347.6" rx="1.0" ry="0.9" fill="#c84a3a" opacity="0.85"/>
<ellipse cx="304.0" cy="328.2" rx="0.8" ry="1.1" fill="#5a0c0c" opacity="0.85"/>
<ellipse cx="325.8" cy="347.9" rx="1.8" ry="1.4" fill="#a82a24" opacity="0.85"/>
<ellipse cx="298.7" cy="337.7" rx="1.6" ry="0.9" fill="#f0a0a0" opacity="0.85"/>
<ellipse cx="289.2" cy="363.7" rx="1.5" ry="0.8" fill="#f8d0c8" opacity="0.85"/>
<ellipse cx="308.8" cy="349.2" rx="1.4" ry="1.0" fill="#5a0c0c" opacity="0.85"/>
<ellipse cx="278.3" cy="335.7" rx="0.9" ry="1.1" fill="#f8d0c8" opacity="0.85"/>
<ellipse cx="328.7" cy="345.3" rx="0.9" ry="1.5" fill="#e07870" opacity="0.85"/>
<ellipse cx="279.3" cy="340.9" rx="1.0" ry="1.5" fill="#5a0c0c" opacity="0.85"/>
<ellipse cx="277.1" cy="368.4" rx="1.4" ry="1.1" fill="#a82a24" opacity="0.85"/>
<ellipse cx="281.1" cy="361.4" rx="1.7" ry="0.9" fill="#f4b8b0" opacity="0.85"/>
<ellipse cx="312.9" cy="352.9" rx="1.2" ry="1.2" fill="#a82a24" opacity="0.85"/>
<ellipse cx="265.2" cy="333.3" rx="1.7" ry="1.1" fill="#5a0c0c" opacity="0.85"/>
<ellipse cx="311.0" cy="366.7" rx="1.0" ry="1.2" fill="#fce0dc" opacity="0.85"/>
<ellipse cx="302.9" cy="364.2" rx="1.7" ry="0.6" fill="#f4b8b0" opacity="0.85"/>
<ellipse cx="313.1" cy="356.9" rx="1.2" ry="1.5" fill="#fce0dc" opacity="0.85"/>
<ellipse cx="265.9" cy="373.2" rx="1.7" ry="1.1" fill="#5a0c0c" opacity="0.85"/>
<ellipse cx="283.5" cy="348.7" rx="1.0" ry="0.9" fill="#fce0dc" opacity="0.85"/>
<ellipse cx="281.5" cy="353.3" rx="1.5" ry="0.6" fill="#f4b8b0" opacity="0.85"/>
<ellipse cx="311.6" cy="381.9" rx="1.2" ry="0.8" fill="#f4b8b0" opacity="0.85"/>
<ellipse cx="277.8" cy="329.7" rx="1.4" ry="0.7" fill="#f4b8b0" opacity="0.85"/>
<ellipse cx="324.9" cy="340.8" rx="1.9" ry="0.8" fill="#f8d0c8" opacity="0.85"/>
<ellipse cx="287.1" cy="377.0" rx="0.7" ry="0.8" fill="#c84a3a" opacity="0.85"/>
<ellipse cx="323.0" cy="339.3" rx="1.3" ry="1.5" fill="#5a0c0c" opacity="0.85"/>
<ellipse cx="294.1" cy="352.7" rx="1.2" ry="0.9" fill="#f4b8b0" opacity="0.85"/>
<ellipse cx="300.0" cy="342.5" rx="1.5" ry="1.1" fill="#c84a3a" opacity="0.85"/>
<ellipse cx="262.1" cy="343.9" rx="1.5" ry="1.4" fill="#f4b8b0" opacity="0.85"/>
<ellipse cx="266.3" cy="332.4" rx="1.3" ry="1.0" fill="#f4b8b0" opacity="0.85"/>
<ellipse cx="302.3" cy="382.3" rx="1.5" ry="1.3" fill="#e07870" opacity="0.85"/>
<ellipse cx="261.6" cy="343.2" rx="1.9" ry="1.3" fill="#e07870" opacity="0.85"/>
<ellipse cx="293.7" cy="327.6" rx="1.5" ry="1.3" fill="#5a0c0c" opacity="0.85"/>
<ellipse cx="330.3" cy="375.6" rx="1.5" ry="1.1" fill="#f4b8b0" opacity="0.85"/>
<ellipse cx="316.9" cy="333.6" rx="1.2" ry="0.7" fill="#f8d0c8" opacity="0.85"/>
<ellipse cx="297.7" cy="327.4" rx="1.5" ry="0.6" fill="#c84a3a" opacity="0.85"/>
<ellipse cx="254.7" cy="364.6" rx="1.8" ry="1.0" fill="#c84a3a" opacity="0.85"/>
<ellipse cx="262.0" cy="321.8" rx="0.9" ry="1.0" fill="#c84a3a" opacity="0.85"/>
<ellipse cx="296.8" cy="337.2" rx="1.4" ry="1.0" fill="#a82a24" opacity="0.85"/>
<ellipse cx="263.8" cy="330.5" rx="0.7" ry="0.7" fill="#f0a0a0" opacity="0.85"/>
<ellipse cx="327.0" cy="351.1" rx="1.4" ry="1.3" fill="#fce0dc" opacity="0.85"/>
<ellipse cx="259.3" cy="321.6" rx="0.9" ry="0.8" fill="#e07870" opacity="0.85"/>
<ellipse cx="275.6" cy="322.8" rx="1.7" ry="1.5" fill="#f0a0a0" opacity="0.85"/>
<ellipse cx="259.3" cy="332.6" rx="0.7" ry="0.8" fill="#f4b8b0" opacity="0.85"/>
<ellipse cx="284.8" cy="367.9" rx="1.2" ry="1.2" fill="#c84a3a" opacity="0.85"/>
<ellipse cx="273.6" cy="323.5" rx="1.1" ry="1.4" fill="#a82a24" opacity="0.85"/>
<ellipse cx="316.9" cy="339.5" rx="1.9" ry="1.0" fill="#5a0c0c" opacity="0.85"/>
<ellipse cx="327.2" cy="335.8" rx="1.5" ry="1.1" fill="#f4b8b0" opacity="0.85"/>
<ellipse cx="286.1" cy="345.4" rx="0.7" ry="1.4" fill="#fce0dc" opacity="0.85"/>
<ellipse cx="261.2" cy="331.3" rx="0.9" ry="1.5" fill="#f4b8b0" opacity="0.85"/>
<ellipse cx="276.7" cy="355.4" rx="1.1" ry="1.4" fill="#f0a0a0" opacity="0.85"/>
<ellipse cx="280.2" cy="361.0" rx="1.2" ry="1.4" fill="#f0a0a0" opacity="0.85"/>
<ellipse cx="296.9" cy="344.7" rx="1.0" ry="0.8" fill="#fce0dc" opacity="0.85"/>
<ellipse cx="257.2" cy="361.8" rx="1.7" ry="0.8" fill="#e07870" opacity="0.85"/>
<ellipse cx="264.4" cy="332.9" rx="1.4" ry="1.0" fill="#a82a24" opacity="0.85"/>
<ellipse cx="315.3" cy="335.6" rx="1.1" ry="1.3" fill="#e07870" opacity="0.85"/>
<ellipse cx="283.3" cy="379.9" rx="1.1" ry="1.0" fill="#f8d0c8" opacity="0.85"/>
<ellipse cx="270.1" cy="373.8" rx="1.8" ry="1.5" fill="#a82a24" opacity="0.85"/>
<ellipse cx="300.1" cy="348.0" rx="1.3" ry="1.0" fill="#e07870" opacity="0.85"/>
<ellipse cx="293.5" cy="328.5" rx="1.5" ry="0.7" fill="#f0a0a0" opacity="0.85"/>
<ellipse cx="319.7" cy="366.2" rx="0.7" ry="1.2" fill="#f4b8b0" opacity="0.85"/>
<ellipse cx="265.6" cy="321.7" rx="1.5" ry="1.3" fill="#f0a0a0" opacity="0.85"/>
<ellipse cx="272.2" cy="332.4" rx="0.8" ry="1.4" fill="#f0a0a0" opacity="0.85"/>
<ellipse cx="316.1" cy="367.6" rx="0.8" ry="0.9" fill="#f8d0c8" opacity="0.85"/>
<ellipse cx="271.8" cy="328.6" rx="1.0" ry="1.0" fill="#f4b8b0" opacity="0.85"/>
<ellipse cx="324.0" cy="368.6" rx="1.8" ry="0.8" fill="#a82a24" opacity="0.85"/>
<ellipse cx="282.5" cy="370.1" rx="1.8" ry="0.6" fill="#e07870" opacity="0.85"/>
<ellipse cx="308.3" cy="349.3" rx="1.1" ry="1.2" fill="#f4b8b0" opacity="0.85"/>
<ellipse cx="268.4" cy="327.9" rx="1.6" ry="0.6" fill="#f8d0c8" opacity="0.85"/>
<ellipse cx="257.6" cy="330.8" rx="1.6" ry="0.7" fill="#f8d0c8" opacity="0.85"/>
<ellipse cx="311.0" cy="354.9" rx="1.4" ry="0.8" fill="#a82a24" opacity="0.85"/>
<ellipse cx="292.6" cy="352.9" rx="1.5" ry="1.1" fill="#f4b8b0" opacity="0.85"/>
<ellipse cx="326.1" cy="327.7" rx="1.8" ry="1.4" fill="#5a0c0c" opacity="0.85"/>
<ellipse cx="299.3" cy="363.7" rx="1.5" ry="0.6" fill="#f8d0c8" opacity="0.85"/>
<ellipse cx="278.9" cy="368.7" rx="1.6" ry="0.7" fill="#e07870" opacity="0.85"/>
<ellipse cx="307.6" cy="345.1" rx="1.0" ry="0.7" fill="#f8d0c8" opacity="0.85"/>
<ellipse cx="326.9" cy="347.0" rx="1.5" ry="1.3" fill="#e07870" opacity="0.85"/>
<ellipse cx="318.0" cy="359.6" rx="1.3" ry="1.2" fill="#fce0dc" opacity="0.85"/>
<ellipse cx="270.3" cy="362.3" rx="1.3" ry="0.8" fill="#a82a24" opacity="0.85"/>
<ellipse cx="327.4" cy="371.7" rx="0.9" ry="0.7" fill="#5a0c0c" opacity="0.85"/>
<ellipse cx="314.2" cy="335.4" rx="1.0" ry="0.7" fill="#5a0c0c" opacity="0.85"/>
<ellipse cx="281.9" cy="346.2" rx="1.5" ry="0.7" fill="#f8d0c8" opacity="0.85"/>
<ellipse cx="307.0" cy="350.8" rx="1.0" ry="0.8" fill="#fce0dc" opacity="0.85"/>
<ellipse cx="293.9" cy="348.3" rx="1.5" ry="0.7" fill="#e07870" opacity="0.85"/>
<ellipse cx="308.6" cy="357.1" rx="1.1" ry="1.3" fill="#f8d0c8" opacity="0.85"/>
<ellipse cx="296.4" cy="367.7" rx="1.5" ry="0.7" fill="#a82a24" opacity="0.85"/>
<ellipse cx="329.4" cy="372.6" rx="1.7" ry="0.7" fill="#f4b8b0" opacity="0.85"/>
<ellipse cx="276.6" cy="343.0" rx="0.8" ry="1.4" fill="#f8d0c8" opacity="0.85"/>
<ellipse cx="277.7" cy="327.6" rx="1.2" ry="0.7" fill="#5a0c0c" opacity="0.85"/>
<ellipse cx="279.3" cy="349.7" rx="1.0" ry="1.1" fill="#e07870" opacity="0.85"/>
<ellipse cx="258.0" cy="349.7" rx="0.8" ry="1.2" fill="#fce0dc" opacity="0.85"/>
<ellipse cx="329.5" cy="355.6" rx="1.5" ry="1.5" fill="#f0a0a0" opacity="0.85"/>
<ellipse cx="291.9" cy="369.2" rx="0.7" ry="1.4" fill="#e07870" opacity="0.85"/>
<ellipse cx="303.8" cy="359.5" rx="1.5" ry="0.7" fill="#5a0c0c" opacity="0.85"/>
<ellipse cx="311.7" cy="322.4" rx="1.7" ry="0.9" fill="#f4b8b0" opacity="0.85"/>
<ellipse cx="268.7" cy="360.2" rx="0.8" ry="1.2" fill="#a82a24" opacity="0.85"/>
<ellipse cx="278.2" cy="358.9" rx="0.9" ry="1.3" fill="#f4b8b0" opacity="0.85"/>
<ellipse cx="279.0" cy="343.5" rx="1.7" ry="0.8" fill="#e07870" opacity="0.85"/>
<ellipse cx="258.9" cy="327.4" rx="1.8" ry="1.5" fill="#f4b8b0" opacity="0.85"/>
<ellipse cx="292.3" cy="351.6" rx="1.9" ry="1.1" fill="#a82a24" opacity="0.85"/>
<ellipse cx="302.4" cy="329.6" rx="0.9" ry="1.0" fill="#f8d0c8" opacity="0.85"/>
<ellipse cx="328.7" cy="326.3" rx="1.7" ry="1.0" fill="#c84a3a" opacity="0.85"/>
<ellipse cx="271.2" cy="343.8" rx="1.7" ry="1.4" fill="#c84a3a" opacity="0.85"/>
<ellipse cx="314.7" cy="347.0" rx="0.8" ry="0.6" fill="#5a0c0c" opacity="0.85"/>
<ellipse cx="308.9" cy="375.8" rx="1.2" ry="1.2" fill="#f0a0a0" opacity="0.85"/>
<ellipse cx="317.7" cy="376.6" rx="1.2" ry="0.6" fill="#a82a24" opacity="0.85"/>
<ellipse cx="316.0" cy="362.5" rx="1.3" ry="1.1" fill="#f8d0c8" opacity="0.85"/>
<ellipse cx="294.0" cy="347.2" rx="1.9" ry="1.5" fill="#a82a24" opacity="0.85"/>
<ellipse cx="301.9" cy="370.8" rx="1.6" ry="0.9" fill="#c84a3a" opacity="0.85"/>
<ellipse cx="304.9" cy="355.7" rx="1.8" ry="1.0" fill="#f4b8b0" opacity="0.85"/>
<ellipse cx="304.0" cy="339.3" rx="1.3" ry="1.2" fill="#e07870" opacity="0.85"/>
<ellipse cx="319.4" cy="334.5" rx="1.5" ry="0.7" fill="#fce0dc" opacity="0.85"/>
<ellipse cx="298.8" cy="355.0" rx="1.1" ry="0.8" fill="#f4b8b0" opacity="0.85"/>
<ellipse cx="288.3" cy="336.9" rx="0.9" ry="1.4" fill="#f8d0c8" opacity="0.85"/>
<ellipse cx="296.4" cy="327.7" rx="1.5" ry="0.8" fill="#5a0c0c" opacity="0.85"/>
<ellipse cx="305.8" cy="364.6" rx="1.4" ry="0.8" fill="#f8d0c8" opacity="0.85"/>
<ellipse cx="298.3" cy="327.8" rx="1.7" ry="1.2" fill="#f0a0a0" opacity="0.85"/>
<ellipse cx="315.7" cy="329.1" rx="1.5" ry="1.5" fill="#f0a0a0" opacity="0.85"/>
<ellipse cx="293.9" cy="349.2" rx="1.4" ry="1.5" fill="#f4b8b0" opacity="0.85"/>
<ellipse cx="269.2" cy="350.1" rx="0.9" ry="1.3" fill="#f0a0a0" opacity="0.85"/>
<ellipse cx="258.9" cy="335.4" rx="0.8" ry="1.2" fill="#e07870" opacity="0.85"/>
<ellipse cx="327.6" cy="349.2" rx="1.5" ry="1.0" fill="#f0a0a0" opacity="0.85"/>
<ellipse cx="322.5" cy="359.1" rx="1.4" ry="1.4" fill="#f8d0c8" opacity="0.85"/>
<ellipse cx="321.1" cy="331.2" rx="1.7" ry="1.3" fill="#e07870" opacity="0.85"/>
<ellipse cx="255.4" cy="336.6" rx="1.1" ry="1.3" fill="#f8d0c8" opacity="0.85"/>
<ellipse cx="327.0" cy="365.3" rx="1.7" ry="0.9" fill="#c84a3a" opacity="0.85"/>
<ellipse cx="281.7" cy="341.0" rx="0.7" ry="1.4" fill="#f0a0a0" opacity="0.85"/>
<ellipse cx="273.0" cy="342.7" rx="0.7" ry="1.5" fill="#fce0dc" opacity="0.85"/>
<ellipse cx="288.2" cy="369.6" rx="0.8" ry="1.3" fill="#fce0dc" opacity="0.85"/>
<ellipse cx="268.7" cy="355.0" rx="1.7" ry="1.2" fill="#5a0c0c" opacity="0.85"/>
<ellipse cx="318.5" cy="357.1" rx="1.3" ry="1.2" fill="#5a0c0c" opacity="0.85"/>
<ellipse cx="316.3" cy="379.3" rx="0.7" ry="1.5" fill="#c84a3a" opacity="0.85"/>
<ellipse cx="291.8" cy="350.7" rx="1.7" ry="0.6" fill="#c84a3a" opacity="0.85"/>
<ellipse cx="268.4" cy="371.3" rx="1.7" ry="1.5" fill="#f4b8b0" opacity="0.85"/>
<ellipse cx="307.5" cy="348.5" rx="1.7" ry="1.1" fill="#f8d0c8" opacity="0.85"/>
<ellipse cx="260.3" cy="341.1" rx="1.1" ry="0.7" fill="#f8d0c8" opacity="0.85"/>
<ellipse cx="302.3" cy="333.8" rx="1.6" ry="0.9" fill="#e07870" opacity="0.85"/>
<ellipse cx="290.3" cy="378.6" rx="0.7" ry="1.1" fill="#e07870" opacity="0.85"/>
<ellipse cx="280.0" cy="322.1" rx="1.8" ry="1.1" fill="#fce0dc" opacity="0.85"/>
<ellipse cx="302.8" cy="365.7" rx="1.0" ry="0.8" fill="#a82a24" opacity="0.85"/>
<ellipse cx="292.8" cy="337.0" rx="1.9" ry="0.6" fill="#a82a24" opacity="0.85"/>
<ellipse cx="297.4" cy="368.4" rx="1.6" ry="1.2" fill="#f8d0c8" opacity="0.85"/>
<ellipse cx="303.0" cy="343.2" rx="1.7" ry="0.8" fill="#5a0c0c" opacity="0.85"/>
<ellipse cx="315.4" cy="329.5" rx="1.1" ry="1.3" fill="#f0a0a0" opacity="0.85"/>
<ellipse cx="311.1" cy="352.2" rx="1.1" ry="1.1" fill="#f8d0c8" opacity="0.85"/>
<ellipse cx="285.6" cy="324.5" rx="1.5" ry="1.4" fill="#e07870" opacity="0.85"/>
<ellipse cx="314.4" cy="351.9" rx="1.7" ry="1.5" fill="#f8d0c8" opacity="0.85"/>
<ellipse cx="266.0" cy="333.5" rx="1.2" ry="1.0" fill="#fce0dc" opacity="0.85"/>
<ellipse cx="313.6" cy="378.1" rx="0.9" ry="1.2" fill="#f0a0a0" opacity="0.85"/>
<ellipse cx="273.8" cy="356.1" rx="0.8" ry="0.8" fill="#e07870" opacity="0.85"/>
<ellipse cx="325.2" cy="356.9" rx="1.4" ry="1.5" fill="#5a0c0c" opacity="0.85"/>
<ellipse cx="281.8" cy="368.6" rx="1.6" ry="1.4" fill="#f4b8b0" opacity="0.85"/>
<ellipse cx="318.7" cy="340.5" rx="1.0" ry="0.8" fill="#a82a24" opacity="0.85"/>
<ellipse cx="256.3" cy="331.0" rx="1.0" ry="0.6" fill="#5a0c0c" opacity="0.85"/>
<ellipse cx="258.1" cy="348.4" rx="1.7" ry="1.2" fill="#5a0c0c" opacity="0.85"/>
<ellipse cx="269.5" cy="366.1" rx="1.4" ry="0.7" fill="#a82a24" opacity="0.85"/>
<ellipse cx="316.4" cy="374.8" rx="1.6" ry="0.6" fill="#e07870" opacity="0.85"/>
<ellipse cx="275.2" cy="360.4" rx="1.5" ry="1.4" fill="#c84a3a" opacity="0.85"/>
<ellipse cx="270.7" cy="341.0" rx="1.5" ry="1.0" fill="#c84a3a" opacity="0.85"/>
<ellipse cx="306.4" cy="341.6" rx="1.7" ry="1.3" fill="#c84a3a" opacity="0.85"/>
<ellipse cx="261.2" cy="358.6" rx="1.9" ry="1.0" fill="#fce0dc" opacity="0.85"/>
<ellipse cx="326.4" cy="374.7" rx="1.8" ry="1.1" fill="#c84a3a" opacity="0.85"/>
<ellipse cx="330.0" cy="324.3" rx="0.9" ry="0.6" fill="#e07870" opacity="0.85"/>
<ellipse cx="270.6" cy="353.5" rx="1.1" ry="0.9" fill="#f0a0a0" opacity="0.85"/>
<ellipse cx="280.8" cy="362.8" rx="1.5" ry="1.1" fill="#a82a24" opacity="0.85"/>
<ellipse cx="279.8" cy="366.5" rx="1.7" ry="1.0" fill="#5a0c0c" opacity="0.85"/>
<ellipse cx="256.9" cy="360.7" rx="1.4" ry="0.9" fill="#fce0dc" opacity="0.85"/>
<ellipse cx="295.0" cy="337.7" rx="0.7" ry="1.0" fill="#5a0c0c" opacity="0.85"/>
<ellipse cx="304.6" cy="368.6" rx="0.9" ry="1.2" fill="#e07870" opacity="0.85"/>
<ellipse cx="285.2" cy="381.2" rx="1.4" ry="0.7" fill="#c84a3a" opacity="0.85"/>
<ellipse cx="296.1" cy="333.4" rx="1.0" ry="1.1" fill="#a82a24" opacity="0.85"/>
<ellipse cx="310.9" cy="376.5" rx="1.3" ry="0.9" fill="#a82a24" opacity="0.85"/>
<ellipse cx="308.8" cy="348.0" rx="1.0" ry="1.4" fill="#fce0dc" opacity="0.85"/>
<ellipse cx="323.4" cy="344.8" rx="1.1" ry="1.4" fill="#f8d0c8" opacity="0.85"/>
<ellipse cx="262.7" cy="366.0" rx="1.7" ry="1.4" fill="#f0a0a0" opacity="0.85"/>
<ellipse cx="306.1" cy="342.4" rx="1.4" ry="1.0" fill="#f8d0c8" opacity="0.85"/>
<ellipse cx="324.8" cy="379.1" rx="0.7" ry="0.6" fill="#f8d0c8" opacity="0.85"/>
<ellipse cx="308.8" cy="335.7" rx="0.9" ry="1.3" fill="#e07870" opacity="0.85"/>
<ellipse cx="303.7" cy="339.2" rx="1.0" ry="1.1" fill="#fce0dc" opacity="0.85"/>
<ellipse cx="266.5" cy="374.1" rx="1.8" ry="0.7" fill="#5a0c0c" opacity="0.85"/>
<ellipse cx="277.5" cy="326.3" rx="1.3" ry="1.4" fill="#c84a3a" opacity="0.85"/>
<ellipse cx="266.9" cy="362.9" rx="1.0" ry="0.6" fill="#fce0dc" opacity="0.85"/>
<ellipse cx="314.3" cy="373.3" rx="0.8" ry="1.3" fill="#e07870" opacity="0.85"/>
<ellipse cx="288.1" cy="347.6" rx="1.9" ry="0.9" fill="#a82a24" opacity="0.85"/>
<ellipse cx="256.4" cy="327.7" rx="0.9" ry="0.9" fill="#c84a3a" opacity="0.85"/>
<ellipse cx="293.0" cy="342.5" rx="1.3" ry="1.0" fill="#a82a24" opacity="0.85"/>
<ellipse cx="286.2" cy="360.4" rx="1.8" ry="1.5" fill="#f4b8b0" opacity="0.85"/>
<ellipse cx="257.0" cy="335.3" rx="0.7" ry="1.1" fill="#c84a3a" opacity="0.85"/>
<ellipse cx="272.2" cy="347.4" rx="1.6" ry="0.6" fill="#f0a0a0" opacity="0.85"/>
<ellipse cx="322.9" cy="324.8" rx="0.8" ry="1.0" fill="#f0a0a0" opacity="0.85"/>
<ellipse cx="264.9" cy="347.2" rx="1.0" ry="1.1" fill="#a82a24" opacity="0.85"/>
<ellipse cx="302.9" cy="354.5" rx="1.3" ry="1.4" fill="#f0a0a0" opacity="0.85"/>
<ellipse cx="327.7" cy="325.6" rx="1.7" ry="1.5" fill="#f8d0c8" opacity="0.85"/>
<ellipse cx="271.6" cy="325.3" rx="0.7" ry="0.8" fill="#a82a24" opacity="0.85"/>
<ellipse cx="328.4" cy="332.9" rx="1.2" ry="1.1" fill="#c84a3a" opacity="0.85"/>
<ellipse cx="282.2" cy="321.5" rx="1.5" ry="1.1" fill="#c84a3a" opacity="0.85"/>
<ellipse cx="296.5" cy="363.4" rx="1.2" ry="0.9" fill="#5a0c0c" opacity="0.85"/>
<ellipse cx="286.6" cy="380.8" rx="1.6" ry="1.4" fill="#f4b8b0" opacity="0.85"/>
<ellipse cx="316.0" cy="376.2" rx="1.0" ry="1.1" fill="#c84a3a" opacity="0.85"/>
<ellipse cx="330.1" cy="363.6" rx="1.9" ry="1.3" fill="#f4b8b0" opacity="0.85"/>
<ellipse cx="305.3" cy="326.2" rx="1.8" ry="0.6" fill="#c84a3a" opacity="0.85"/>
<ellipse cx="307.6" cy="340.8" rx="1.4" ry="0.9" fill="#fce0dc" opacity="0.85"/>
<ellipse cx="328.8" cy="320.9" rx="1.3" ry="1.1" fill="#fce0dc" opacity="0.85"/>
<circle cx="330.6" cy="320.9" r="2.0" fill="#6a1210"/>
<circle cx="311.4" cy="321.1" r="2.1" fill="#6a1210"/>
<circle cx="284.6" cy="321.3" r="1.9" fill="#6a1210"/>
<circle cx="306.3" cy="321.0" r="2.0" fill="#6a1210"/>
<circle cx="296.0" cy="320.8" r="1.9" fill="#6a1210"/>
<circle cx="274.8" cy="321.9" r="1.8" fill="#6a1210"/>
<circle cx="309.7" cy="321.3" r="1.8" fill="#6a1210"/>
<circle cx="271.4" cy="320.7" r="2.3" fill="#6a1210"/>
<circle cx="294.9" cy="321.3" r="1.8" fill="#6a1210"/>
<circle cx="316.7" cy="320.9" r="1.4" fill="#6a1210"/>
<circle cx="317.4" cy="321.2" r="2.0" fill="#6a1210"/>
<circle cx="317.8" cy="321.8" r="2.2" fill="#6a1210"/>
<circle cx="257.8" cy="321.1" r="2.2" fill="#6a1210"/>
<circle cx="317.1" cy="320.7" r="1.4" fill="#6a1210"/>
<circle cx="273.7" cy="320.7" r="1.6" fill="#6a1210"/>
<circle cx="315.9" cy="321.3" r="1.7" fill="#6a1210"/>
<circle cx="261.2" cy="321.1" r="2.4" fill="#6a1210"/>
<circle cx="307.7" cy="321.2" r="1.8" fill="#6a1210"/>
<circle cx="315.6" cy="321.6" r="1.4" fill="#6a1210"/>
<circle cx="306.5" cy="321.1" r="1.8" fill="#6a1210"/>
<circle cx="272.7" cy="321.1" r="1.6" fill="#6a1210"/>
<circle cx="283.7" cy="320.5" r="1.4" fill="#6a1210"/>
<rect x="250.8" y="320" width="4" height="63.3" fill="#e4553a"/>
<path d="M272.93,336.12 L272.40,336.59 L271.61,336.79 L270.67,336.71 L269.72,336.41 L269.75,337.41 L269.57,338.34 L269.17,339.05 L268.58,339.44 L267.87,339.45 L267.14,339.10 L266.47,338.44 L265.93,337.59 L265.31,338.38 L264.58,338.98 L263.82,339.26 L263.11,339.18 L262.56,338.74 L262.23,337.99 L262.14,337.06 L262.27,336.06 L261.29,336.27 L260.35,336.26 L259.58,335.99 L259.09,335.47 L258.95,334.77 L259.18,333.99 L259.71,333.22 L260.45,332.54 L259.56,332.07 L258.85,331.45 L258.44,330.75 L258.40,330.04 L258.74,329.42 L259.41,328.96 L260.32,328.71 L261.32,328.67 L260.94,327.74 L260.79,326.81 L260.93,326.01 L261.35,325.44 L262.01,325.18 L262.83,325.26 L263.68,325.66 L264.47,326.26 L264.78,325.31 L265.26,324.50 L265.88,323.97 L266.58,323.81 L267.25,324.04 L267.82,324.62 L268.22,325.47 L268.44,326.45 L269.29,325.92 L270.17,325.61 L270.99,325.60 L271.62,325.92 L271.99,326.53 L272.05,327.34 L271.81,328.25 L271.35,329.14 L272.34,329.28 L273.22,329.61 L273.85,330.13 L274.13,330.78 L274.03,331.48 L273.55,332.15 L272.78,332.69 L271.86,333.07 L272.53,333.82 L272.99,334.64 L273.14,335.44 L272.93,336.12Z" fill="#3a2a26" />
<circle cx="266.2" cy="331.8" r="5.70" fill="url(#gTisCell)"/>
<circle cx="266.6" cy="332.7" r="0.7" fill="#e8f4ff" opacity="0.7"/>
<circle cx="265.7" cy="335.3" r="0.7" fill="#e8f4ff" opacity="0.7"/>
<circle cx="266.3" cy="334.2" r="0.7" fill="#e8f4ff" opacity="0.7"/>
<circle cx="269.4" cy="333.9" r="0.7" fill="#e8f4ff" opacity="0.7"/>
<circle cx="268.3" cy="329.2" r="0.7" fill="#e8f4ff" opacity="0.7"/>
<circle cx="264.5" cy="332.7" r="0.7" fill="#e8f4ff" opacity="0.7"/>
<path d="M301.82,335.70 L301.19,336.03 L300.38,336.05 L299.48,335.77 L298.61,335.27 L298.43,336.26 L298.05,337.12 L297.51,337.72 L296.84,337.97 L296.15,337.83 L295.51,337.32 L295.00,336.53 L294.66,335.59 L293.89,336.23 L293.05,336.64 L292.24,336.76 L291.57,336.52 L291.12,335.97 L290.96,335.17 L291.08,334.23 L291.43,333.29 L290.43,333.28 L289.51,333.06 L288.82,332.63 L288.46,332.02 L288.48,331.31 L288.87,330.59 L289.56,329.95 L290.43,329.45 L289.67,328.80 L289.11,328.05 L288.86,327.27 L288.97,326.57 L289.44,326.04 L290.20,325.74 L291.14,325.70 L292.13,325.87 L291.97,324.88 L292.02,323.95 L292.33,323.19 L292.87,322.73 L293.57,322.62 L294.35,322.88 L295.09,323.45 L295.73,324.22 L296.25,323.36 L296.89,322.68 L297.61,322.30 L298.32,322.29 L298.93,322.66 L299.35,323.36 L299.56,324.27 L299.56,325.27 L300.50,324.94 L301.44,324.83 L302.23,325.01 L302.78,325.46 L303.01,326.13 L302.89,326.94 L302.46,327.77 L301.81,328.54 L302.75,328.89 L303.53,329.41 L304.03,330.05 L304.16,330.75 L303.90,331.41 L303.29,331.95 L302.43,332.31 L301.44,332.49 L301.93,333.36 L302.20,334.26 L302.17,335.08 L301.82,335.70Z" fill="#3a2a26" />
<circle cx="296.2" cy="330" r="5.70" fill="url(#gTisCell)"/>
<circle cx="293.9" cy="332.4" r="0.7" fill="#e8f4ff" opacity="0.7"/>
<circle cx="295.4" cy="330.3" r="0.7" fill="#e8f4ff" opacity="0.7"/>
<circle cx="295.6" cy="327.5" r="0.7" fill="#e8f4ff" opacity="0.7"/>
<circle cx="294.3" cy="331.2" r="0.7" fill="#e8f4ff" opacity="0.7"/>
<circle cx="297.5" cy="326.9" r="0.7" fill="#e8f4ff" opacity="0.7"/>
<circle cx="294.3" cy="331.6" r="0.7" fill="#e8f4ff" opacity="0.7"/>
<path d="M321.50,332.68 L320.96,333.14 L320.17,333.33 L319.23,333.25 L318.28,332.94 L318.30,333.94 L318.12,334.86 L317.71,335.57 L317.12,335.96 L316.41,335.97 L315.68,335.60 L315.01,334.94 L314.48,334.09 L313.86,334.87 L313.13,335.46 L312.36,335.74 L311.65,335.66 L311.10,335.21 L310.78,334.46 L310.70,333.52 L310.83,332.53 L309.85,332.73 L308.91,332.71 L308.15,332.43 L307.66,331.91 L307.53,331.21 L307.76,330.43 L308.30,329.66 L309.04,328.99 L308.16,328.51 L307.46,327.89 L307.05,327.19 L307.01,326.48 L307.36,325.86 L308.04,325.41 L308.94,325.17 L309.94,325.13 L309.58,324.20 L309.43,323.27 L309.57,322.46 L310.00,321.90 L310.67,321.65 L311.48,321.74 L312.33,322.13 L313.12,322.75 L313.44,321.80 L313.92,321.00 L314.55,320.47 L315.24,320.31 L315.91,320.55 L316.47,321.14 L316.87,321.99 L317.08,322.97 L317.93,322.44 L318.82,322.14 L319.64,322.14 L320.27,322.46 L320.64,323.07 L320.69,323.89 L320.44,324.80 L319.98,325.68 L320.97,325.83 L321.84,326.17 L322.47,326.69 L322.74,327.35 L322.63,328.05 L322.14,328.71 L321.37,329.24 L320.45,329.62 L321.11,330.37 L321.56,331.19 L321.71,332.00 L321.50,332.68Z" fill="#3a2a26" />
<circle cx="314.8" cy="328.3" r="5.70" fill="url(#gTisCell)"/>
<circle cx="316.2" cy="332.1" r="0.7" fill="#e8f4ff" opacity="0.7"/>
<circle cx="313.8" cy="324.3" r="0.7" fill="#e8f4ff" opacity="0.7"/>
<circle cx="313.5" cy="326.1" r="0.7" fill="#e8f4ff" opacity="0.7"/>
<circle cx="317.0" cy="329.3" r="0.7" fill="#e8f4ff" opacity="0.7"/>
<circle cx="312.1" cy="330.8" r="0.7" fill="#e8f4ff" opacity="0.7"/>
<circle cx="311.8" cy="328.4" r="0.7" fill="#e8f4ff" opacity="0.7"/>
<path d="M286.16,347.77 L285.51,348.04 L284.69,347.97 L283.83,347.60 L283.03,347.00 L282.73,347.96 L282.27,348.78 L281.66,349.32 L280.97,349.50 L280.29,349.28 L279.72,348.70 L279.30,347.86 L279.06,346.89 L278.22,347.44 L277.34,347.76 L276.53,347.78 L275.88,347.48 L275.51,346.88 L275.43,346.06 L275.65,345.15 L276.10,344.25 L275.10,344.13 L274.22,343.82 L273.58,343.31 L273.28,342.66 L273.38,341.96 L273.85,341.29 L274.60,340.73 L275.52,340.33 L274.84,339.60 L274.36,338.79 L274.20,337.99 L274.39,337.30 L274.92,336.83 L275.70,336.61 L276.64,336.67 L277.60,336.95 L277.55,335.95 L277.71,335.03 L278.09,334.31 L278.68,333.91 L279.39,333.88 L280.13,334.22 L280.81,334.87 L281.37,335.70 L281.97,334.90 L282.68,334.30 L283.44,334.00 L284.15,334.06 L284.71,334.50 L285.06,335.24 L285.16,336.17 L285.05,337.17 L286.03,336.94 L286.97,336.94 L287.74,337.19 L288.24,337.70 L288.39,338.39 L288.18,339.18 L287.66,339.97 L286.94,340.66 L287.83,341.11 L288.55,341.71 L288.98,342.41 L289.04,343.11 L288.70,343.74 L288.04,344.21 L287.14,344.48 L286.14,344.54 L286.53,345.46 L286.70,346.39 L286.58,347.19 L286.16,347.77Z" fill="#3a2a26" />
<circle cx="281.2" cy="341.5" r="5.70" fill="url(#gTisCell)"/>
<circle cx="284.8" cy="342.1" r="0.7" fill="#e8f4ff" opacity="0.7"/>
<circle cx="278.1" cy="342.3" r="0.7" fill="#e8f4ff" opacity="0.7"/>
<circle cx="282.7" cy="339.1" r="0.7" fill="#e8f4ff" opacity="0.7"/>
<circle cx="278.5" cy="341.9" r="0.7" fill="#e8f4ff" opacity="0.7"/>
<circle cx="277.5" cy="343.0" r="0.7" fill="#e8f4ff" opacity="0.7"/>
<circle cx="278.3" cy="341.3" r="0.7" fill="#e8f4ff" opacity="0.7"/>
<path d="M308.73,346.47 L308.10,346.79 L307.28,346.79 L306.39,346.48 L305.54,345.95 L305.32,346.93 L304.92,347.77 L304.36,348.36 L303.68,348.59 L302.99,348.43 L302.37,347.90 L301.89,347.09 L301.58,346.14 L300.79,346.75 L299.93,347.14 L299.12,347.22 L298.46,346.97 L298.03,346.40 L297.90,345.59 L298.05,344.67 L298.42,343.74 L297.42,343.69 L296.52,343.44 L295.84,342.99 L295.50,342.37 L295.54,341.66 L295.95,340.95 L296.66,340.34 L297.55,339.87 L296.81,339.19 L296.28,338.42 L296.05,337.63 L296.19,336.94 L296.68,336.42 L297.44,336.15 L298.38,336.13 L299.36,336.34 L299.23,335.35 L299.32,334.41 L299.65,333.67 L300.21,333.22 L300.91,333.14 L301.68,333.43 L302.40,334.02 L303.02,334.81 L303.56,333.96 L304.23,333.30 L304.96,332.95 L305.67,332.96 L306.27,333.35 L306.67,334.06 L306.84,334.98 L306.81,335.98 L307.77,335.68 L308.70,335.61 L309.49,335.80 L310.03,336.27 L310.23,336.95 L310.08,337.76 L309.63,338.58 L308.96,339.32 L309.88,339.70 L310.65,340.25 L311.13,340.91 L311.24,341.61 L310.95,342.26 L310.32,342.78 L309.45,343.11 L308.46,343.26 L308.92,344.14 L309.16,345.05 L309.10,345.87 L308.73,346.47Z" fill="#3a2a26" />
<circle cx="303.3" cy="340.6" r="5.70" fill="url(#gTisCell)"/>
<circle cx="303.1" cy="337.2" r="0.7" fill="#e8f4ff" opacity="0.7"/>
<circle cx="305.9" cy="341.3" r="0.7" fill="#e8f4ff" opacity="0.7"/>
<circle cx="300.0" cy="339.5" r="0.7" fill="#e8f4ff" opacity="0.7"/>
<circle cx="303.8" cy="336.9" r="0.7" fill="#e8f4ff" opacity="0.7"/>
<circle cx="303.6" cy="342.0" r="0.7" fill="#e8f4ff" opacity="0.7"/>
<circle cx="303.8" cy="339.5" r="0.7" fill="#e8f4ff" opacity="0.7"/>
<path d="M328.96,349.41 L328.69,350.07 L328.08,350.61 L327.21,350.96 L326.22,351.13 L326.70,352.00 L326.96,352.91 L326.93,353.72 L326.57,354.34 L325.95,354.67 L325.13,354.69 L324.24,354.40 L323.38,353.89 L323.18,354.87 L322.80,355.73 L322.25,356.33 L321.58,356.58 L320.89,356.43 L320.25,355.92 L319.75,355.12 L319.42,354.18 L318.64,354.81 L317.80,355.22 L316.99,355.33 L316.32,355.09 L315.88,354.53 L315.72,353.73 L315.85,352.80 L316.20,351.86 L315.20,351.84 L314.29,351.61 L313.60,351.17 L313.24,350.56 L313.27,349.85 L313.66,349.14 L314.36,348.50 L315.23,348.01 L314.48,347.35 L313.92,346.59 L313.68,345.82 L313.80,345.11 L314.27,344.59 L315.04,344.29 L315.97,344.26 L316.96,344.44 L316.80,343.45 L316.87,342.51 L317.18,341.76 L317.72,341.30 L318.43,341.20 L319.20,341.47 L319.94,342.04 L320.58,342.82 L321.10,341.96 L321.75,341.28 L322.47,340.91 L323.18,340.90 L323.78,341.28 L324.20,341.98 L324.40,342.90 L324.39,343.90 L325.34,343.57 L326.28,343.47 L327.07,343.65 L327.62,344.11 L327.84,344.78 L327.71,345.59 L327.27,346.42 L326.62,347.18 L327.56,347.54 L328.34,348.06 L328.83,348.71 L328.96,349.41Z" fill="#3a2a26" />
<circle cx="321" cy="348.6" r="5.70" fill="url(#gTisCell)"/>
<circle cx="321.0" cy="347.4" r="0.7" fill="#e8f4ff" opacity="0.7"/>
<circle cx="324.0" cy="349.7" r="0.7" fill="#e8f4ff" opacity="0.7"/>
<circle cx="320.2" cy="345.2" r="0.7" fill="#e8f4ff" opacity="0.7"/>
<circle cx="323.7" cy="349.6" r="0.7" fill="#e8f4ff" opacity="0.7"/>
<circle cx="318.0" cy="350.3" r="0.7" fill="#e8f4ff" opacity="0.7"/>
<circle cx="324.2" cy="348.6" r="0.7" fill="#e8f4ff" opacity="0.7"/>
<path d="M269.08,359.73 L268.44,360.06 L267.63,360.06 L266.74,359.75 L265.88,359.23 L265.67,360.21 L265.28,361.06 L264.72,361.65 L264.05,361.89 L263.35,361.73 L262.73,361.20 L262.24,360.40 L261.92,359.45 L261.13,360.07 L260.28,360.47 L259.47,360.56 L258.81,360.31 L258.38,359.74 L258.24,358.94 L258.38,358.01 L258.75,357.08 L257.75,357.04 L256.84,356.80 L256.16,356.35 L255.81,355.73 L255.85,355.02 L256.26,354.31 L256.96,353.69 L257.84,353.21 L257.10,352.54 L256.56,351.77 L256.33,350.99 L256.46,350.29 L256.94,349.77 L257.71,349.49 L258.65,349.47 L259.63,349.67 L259.49,348.68 L259.57,347.74 L259.90,347.00 L260.45,346.55 L261.15,346.46 L261.92,346.74 L262.65,347.33 L263.28,348.11 L263.81,347.26 L264.47,346.60 L265.20,346.23 L265.91,346.24 L266.51,346.63 L266.92,347.33 L267.10,348.26 L267.07,349.26 L268.03,348.95 L268.96,348.86 L269.76,349.06 L270.29,349.52 L270.50,350.20 L270.36,351.00 L269.91,351.83 L269.25,352.58 L270.17,352.95 L270.94,353.49 L271.43,354.15 L271.54,354.85 L271.27,355.50 L270.64,356.03 L269.77,356.37 L268.78,356.52 L269.24,357.40 L269.49,358.31 L269.44,359.12 L269.08,359.73Z" fill="#3a2a26" />
<circle cx="263.6" cy="353.9" r="5.70" fill="url(#gTisCell)"/>
<circle cx="266.0" cy="357.0" r="0.7" fill="#e8f4ff" opacity="0.7"/>
<circle cx="261.2" cy="353.6" r="0.7" fill="#e8f4ff" opacity="0.7"/>
<circle cx="263.9" cy="353.9" r="0.7" fill="#e8f4ff" opacity="0.7"/>
<circle cx="263.4" cy="356.1" r="0.7" fill="#e8f4ff" opacity="0.7"/>
<circle cx="263.5" cy="356.2" r="0.7" fill="#e8f4ff" opacity="0.7"/>
<circle cx="259.9" cy="352.6" r="0.7" fill="#e8f4ff" opacity="0.7"/>
<path d="M288.18,363.11 L287.67,363.61 L286.89,363.86 L285.96,363.84 L284.98,363.60 L285.08,364.59 L284.96,365.52 L284.60,366.26 L284.03,366.68 L283.32,366.74 L282.57,366.43 L281.86,365.81 L281.27,365.00 L280.70,365.82 L280.01,366.46 L279.27,366.79 L278.56,366.75 L277.98,366.34 L277.60,365.62 L277.46,364.69 L277.53,363.69 L276.56,363.96 L275.63,364.00 L274.84,363.77 L274.32,363.29 L274.14,362.60 L274.32,361.80 L274.81,361.00 L275.50,360.28 L274.59,359.86 L273.84,359.29 L273.39,358.62 L273.30,357.91 L273.61,357.27 L274.26,356.77 L275.15,356.47 L276.14,356.36 L275.71,355.46 L275.51,354.54 L275.59,353.73 L275.98,353.14 L276.63,352.84 L277.44,352.88 L278.32,353.22 L279.15,353.78 L279.40,352.81 L279.83,351.97 L280.42,351.41 L281.10,351.20 L281.78,351.39 L282.39,351.94 L282.84,352.76 L283.11,353.73 L283.93,353.15 L284.80,352.78 L285.61,352.73 L286.26,353.01 L286.67,353.59 L286.77,354.40 L286.59,355.32 L286.19,356.24 L287.18,356.32 L288.08,356.60 L288.74,357.08 L289.06,357.71 L288.99,358.42 L288.56,359.11 L287.82,359.70 L286.92,360.14 L287.64,360.84 L288.14,361.63 L288.34,362.42 L288.18,363.11Z" fill="#3a2a26" />
<circle cx="281.2" cy="359.2" r="5.70" fill="url(#gTisCell)"/>
<circle cx="283.8" cy="360.1" r="0.7" fill="#e8f4ff" opacity="0.7"/>
<circle cx="282.8" cy="357.5" r="0.7" fill="#e8f4ff" opacity="0.7"/>
<circle cx="283.5" cy="356.3" r="0.7" fill="#e8f4ff" opacity="0.7"/>
<circle cx="281.8" cy="361.2" r="0.7" fill="#e8f4ff" opacity="0.7"/>
<circle cx="280.3" cy="359.0" r="0.7" fill="#e8f4ff" opacity="0.7"/>
<circle cx="278.7" cy="359.8" r="0.7" fill="#e8f4ff" opacity="0.7"/>
<path d="M308.56,362.06 L308.07,362.57 L307.29,362.83 L306.36,362.83 L305.38,362.61 L305.50,363.61 L305.40,364.54 L305.05,365.28 L304.49,365.72 L303.79,365.79 L303.03,365.50 L302.31,364.89 L301.70,364.10 L301.15,364.93 L300.47,365.58 L299.74,365.93 L299.03,365.91 L298.44,365.51 L298.04,364.79 L297.88,363.87 L297.93,362.87 L296.97,363.16 L296.03,363.22 L295.24,363.01 L294.71,362.54 L294.52,361.85 L294.68,361.05 L295.15,360.24 L295.83,359.50 L294.91,359.11 L294.15,358.55 L293.68,357.89 L293.58,357.18 L293.87,356.54 L294.51,356.02 L295.39,355.70 L296.38,355.58 L295.93,354.68 L295.71,353.77 L295.77,352.96 L296.15,352.35 L296.79,352.04 L297.60,352.06 L298.49,352.38 L299.33,352.92 L299.56,351.95 L299.97,351.10 L300.55,350.53 L301.22,350.30 L301.91,350.48 L302.53,351.02 L303.00,351.83 L303.29,352.78 L304.10,352.19 L304.96,351.81 L305.77,351.73 L306.43,352.00 L306.84,352.57 L306.97,353.38 L306.81,354.30 L306.42,355.23 L307.42,355.29 L308.32,355.55 L308.99,356.01 L309.33,356.64 L309.27,357.35 L308.85,358.05 L308.13,358.65 L307.24,359.11 L307.97,359.80 L308.49,360.58 L308.71,361.36 L308.56,362.06Z" fill="#3a2a26" />
<circle cx="301.5" cy="358.3" r="5.70" fill="url(#gTisCell)"/>
<circle cx="299.4" cy="360.7" r="0.7" fill="#e8f4ff" opacity="0.7"/>
<circle cx="302.7" cy="361.9" r="0.7" fill="#e8f4ff" opacity="0.7"/>
<circle cx="297.7" cy="356.9" r="0.7" fill="#e8f4ff" opacity="0.7"/>
<circle cx="301.1" cy="359.2" r="0.7" fill="#e8f4ff" opacity="0.7"/>
<circle cx="298.9" cy="360.0" r="0.7" fill="#e8f4ff" opacity="0.7"/>
<circle cx="300.1" cy="361.1" r="0.7" fill="#e8f4ff" opacity="0.7"/>
<path d="M327.80,364.86 L327.43,365.47 L326.73,365.89 L325.81,366.09 L324.81,366.08 L325.14,367.03 L325.24,367.96 L325.06,368.76 L324.61,369.31 L323.94,369.53 L323.13,369.40 L322.30,368.97 L321.54,368.32 L321.18,369.25 L320.65,370.03 L320.01,370.53 L319.31,370.66 L318.65,370.40 L318.11,369.78 L317.76,368.91 L317.59,367.93 L316.71,368.41 L315.81,368.68 L315.00,368.64 L314.38,368.29 L314.04,367.66 L314.03,366.85 L314.31,365.95 L314.81,365.09 L313.83,364.90 L312.97,364.52 L312.37,363.97 L312.12,363.30 L312.27,362.61 L312.78,361.97 L313.57,361.47 L314.52,361.13 L313.89,360.36 L313.47,359.51 L313.36,358.70 L313.60,358.03 L314.16,357.60 L314.96,357.44 L315.89,357.56 L316.83,357.91 L316.85,356.91 L317.07,356.00 L317.51,355.31 L318.12,354.95 L318.83,354.97 L319.55,355.37 L320.18,356.06 L320.67,356.93 L321.33,356.17 L322.09,355.62 L322.87,355.37 L323.57,355.49 L324.10,355.96 L324.39,356.72 L324.43,357.66 L324.25,358.65 L325.24,358.49 L326.17,358.55 L326.93,358.86 L327.39,359.40 L327.49,360.11 L327.23,360.88 L326.65,361.62 L325.88,362.26 L326.74,362.78 L327.42,363.43 L327.80,364.15 L327.80,364.86Z" fill="#3a2a26" />
<circle cx="320.1" cy="362.7" r="5.70" fill="url(#gTisCell)"/>
<circle cx="319.1" cy="366.3" r="0.7" fill="#e8f4ff" opacity="0.7"/>
<circle cx="321.2" cy="359.4" r="0.7" fill="#e8f4ff" opacity="0.7"/>
<circle cx="317.0" cy="363.6" r="0.7" fill="#e8f4ff" opacity="0.7"/>
<circle cx="316.3" cy="364.1" r="0.7" fill="#e8f4ff" opacity="0.7"/>
<circle cx="323.8" cy="364.1" r="0.7" fill="#e8f4ff" opacity="0.7"/>
<circle cx="318.3" cy="360.6" r="0.7" fill="#e8f4ff" opacity="0.7"/>
<path d="M272.39,367.49 L272.16,368.16 L271.57,368.73 L270.72,369.13 L269.75,369.35 L270.28,370.20 L270.58,371.09 L270.59,371.90 L270.27,372.54 L269.66,372.90 L268.85,372.96 L267.94,372.72 L267.05,372.26 L266.91,373.25 L266.57,374.13 L266.05,374.76 L265.40,375.04 L264.70,374.93 L264.04,374.45 L263.50,373.68 L263.11,372.76 L262.37,373.42 L261.55,373.88 L260.75,374.03 L260.07,373.82 L259.60,373.29 L259.40,372.50 L259.48,371.56 L259.78,370.61 L258.78,370.64 L257.86,370.46 L257.15,370.06 L256.76,369.46 L256.74,368.75 L257.10,368.02 L257.76,367.35 L258.61,366.82 L257.82,366.20 L257.23,365.47 L256.94,364.70 L257.03,364.00 L257.47,363.45 L258.22,363.11 L259.15,363.03 L260.14,363.16 L259.94,362.18 L259.95,361.24 L260.23,360.47 L260.74,359.98 L261.44,359.85 L262.23,360.07 L263.00,360.61 L263.67,361.35 L264.15,360.46 L264.76,359.75 L265.46,359.34 L266.17,359.30 L266.80,359.64 L267.25,360.32 L267.50,361.22 L267.54,362.23 L268.47,361.85 L269.40,361.70 L270.20,361.84 L270.77,362.26 L271.03,362.93 L270.94,363.74 L270.55,364.59 L269.94,365.39 L270.89,365.70 L271.70,366.18 L272.23,366.80 L272.39,367.49Z" fill="#3a2a26" />
<circle cx="264.4" cy="367.1" r="5.70" fill="url(#gTisCell)"/>
<circle cx="267.9" cy="368.8" r="0.7" fill="#e8f4ff" opacity="0.7"/>
<circle cx="265.8" cy="370.0" r="0.7" fill="#e8f4ff" opacity="0.7"/>
<circle cx="260.7" cy="365.6" r="0.7" fill="#e8f4ff" opacity="0.7"/>
<circle cx="260.6" cy="367.1" r="0.7" fill="#e8f4ff" opacity="0.7"/>
<circle cx="262.8" cy="364.0" r="0.7" fill="#e8f4ff" opacity="0.7"/>
<circle cx="265.0" cy="369.3" r="0.7" fill="#e8f4ff" opacity="0.7"/>
<path d="M288.35,382.75 L287.71,383.06 L286.89,383.04 L286.01,382.72 L285.17,382.18 L284.94,383.15 L284.53,384.00 L283.95,384.57 L283.27,384.80 L282.59,384.62 L281.97,384.08 L281.50,383.27 L281.20,382.32 L280.40,382.91 L279.54,383.29 L278.73,383.37 L278.07,383.10 L277.66,382.53 L277.53,381.72 L277.69,380.79 L278.08,379.87 L277.08,379.81 L276.18,379.55 L275.51,379.09 L275.17,378.46 L275.23,377.75 L275.65,377.05 L276.37,376.45 L277.26,375.99 L276.53,375.30 L276.01,374.52 L275.79,373.74 L275.94,373.04 L276.43,372.53 L277.21,372.27 L278.14,372.27 L279.12,372.49 L279.01,371.49 L279.11,370.56 L279.45,369.82 L280.01,369.38 L280.71,369.31 L281.47,369.60 L282.19,370.21 L282.80,371.00 L283.35,370.17 L284.03,369.52 L284.77,369.17 L285.48,369.19 L286.06,369.59 L286.46,370.31 L286.62,371.23 L286.57,372.23 L287.53,371.94 L288.47,371.88 L289.26,372.09 L289.79,372.56 L289.98,373.25 L289.82,374.05 L289.35,374.86 L288.67,375.60 L289.59,375.99 L290.35,376.55 L290.82,377.21 L290.92,377.92 L290.63,378.57 L289.99,379.08 L289.11,379.40 L288.12,379.53 L288.57,380.42 L288.79,381.33 L288.73,382.14 L288.35,382.75Z" fill="#3a2a26" />
<circle cx="283" cy="376.8" r="5.70" fill="url(#gTisCell)"/>
<circle cx="284.4" cy="376.0" r="0.7" fill="#e8f4ff" opacity="0.7"/>
<circle cx="284.5" cy="377.9" r="0.7" fill="#e8f4ff" opacity="0.7"/>
<circle cx="283.3" cy="375.5" r="0.7" fill="#e8f4ff" opacity="0.7"/>
<circle cx="279.5" cy="378.9" r="0.7" fill="#e8f4ff" opacity="0.7"/>
<circle cx="282.8" cy="380.2" r="0.7" fill="#e8f4ff" opacity="0.7"/>
<circle cx="281.4" cy="373.1" r="0.7" fill="#e8f4ff" opacity="0.7"/>
<path d="M309.40,374.53 L309.10,375.18 L308.46,375.68 L307.57,375.99 L306.58,376.10 L307.01,377.00 L307.23,377.92 L307.15,378.73 L306.76,379.33 L306.12,379.63 L305.30,379.60 L304.43,379.26 L303.59,378.71 L303.35,379.68 L302.92,380.52 L302.34,381.09 L301.66,381.30 L300.97,381.11 L300.37,380.57 L299.91,379.75 L299.62,378.79 L298.81,379.37 L297.95,379.74 L297.13,379.80 L296.48,379.53 L296.07,378.95 L295.96,378.14 L296.14,377.22 L296.54,376.30 L295.54,376.23 L294.64,375.95 L293.98,375.48 L293.65,374.84 L293.71,374.14 L294.15,373.44 L294.87,372.85 L295.77,372.41 L295.05,371.71 L294.54,370.92 L294.34,370.13 L294.49,369.44 L295.00,368.93 L295.77,368.68 L296.71,368.70 L297.69,368.93 L297.58,367.94 L297.70,367.00 L298.05,366.27 L298.62,365.84 L299.32,365.78 L300.08,366.08 L300.79,366.70 L301.39,367.50 L301.95,366.67 L302.63,366.03 L303.38,365.70 L304.09,365.73 L304.67,366.14 L305.05,366.86 L305.20,367.79 L305.14,368.78 L306.10,368.51 L307.04,368.46 L307.83,368.68 L308.35,369.16 L308.53,369.85 L308.36,370.65 L307.88,371.45 L307.19,372.18 L308.10,372.59 L308.85,373.16 L309.31,373.83 L309.40,374.53Z" fill="#3a2a26" />
<circle cx="301.5" cy="373.3" r="5.70" fill="url(#gTisCell)"/>
<circle cx="301.2" cy="372.4" r="0.7" fill="#e8f4ff" opacity="0.7"/>
<circle cx="301.9" cy="372.6" r="0.7" fill="#e8f4ff" opacity="0.7"/>
<circle cx="301.7" cy="375.6" r="0.7" fill="#e8f4ff" opacity="0.7"/>
<circle cx="300.2" cy="376.2" r="0.7" fill="#e8f4ff" opacity="0.7"/>
<circle cx="303.3" cy="375.9" r="0.7" fill="#e8f4ff" opacity="0.7"/>
<circle cx="299.7" cy="376.9" r="0.7" fill="#e8f4ff" opacity="0.7"/>
<path d="M254,349.5 L282,349.5" fill="none" stroke="#e2603a" stroke-width="3.0" stroke-linejoin="round" stroke-linecap="round" opacity="0.8"/>
<path d="M282,349.5 L292.7,339.7 L293,328" fill="none" stroke="#e8804a" stroke-width="2.2" stroke-linejoin="round" stroke-linecap="round" opacity="0.8"/>
<path d="M288,344 L305,337 L320,334 L331,330" fill="none" stroke="#e8804a" stroke-width="2.2" stroke-linejoin="round" stroke-linecap="round" opacity="0.8"/>
<path d="M282,349.5 L298,368 L314,372 L331,374" fill="none" stroke="#e8804a" stroke-width="2.2" stroke-linejoin="round" stroke-linecap="round" opacity="0.8"/>
<path d="M305,337 L318,348 L330,352" fill="none" stroke="#e8804a" stroke-width="1.6" stroke-linejoin="round" stroke-linecap="round" opacity="0.8"/>
<path d="M298,368 L296,382" fill="none" stroke="#e8804a" stroke-width="1.5" stroke-linejoin="round" stroke-linecap="round" opacity="0.8"/>
<path d="M314,372 L320,382" fill="none" stroke="#e8804a" stroke-width="1.4" stroke-linejoin="round" stroke-linecap="round" opacity="0.8"/>
<path d="M266,349.5 L261,341" fill="none" stroke="#e2603a" stroke-width="1.4" stroke-linejoin="round" stroke-linecap="round" opacity="0.8"/>
<path d="M272,349.5 L276,358" fill="none" stroke="#e2603a" stroke-width="1.4" stroke-linejoin="round" stroke-linecap="round" opacity="0.8"/>
<rect x="257" y="389.5" width="64" height="11" fill="#fde2ea" opacity="0.9"/>
<text x="288.7" y="399.6" font-size="8.4" fill="#b8503c" font-weight="bold" text-anchor="middle" textLength="60.5" lengthAdjust="spacingAndGlyphs"  stroke="#b8503c" stroke-width="0.2">Tissue formation</text>
<rect x="246" y="400.5" width="86" height="9.5" fill="#fdeaee" opacity="0.8"/>
<text x="288.7" y="407.9" font-size="8" fill="#94522e" font-weight="bold" text-anchor="middle" textLength="84.5" lengthAdjust="spacingAndGlyphs"  stroke="#94522e" stroke-width="0.2">without necrotic center</text>
<rect x="56.5" y="400" width="16" height="14" fill="#fdeef4"/>
<path d="M60.8,405.2 Q62.2,411 64.6,408.2 Q66.6,404.4 68.2,406.4 Q69.4,408.6 70.6,408" fill="none" stroke="#5a24b8" stroke-width="2.3" stroke-linecap="round"/>
<text x="80" y="409.6" font-size="7" font-weight="bold" fill="#27256e" textLength="34.5" lengthAdjust="spacingAndGlyphs" stroke="#27256e" stroke-width="0.2">O<tspan font-size="4.5" dy="1.2">2</tspan><tspan dy="-1.2"> diffusion</tspan></text>
<rect x="126.5" y="399.5" width="19.5" height="16.5" rx="5" fill="#9aa08a" opacity="0.6" filter="url(#blur1)"/>
<rect x="127.5" y="400" width="8.5" height="15.5" fill="#f4a4a4"/>
<rect x="136" y="400" width="9" height="15.5" fill="#f07a7a"/>
<path d="M129.5,407.5 L137.5,407.5" stroke="#7a3a2a" stroke-width="1.4"/>
<path d="M137,402 L141,406 M137,413 L142,409" stroke="#e06060" stroke-width="1"/>
<text x="153.2" y="409.6" font-size="7" fill="#27256e" font-weight="bold" text-anchor="start" textLength="65.5" lengthAdjust="spacingAndGlyphs"  stroke="#27256e" stroke-width="0.22">Blood vessel ingrowth</text>
<rect x="375.1" y="7.6" width="168.9" height="153.3" rx="1" fill="none" stroke="#303030" stroke-width="1.8"/>
<path d="M401.1,14.8 V134.9 H541.9" fill="none" stroke="#333" stroke-width="1"/>
<line x1="399.2" y1="124.40" x2="401.1" y2="124.40" stroke="#333" stroke-width="0.8"/>
<text x="397.0" y="127.0" font-size="7.3" fill="#1a1a1a" font-weight="bold" text-anchor="end"  stroke="#1a1a1a" stroke-width="0.2">0</text>
<line x1="399.2" y1="102.58" x2="401.1" y2="102.58" stroke="#333" stroke-width="0.8"/>
<text x="397.0" y="105.18" font-size="7.3" fill="#1a1a1a" font-weight="bold" text-anchor="end"  stroke="#1a1a1a" stroke-width="0.2">2</text>
<line x1="399.2" y1="80.76" x2="401.1" y2="80.76" stroke="#333" stroke-width="0.8"/>
<text x="397.0" y="83.36" font-size="7.3" fill="#1a1a1a" font-weight="bold" text-anchor="end"  stroke="#1a1a1a" stroke-width="0.2">4</text>
<line x1="399.2" y1="58.94" x2="401.1" y2="58.94" stroke="#333" stroke-width="0.8"/>
<text x="397.0" y="61.54" font-size="7.3" fill="#1a1a1a" font-weight="bold" text-anchor="end"  stroke="#1a1a1a" stroke-width="0.2">6</text>
<line x1="399.2" y1="37.12" x2="401.1" y2="37.12" stroke="#333" stroke-width="0.8"/>
<text x="397.0" y="39.720000000000006" font-size="7.3" fill="#1a1a1a" font-weight="bold" text-anchor="end"  stroke="#1a1a1a" stroke-width="0.2">8</text>
<line x1="399.2" y1="15.30" x2="401.1" y2="15.30" stroke="#333" stroke-width="0.8"/>
<text x="397.0" y="17.900000000000013" font-size="7.3" fill="#1a1a1a" font-weight="bold" text-anchor="end"  stroke="#1a1a1a" stroke-width="0.2">10</text>
<line x1="410.00" y1="134.9" x2="410.00" y2="137" stroke="#333" stroke-width="0.8"/>
<text x="410.0" y="146.4" font-size="7.3" fill="#1a1a1a" font-weight="bold" text-anchor="middle"  stroke="#1a1a1a" stroke-width="0.2">0</text>
<line x1="427.60" y1="134.9" x2="427.60" y2="137" stroke="#333" stroke-width="0.8"/>
<text x="427.6" y="146.4" font-size="7.3" fill="#1a1a1a" font-weight="bold" text-anchor="middle"  stroke="#1a1a1a" stroke-width="0.2">2</text>
<line x1="445.20" y1="134.9" x2="445.20" y2="137" stroke="#333" stroke-width="0.8"/>
<text x="445.2" y="146.4" font-size="7.3" fill="#1a1a1a" font-weight="bold" text-anchor="middle"  stroke="#1a1a1a" stroke-width="0.2">4</text>
<line x1="462.80" y1="134.9" x2="462.80" y2="137" stroke="#333" stroke-width="0.8"/>
<text x="462.8" y="146.4" font-size="7.3" fill="#1a1a1a" font-weight="bold" text-anchor="middle"  stroke="#1a1a1a" stroke-width="0.2">6</text>
<line x1="480.40" y1="134.9" x2="480.40" y2="137" stroke="#333" stroke-width="0.8"/>
<text x="480.4" y="146.4" font-size="7.3" fill="#1a1a1a" font-weight="bold" text-anchor="middle"  stroke="#1a1a1a" stroke-width="0.2">8</text>
<line x1="498.00" y1="134.9" x2="498.00" y2="137" stroke="#333" stroke-width="0.8"/>
<text x="498.0" y="146.4" font-size="7.3" fill="#1a1a1a" font-weight="bold" text-anchor="middle"  stroke="#1a1a1a" stroke-width="0.2">10</text>
<line x1="515.60" y1="134.9" x2="515.60" y2="137" stroke="#333" stroke-width="0.8"/>
<text x="515.6" y="146.4" font-size="7.3" fill="#1a1a1a" font-weight="bold" text-anchor="middle"  stroke="#1a1a1a" stroke-width="0.2">12</text>
<line x1="533.20" y1="134.9" x2="533.20" y2="137" stroke="#333" stroke-width="0.8"/>
<text x="533.2" y="146.4" font-size="7.3" fill="#1a1a1a" font-weight="bold" text-anchor="middle"  stroke="#1a1a1a" stroke-width="0.2">14</text>
<text x="469.0" y="157.7" font-size="7.6" fill="#1a1a1a" font-weight="bold" text-anchor="middle" textLength="96" lengthAdjust="spacingAndGlyphs"  stroke="#1a1a1a" stroke-width="0.2">Hypoxia exposure time (day)</text>
<g transform="translate(383.4,75.7) rotate(-90)"><text x="0" y="0" font-size="7.0" font-weight="bold" fill="#1a1a1a" text-anchor="middle" textLength="119.4" lengthAdjust="spacingAndGlyphs" stroke="#1a1a1a" stroke-width="0.2">Cell number (X10,000 MC3T3-E1)</text></g>
<path d="M410.00,75.31 L418.80,70.94 L436.40,49.12 L454.00,33.85 L471.60,52.39 L498.00,82.94 L533.20,101.49" fill="none" stroke="#d89a90" stroke-width="1.0"/>
<path d="M410.00,72.58 V78.03 M408.50,72.58 h3.0 M408.50,78.03 h3.0" stroke="#333" stroke-width="0.7" fill="none"/>
<path d="M418.80,69.30 V72.58 M417.30,69.30 h3.0 M417.30,72.58 h3.0" stroke="#333" stroke-width="0.7" fill="none"/>
<path d="M436.40,46.94 V51.30 M434.90,46.94 h3.0 M434.90,51.30 h3.0" stroke="#333" stroke-width="0.7" fill="none"/>
<path d="M454.00,31.67 V36.03 M452.50,31.67 h3.0 M452.50,36.03 h3.0" stroke="#333" stroke-width="0.7" fill="none"/>
<path d="M471.60,50.21 V54.58 M470.10,50.21 h3.0 M470.10,54.58 h3.0" stroke="#333" stroke-width="0.7" fill="none"/>
<path d="M498.00,81.31 V84.58 M496.50,81.31 h3.0 M496.50,84.58 h3.0" stroke="#333" stroke-width="0.7" fill="none"/>
<path d="M533.20,100.18 V102.80 M531.70,100.18 h3.0 M531.70,102.80 h3.0" stroke="#333" stroke-width="0.7" fill="none"/>
<circle cx="410.00" cy="75.31" r="1.40" fill="#fff" stroke="#3a3a3a" stroke-width="0.7"/>
<circle cx="418.80" cy="70.94" r="1.40" fill="#fff" stroke="#3a3a3a" stroke-width="0.7"/>
<circle cx="436.40" cy="49.12" r="1.40" fill="#fff" stroke="#3a3a3a" stroke-width="0.7"/>
<circle cx="454.00" cy="33.85" r="1.40" fill="#fff" stroke="#3a3a3a" stroke-width="0.7"/>
<circle cx="471.60" cy="52.39" r="1.40" fill="#fff" stroke="#3a3a3a" stroke-width="0.7"/>
<circle cx="498.00" cy="82.94" r="1.40" fill="#fff" stroke="#3a3a3a" stroke-width="0.7"/>
<circle cx="533.20" cy="101.49" r="1.40" fill="#fff" stroke="#3a3a3a" stroke-width="0.7"/>
<path d="M410.00,80.76 L418.80,88.40 L436.40,105.85 L454.00,115.67 L471.60,124.40 L498.00,124.40 L533.20,124.40" fill="none" stroke="#4c5aa8" stroke-width="1.1"/>
<path d="M410.00,76.94 V84.58 M408.50,76.94 h3.0 M408.50,84.58 h3.0" stroke="#333" stroke-width="0.7" fill="none"/>
<path d="M418.80,85.12 V91.67 M417.30,85.12 h3.0 M417.30,91.67 h3.0" stroke="#333" stroke-width="0.7" fill="none"/>
<path d="M436.40,102.58 V109.13 M434.90,102.58 h3.0 M434.90,109.13 h3.0" stroke="#333" stroke-width="0.7" fill="none"/>
<path d="M454.00,112.40 V118.95 M452.50,112.40 h3.0 M452.50,118.95 h3.0" stroke="#333" stroke-width="0.7" fill="none"/>
<path d="M471.60,122.76 V126.04 M470.10,122.76 h3.0 M470.10,126.04 h3.0" stroke="#333" stroke-width="0.7" fill="none"/>
<path d="M498.00,123.85 V124.95 M496.50,123.85 h3.0 M496.50,124.95 h3.0" stroke="#333" stroke-width="0.7" fill="none"/>
<path d="M533.20,123.85 V124.95 M531.70,123.85 h3.0 M531.70,124.95 h3.0" stroke="#333" stroke-width="0.7" fill="none"/>
<rect x="408.60" y="79.36" width="2.80" height="2.80" fill="#fff" stroke="#3a3a3a" stroke-width="0.7"/>
<rect x="417.40" y="87.00" width="2.80" height="2.80" fill="#fff" stroke="#3a3a3a" stroke-width="0.7"/>
<rect x="435.00" y="104.45" width="2.80" height="2.80" fill="#fff" stroke="#3a3a3a" stroke-width="0.7"/>
<rect x="452.60" y="114.27" width="2.80" height="2.80" fill="#fff" stroke="#3a3a3a" stroke-width="0.7"/>
<rect x="470.20" y="123.00" width="2.80" height="2.80" fill="#fff" stroke="#3a3a3a" stroke-width="0.7"/>
<rect x="496.60" y="123.00" width="2.80" height="2.80" fill="#fff" stroke="#3a3a3a" stroke-width="0.7"/>
<rect x="531.80" y="123.00" width="2.80" height="2.80" fill="#fff" stroke="#3a3a3a" stroke-width="0.7"/>
<text x="410.00" y="70.01" font-size="6.8" font-weight="bold" fill="#222" text-anchor="middle" stroke="#222" stroke-width="0.2">*</text>
<text x="418.80" y="65.64" font-size="6.8" font-weight="bold" fill="#222" text-anchor="middle" stroke="#222" stroke-width="0.2">*</text>
<text x="436.40" y="43.82" font-size="6.8" font-weight="bold" fill="#222" text-anchor="middle" stroke="#222" stroke-width="0.2">*</text>
<text x="454.00" y="26.37" font-size="6.8" font-weight="bold" fill="#222" text-anchor="middle" stroke="#222" stroke-width="0.2">*</text>
<text x="471.60" y="48.19" font-size="6.8" font-weight="bold" fill="#222" text-anchor="middle" stroke="#222" stroke-width="0.2">*</text>
<text x="498.00" y="77.65" font-size="6.8" font-weight="bold" fill="#222" text-anchor="middle" stroke="#222" stroke-width="0.2">*</text>
<text x="533.20" y="97.28" font-size="6.8" font-weight="bold" fill="#222" text-anchor="middle" stroke="#222" stroke-width="0.2">*</text>
<line x1="495.8" y1="26.5" x2="509.4" y2="26.5" stroke="#4c5aa8" stroke-width="1.1"/>
<rect x="501.00" y="24.90" width="3.20" height="3.20" fill="#fff" stroke="#3a3a3a" stroke-width="0.7"/>
<text x="512.5" y="28.8" font-size="5.9" fill="#222" font-weight="bold" text-anchor="start" textLength="21" lengthAdjust="spacingAndGlyphs"  stroke="#222" stroke-width="0.2">PBS-HP</text>
<line x1="495.8" y1="35.2" x2="509.4" y2="35.2" stroke="#d89a90" stroke-width="1.1"/>
<circle cx="502.60" cy="35.20" r="1.60" fill="#fff" stroke="#3a3a3a" stroke-width="0.7"/>
<text x="512.5" y="37.5" font-size="5.9" fill="#222" font-weight="bold" text-anchor="start" textLength="21" lengthAdjust="spacingAndGlyphs"  stroke="#222" stroke-width="0.2">PFO-HP</text>
<rect x="375.0" y="173.5" width="168.6" height="130.2" rx="1" fill="none" stroke="#303030" stroke-width="1.8"/>
<rect x="404" y="215.5" width="122" height="7" fill="#f2fbfa"/>
<rect x="466.4" y="182.4" width="74.5" height="7.2" fill="#fde8ea"/>
<text x="503.6" y="188.4" font-size="6" fill="#b0602e" font-weight="bold" text-anchor="middle" textLength="73.5" lengthAdjust="spacingAndGlyphs"  stroke="#b0602e" stroke-width="0.2">In general atmosphere (w/o cell)</text>
<rect x="466.4" y="215.2" width="70" height="7.4" fill="#d2f6e0"/>
<text x="501.2" y="221.2" font-size="6" font-weight="bold" fill="#1e8a3c" text-anchor="middle" textLength="68" lengthAdjust="spacingAndGlyphs" stroke="#1e8a3c" stroke-width="0.2">In 5% CO<tspan font-size="4" dy="1">2</tspan><tspan dy="-1"> incubator (w/o cell)</tspan></text>
<line x1="404" y1="190.6" x2="526" y2="190.6" stroke="#e2d46a" stroke-width="1.5"/>
<line x1="404" y1="223.2" x2="526" y2="223.2" stroke="#4c9e54" stroke-width="1.3"/>
<path d="M403.6,179.5 V279.1 H526" fill="none" stroke="#333" stroke-width="1"/>
<line x1="401.8" y1="279.10" x2="403.6" y2="279.10" stroke="#333" stroke-width="0.8"/>
<text x="401.0" y="281.6" font-size="6.8" fill="#1a1a1a" font-weight="bold" text-anchor="end"  stroke="#1a1a1a" stroke-width="0.2">0</text>
<line x1="401.8" y1="268.34" x2="403.6" y2="268.34" stroke="#333" stroke-width="0.8"/>
<text x="401.0" y="270.84000000000003" font-size="6.8" fill="#1a1a1a" font-weight="bold" text-anchor="end"  stroke="#1a1a1a" stroke-width="0.2">1</text>
<line x1="401.8" y1="257.58" x2="403.6" y2="257.58" stroke="#333" stroke-width="0.8"/>
<text x="401.0" y="260.08000000000004" font-size="6.8" fill="#1a1a1a" font-weight="bold" text-anchor="end"  stroke="#1a1a1a" stroke-width="0.2">2</text>
<line x1="401.8" y1="246.82" x2="403.6" y2="246.82" stroke="#333" stroke-width="0.8"/>
<text x="401.0" y="249.32000000000002" font-size="6.8" fill="#1a1a1a" font-weight="bold" text-anchor="end"  stroke="#1a1a1a" stroke-width="0.2">3</text>
<line x1="401.8" y1="236.06" x2="403.6" y2="236.06" stroke="#333" stroke-width="0.8"/>
<text x="401.0" y="238.56000000000003" font-size="6.8" fill="#1a1a1a" font-weight="bold" text-anchor="end"  stroke="#1a1a1a" stroke-width="0.2">4</text>
<line x1="401.8" y1="225.30" x2="403.6" y2="225.30" stroke="#333" stroke-width="0.8"/>
<text x="401.0" y="227.8" font-size="6.8" fill="#1a1a1a" font-weight="bold" text-anchor="end"  stroke="#1a1a1a" stroke-width="0.2">5</text>
<line x1="401.8" y1="214.54" x2="403.6" y2="214.54" stroke="#333" stroke-width="0.8"/>
<text x="401.0" y="217.04000000000002" font-size="6.8" fill="#1a1a1a" font-weight="bold" text-anchor="end"  stroke="#1a1a1a" stroke-width="0.2">6</text>
<line x1="401.8" y1="203.78" x2="403.6" y2="203.78" stroke="#333" stroke-width="0.8"/>
<text x="401.0" y="206.28000000000003" font-size="6.8" fill="#1a1a1a" font-weight="bold" text-anchor="end"  stroke="#1a1a1a" stroke-width="0.2">7</text>
<line x1="401.8" y1="193.02" x2="403.6" y2="193.02" stroke="#333" stroke-width="0.8"/>
<text x="401.0" y="195.52000000000004" font-size="6.8" fill="#1a1a1a" font-weight="bold" text-anchor="end"  stroke="#1a1a1a" stroke-width="0.2">8</text>
<line x1="401.8" y1="182.26" x2="403.6" y2="182.26" stroke="#333" stroke-width="0.8"/>
<text x="401.0" y="184.76000000000002" font-size="6.8" fill="#1a1a1a" font-weight="bold" text-anchor="end"  stroke="#1a1a1a" stroke-width="0.2">9</text>
<line x1="411.80" y1="279.1" x2="411.80" y2="281.2" stroke="#333" stroke-width="0.8"/>
<text x="411.8" y="289.0" font-size="6.8" fill="#1a1a1a" font-weight="bold" text-anchor="middle"  stroke="#1a1a1a" stroke-width="0.2">0</text>
<line x1="427.40" y1="279.1" x2="427.40" y2="281.2" stroke="#333" stroke-width="0.8"/>
<text x="427.40000000000003" y="289.0" font-size="6.8" fill="#1a1a1a" font-weight="bold" text-anchor="middle"  stroke="#1a1a1a" stroke-width="0.2">2</text>
<line x1="443.00" y1="279.1" x2="443.00" y2="281.2" stroke="#333" stroke-width="0.8"/>
<text x="443.0" y="289.0" font-size="6.8" fill="#1a1a1a" font-weight="bold" text-anchor="middle"  stroke="#1a1a1a" stroke-width="0.2">4</text>
<line x1="458.60" y1="279.1" x2="458.60" y2="281.2" stroke="#333" stroke-width="0.8"/>
<text x="458.6" y="289.0" font-size="6.8" fill="#1a1a1a" font-weight="bold" text-anchor="middle"  stroke="#1a1a1a" stroke-width="0.2">6</text>
<line x1="474.20" y1="279.1" x2="474.20" y2="281.2" stroke="#333" stroke-width="0.8"/>
<text x="474.2" y="289.0" font-size="6.8" fill="#1a1a1a" font-weight="bold" text-anchor="middle"  stroke="#1a1a1a" stroke-width="0.2">8</text>
<line x1="489.80" y1="279.1" x2="489.80" y2="281.2" stroke="#333" stroke-width="0.8"/>
<text x="489.8" y="289.0" font-size="6.8" fill="#1a1a1a" font-weight="bold" text-anchor="middle"  stroke="#1a1a1a" stroke-width="0.2">10</text>
<line x1="505.40" y1="279.1" x2="505.40" y2="281.2" stroke="#333" stroke-width="0.8"/>
<text x="505.4" y="289.0" font-size="6.8" fill="#1a1a1a" font-weight="bold" text-anchor="middle"  stroke="#1a1a1a" stroke-width="0.2">12</text>
<line x1="521.00" y1="279.1" x2="521.00" y2="281.2" stroke="#333" stroke-width="0.8"/>
<text x="521.0" y="289.0" font-size="6.8" fill="#1a1a1a" font-weight="bold" text-anchor="middle"  stroke="#1a1a1a" stroke-width="0.2">14</text>
<text x="463.3" y="299.4" font-size="6.6" fill="#1a1a1a" font-weight="bold" text-anchor="middle" textLength="85.4" lengthAdjust="spacingAndGlyphs"  stroke="#1a1a1a" stroke-width="0.2">Hypoxia exposure time (day)</text>
<g transform="translate(382.0,228.0) rotate(-90)"><text x="0" y="0" font-size="6.2" font-weight="bold" fill="#1a1a1a" text-anchor="middle" textLength="59.5" lengthAdjust="spacingAndGlyphs" stroke="#1a1a1a" stroke-width="0.2">Dissolved oxygen</text></g>
<g transform="translate(387.3,230.2) rotate(-90)"><text x="0" y="0" font-size="6.2" font-weight="bold" fill="#1a1a1a" text-anchor="middle" textLength="68" lengthAdjust="spacingAndGlyphs" stroke="#1a1a1a" stroke-width="0.2">concentration (mg/L)</text></g>
<path d="M411.80,190.87 L419.60,205.93 L435.20,226.38 L450.80,232.83 L466.40,238.21 L489.80,244.67 L521.00,246.82" fill="none" stroke="#d8a090" stroke-width="1.0"/>
<path d="M411.80,189.79 V191.94 M410.30,189.79 h3.0 M410.30,191.94 h3.0" stroke="#333" stroke-width="0.7" fill="none"/>
<path d="M419.60,203.78 V208.08 M418.10,203.78 h3.0 M418.10,208.08 h3.0" stroke="#333" stroke-width="0.7" fill="none"/>
<path d="M435.20,223.69 V229.07 M433.70,223.69 h3.0 M433.70,229.07 h3.0" stroke="#333" stroke-width="0.7" fill="none"/>
<path d="M450.80,229.07 V236.60 M449.30,229.07 h3.0 M449.30,236.60 h3.0" stroke="#333" stroke-width="0.7" fill="none"/>
<path d="M466.40,235.52 V240.90 M464.90,235.52 h3.0 M464.90,240.90 h3.0" stroke="#333" stroke-width="0.7" fill="none"/>
<path d="M489.80,242.52 V246.82 M488.30,242.52 h3.0 M488.30,246.82 h3.0" stroke="#333" stroke-width="0.7" fill="none"/>
<path d="M521.00,245.21 V248.43 M519.50,245.21 h3.0 M519.50,248.43 h3.0" stroke="#333" stroke-width="0.7" fill="none"/>
<circle cx="411.80" cy="190.87" r="1.30" fill="#fff" stroke="#3a3a3a" stroke-width="0.7"/>
<circle cx="419.60" cy="205.93" r="1.30" fill="#fff" stroke="#3a3a3a" stroke-width="0.7"/>
<circle cx="435.20" cy="226.38" r="1.30" fill="#fff" stroke="#3a3a3a" stroke-width="0.7"/>
<circle cx="450.80" cy="232.83" r="1.30" fill="#fff" stroke="#3a3a3a" stroke-width="0.7"/>
<circle cx="466.40" cy="238.21" r="1.30" fill="#fff" stroke="#3a3a3a" stroke-width="0.7"/>
<circle cx="489.80" cy="244.67" r="1.30" fill="#fff" stroke="#3a3a3a" stroke-width="0.7"/>
<circle cx="521.00" cy="246.82" r="1.30" fill="#fff" stroke="#3a3a3a" stroke-width="0.7"/>
<path d="M411.80,190.87 L419.60,241.44 L435.20,247.90 L450.80,254.35 L466.40,255.43 L489.80,257.58 L521.00,258.66" fill="none" stroke="#4a5ab4" stroke-width="1.1"/>
<path d="M411.80,189.79 V191.94 M410.30,189.79 h3.0 M410.30,191.94 h3.0" stroke="#333" stroke-width="0.7" fill="none"/>
<path d="M419.60,238.21 V244.67 M418.10,238.21 h3.0 M418.10,244.67 h3.0" stroke="#333" stroke-width="0.7" fill="none"/>
<path d="M435.20,245.74 V250.05 M433.70,245.74 h3.0 M433.70,250.05 h3.0" stroke="#333" stroke-width="0.7" fill="none"/>
<path d="M450.80,252.20 V256.50 M449.30,252.20 h3.0 M449.30,256.50 h3.0" stroke="#333" stroke-width="0.7" fill="none"/>
<path d="M466.40,253.81 V257.04 M464.90,253.81 h3.0 M464.90,257.04 h3.0" stroke="#333" stroke-width="0.7" fill="none"/>
<path d="M489.80,255.97 V259.19 M488.30,255.97 h3.0 M488.30,259.19 h3.0" stroke="#333" stroke-width="0.7" fill="none"/>
<path d="M521.00,257.58 V259.73 M519.50,257.58 h3.0 M519.50,259.73 h3.0" stroke="#333" stroke-width="0.7" fill="none"/>
<rect x="410.50" y="189.57" width="2.60" height="2.60" fill="#fff" stroke="#3a3a3a" stroke-width="0.7"/>
<rect x="418.30" y="240.14" width="2.60" height="2.60" fill="#fff" stroke="#3a3a3a" stroke-width="0.7"/>
<rect x="433.90" y="246.60" width="2.60" height="2.60" fill="#fff" stroke="#3a3a3a" stroke-width="0.7"/>
<rect x="449.50" y="253.05" width="2.60" height="2.60" fill="#fff" stroke="#3a3a3a" stroke-width="0.7"/>
<rect x="465.10" y="254.13" width="2.60" height="2.60" fill="#fff" stroke="#3a3a3a" stroke-width="0.7"/>
<rect x="488.50" y="256.28" width="2.60" height="2.60" fill="#fff" stroke="#3a3a3a" stroke-width="0.7"/>
<rect x="519.70" y="257.36" width="2.60" height="2.60" fill="#fff" stroke="#3a3a3a" stroke-width="0.7"/>
<text x="419.60" y="200.47" font-size="6.0" font-weight="bold" fill="#222" text-anchor="middle" stroke="#222" stroke-width="0.2">*</text>
<text x="435.20" y="219.84" font-size="6.0" font-weight="bold" fill="#222" text-anchor="middle" stroke="#222" stroke-width="0.2">*</text>
<text x="450.80" y="226.29" font-size="6.0" font-weight="bold" fill="#222" text-anchor="middle" stroke="#222" stroke-width="0.2">*</text>
<text x="466.40" y="232.75" font-size="6.0" font-weight="bold" fill="#222" text-anchor="middle" stroke="#222" stroke-width="0.2">*</text>
<text x="489.80" y="238.13" font-size="6.0" font-weight="bold" fill="#222" text-anchor="middle" stroke="#222" stroke-width="0.2">*</text>
<text x="521.00" y="241.36" font-size="6.0" font-weight="bold" fill="#222" text-anchor="middle" stroke="#222" stroke-width="0.2">*</text>
<line x1="410.6" y1="264.6" x2="424.0" y2="264.6" stroke="#4a5ab4" stroke-width="1.1"/>
<circle cx="417.30" cy="264.60" r="1.60" fill="#fff" stroke="#3a3a3a" stroke-width="0.7"/>
<text x="425.3" y="266.90000000000003" font-size="5.8" fill="#222" font-weight="bold" text-anchor="start" textLength="37" lengthAdjust="spacingAndGlyphs"  stroke="#222" stroke-width="0.2">PBS-HP (w/ cell)</text>
<line x1="410.6" y1="272.1" x2="424.0" y2="272.1" stroke="#d8a090" stroke-width="1.1"/>
<circle cx="417.30" cy="272.10" r="1.60" fill="#fff" stroke="#3a3a3a" stroke-width="0.7"/>
<text x="425.3" y="274.40000000000003" font-size="5.8" fill="#222" font-weight="bold" text-anchor="start" textLength="37" lengthAdjust="spacingAndGlyphs"  stroke="#222" stroke-width="0.2">PFO-HP (w/ cell)</text>
<rect x="376.0" y="309.4" width="168.1" height="109.8" rx="1" fill="none" stroke="#303030" stroke-width="1.8"/>
<path d="M405,316.5 V402.4 H540" fill="none" stroke="#333" stroke-width="1"/>
<line x1="403" y1="399.20" x2="405" y2="399.20" stroke="#333" stroke-width="0.8"/>
<text x="401.4" y="401.2" font-size="5.6" fill="#1a1a1a" font-weight="bold" text-anchor="end"  stroke="#1a1a1a" stroke-width="0.2">0</text>
<line x1="403" y1="385.90" x2="405" y2="385.90" stroke="#333" stroke-width="0.8"/>
<text x="401.4" y="387.9" font-size="5.6" fill="#1a1a1a" font-weight="bold" text-anchor="end"  stroke="#1a1a1a" stroke-width="0.2">2</text>
<line x1="403" y1="372.60" x2="405" y2="372.60" stroke="#333" stroke-width="0.8"/>
<text x="401.4" y="374.59999999999997" font-size="5.6" fill="#1a1a1a" font-weight="bold" text-anchor="end"  stroke="#1a1a1a" stroke-width="0.2">4</text>
<line x1="403" y1="359.30" x2="405" y2="359.30" stroke="#333" stroke-width="0.8"/>
<text x="401.4" y="361.29999999999995" font-size="5.6" fill="#1a1a1a" font-weight="bold" text-anchor="end"  stroke="#1a1a1a" stroke-width="0.2">6</text>
<line x1="403" y1="346.00" x2="405" y2="346.00" stroke="#333" stroke-width="0.8"/>
<text x="401.4" y="348.0" font-size="5.6" fill="#1a1a1a" font-weight="bold" text-anchor="end"  stroke="#1a1a1a" stroke-width="0.2">8</text>
<line x1="403" y1="332.70" x2="405" y2="332.70" stroke="#333" stroke-width="0.8"/>
<text x="401.4" y="334.7" font-size="5.6" fill="#1a1a1a" font-weight="bold" text-anchor="end"  stroke="#1a1a1a" stroke-width="0.2">10</text>
<line x1="403" y1="319.40" x2="405" y2="319.40" stroke="#333" stroke-width="0.8"/>
<text x="401.4" y="321.4" font-size="5.6" fill="#1a1a1a" font-weight="bold" text-anchor="end"  stroke="#1a1a1a" stroke-width="0.2">12</text>
<line x1="414.00" y1="402.4" x2="414.00" y2="404.4" stroke="#333" stroke-width="0.8"/>
<text x="414.0" y="410.3" font-size="5.6" fill="#1a1a1a" font-weight="bold" text-anchor="middle"  stroke="#1a1a1a" stroke-width="0.2">0</text>
<line x1="431.00" y1="402.4" x2="431.00" y2="404.4" stroke="#333" stroke-width="0.8"/>
<text x="431.0" y="410.3" font-size="5.6" fill="#1a1a1a" font-weight="bold" text-anchor="middle"  stroke="#1a1a1a" stroke-width="0.2">2</text>
<line x1="448.00" y1="402.4" x2="448.00" y2="404.4" stroke="#333" stroke-width="0.8"/>
<text x="448.0" y="410.3" font-size="5.6" fill="#1a1a1a" font-weight="bold" text-anchor="middle"  stroke="#1a1a1a" stroke-width="0.2">4</text>
<line x1="465.00" y1="402.4" x2="465.00" y2="404.4" stroke="#333" stroke-width="0.8"/>
<text x="465.0" y="410.3" font-size="5.6" fill="#1a1a1a" font-weight="bold" text-anchor="middle"  stroke="#1a1a1a" stroke-width="0.2">6</text>
<line x1="482.00" y1="402.4" x2="482.00" y2="404.4" stroke="#333" stroke-width="0.8"/>
<text x="482.0" y="410.3" font-size="5.6" fill="#1a1a1a" font-weight="bold" text-anchor="middle"  stroke="#1a1a1a" stroke-width="0.2">8</text>
<line x1="499.00" y1="402.4" x2="499.00" y2="404.4" stroke="#333" stroke-width="0.8"/>
<text x="499.0" y="410.3" font-size="5.6" fill="#1a1a1a" font-weight="bold" text-anchor="middle"  stroke="#1a1a1a" stroke-width="0.2">10</text>
<line x1="516.00" y1="402.4" x2="516.00" y2="404.4" stroke="#333" stroke-width="0.8"/>
<text x="516.0" y="410.3" font-size="5.6" fill="#1a1a1a" font-weight="bold" text-anchor="middle"  stroke="#1a1a1a" stroke-width="0.2">12</text>
<line x1="533.00" y1="402.4" x2="533.00" y2="404.4" stroke="#333" stroke-width="0.8"/>
<text x="533.0" y="410.3" font-size="5.6" fill="#1a1a1a" font-weight="bold" text-anchor="middle"  stroke="#1a1a1a" stroke-width="0.2">14</text>
<text x="473.3" y="417.3" font-size="5.8" fill="#1a1a1a" font-weight="bold" text-anchor="middle" textLength="84" lengthAdjust="spacingAndGlyphs"  stroke="#1a1a1a" stroke-width="0.2">Hypoxia exposure time (Day)</text>
<g transform="translate(384.4,361.0) rotate(-90)"><text x="0" y="0" font-size="5.2" font-weight="bold" fill="#1a1a1a" text-anchor="middle" textLength="44.5" lengthAdjust="spacingAndGlyphs" stroke="#1a1a1a" stroke-width="0.2">HIF-1&#945; fold change</text></g>
<g transform="translate(389.5,361.4) rotate(-90)"><text x="0" y="0" font-size="5.2" font-weight="bold" fill="#1a1a1a" text-anchor="middle" textLength="45" lengthAdjust="spacingAndGlyphs" stroke="#1a1a1a" stroke-width="0.2">(relative to GAPDH)</text></g>
<path d="M414.00,393.88 L422.50,397.87 L439.50,395.88 L456.50,393.21 L473.50,387.89 L499.00,379.91 L533.00,389.22" fill="none" stroke="#e4b0b0" stroke-width="1.0"/>
<path d="M414.00,393.21 V394.55 M412.50,393.21 h3.0 M412.50,394.55 h3.0" stroke="#333" stroke-width="0.7" fill="none"/>
<path d="M422.50,395.88 V399.87 M421.00,395.88 h3.0 M421.00,399.87 h3.0" stroke="#333" stroke-width="0.7" fill="none"/>
<path d="M439.50,392.55 V399.20 M438.00,392.55 h3.0 M438.00,399.20 h3.0" stroke="#333" stroke-width="0.7" fill="none"/>
<path d="M456.50,392.55 V393.88 M455.00,392.55 h3.0 M455.00,393.88 h3.0" stroke="#333" stroke-width="0.7" fill="none"/>
<path d="M473.50,386.56 V389.22 M472.00,386.56 h3.0 M472.00,389.22 h3.0" stroke="#333" stroke-width="0.7" fill="none"/>
<path d="M499.00,376.92 V382.91 M497.50,376.92 h3.0 M497.50,382.91 h3.0" stroke="#333" stroke-width="0.7" fill="none"/>
<path d="M533.00,384.57 V393.88 M531.50,384.57 h3.0 M531.50,393.88 h3.0" stroke="#333" stroke-width="0.7" fill="none"/>
<circle cx="414.00" cy="393.88" r="1.40" fill="#fff" stroke="#3a3a3a" stroke-width="0.7"/>
<circle cx="422.50" cy="397.87" r="1.40" fill="#fff" stroke="#3a3a3a" stroke-width="0.7"/>
<circle cx="439.50" cy="395.88" r="1.40" fill="#fff" stroke="#3a3a3a" stroke-width="0.7"/>
<circle cx="456.50" cy="393.21" r="1.40" fill="#fff" stroke="#3a3a3a" stroke-width="0.7"/>
<circle cx="473.50" cy="387.89" r="1.40" fill="#fff" stroke="#3a3a3a" stroke-width="0.7"/>
<circle cx="499.00" cy="379.91" r="1.40" fill="#fff" stroke="#3a3a3a" stroke-width="0.7"/>
<circle cx="533.00" cy="389.22" r="1.40" fill="#fff" stroke="#3a3a3a" stroke-width="0.7"/>
<path d="M414.00,393.21 L422.50,390.56 L439.50,365.95 L456.50,351.32 L473.50,346.00 L499.00,361.29 L533.00,373.93" fill="none" stroke="#5666b0" stroke-width="1.2"/>
<path d="M414.00,392.55 V393.88 M412.50,392.55 h3.0 M412.50,393.88 h3.0" stroke="#333" stroke-width="0.7" fill="none"/>
<path d="M422.50,388.56 V392.55 M421.00,388.56 h3.0 M421.00,392.55 h3.0" stroke="#333" stroke-width="0.7" fill="none"/>
<path d="M439.50,353.98 V377.92 M438.00,353.98 h3.0 M438.00,377.92 h3.0" stroke="#333" stroke-width="0.7" fill="none"/>
<path d="M456.50,350.65 V351.99 M455.00,350.65 h3.0 M455.00,351.99 h3.0" stroke="#333" stroke-width="0.7" fill="none"/>
<path d="M473.50,334.03 V357.97 M472.00,334.03 h3.0 M472.00,357.97 h3.0" stroke="#333" stroke-width="0.7" fill="none"/>
<path d="M499.00,355.97 V366.62 M497.50,355.97 h3.0 M497.50,366.62 h3.0" stroke="#333" stroke-width="0.7" fill="none"/>
<path d="M533.00,365.28 V382.57 M531.50,365.28 h3.0 M531.50,382.57 h3.0" stroke="#333" stroke-width="0.7" fill="none"/>
<circle cx="414.00" cy="393.21" r="1.40" fill="#fff" stroke="#3a3a3a" stroke-width="0.7"/>
<circle cx="422.50" cy="390.56" r="1.40" fill="#fff" stroke="#3a3a3a" stroke-width="0.7"/>
<circle cx="439.50" cy="365.95" r="1.40" fill="#fff" stroke="#3a3a3a" stroke-width="0.7"/>
<circle cx="456.50" cy="351.32" r="1.40" fill="#fff" stroke="#3a3a3a" stroke-width="0.7"/>
<circle cx="473.50" cy="346.00" r="1.40" fill="#fff" stroke="#3a3a3a" stroke-width="0.7"/>
<circle cx="499.00" cy="361.29" r="1.40" fill="#fff" stroke="#3a3a3a" stroke-width="0.7"/>
<circle cx="533.00" cy="373.93" r="1.40" fill="#fff" stroke="#3a3a3a" stroke-width="0.7"/>
<text x="422.50" y="388.45" font-size="5.5" font-weight="bold" fill="#222" text-anchor="middle" stroke="#222" stroke-width="0.2">*</text>
<text x="439.50" y="390.45" font-size="5.5" font-weight="bold" fill="#222" text-anchor="middle" stroke="#222" stroke-width="0.2">*</text>
<text x="456.50" y="391.11" font-size="5.5" font-weight="bold" fill="#222" text-anchor="middle" stroke="#222" stroke-width="0.2">*</text>
<text x="473.50" y="385.79" font-size="5.5" font-weight="bold" fill="#222" text-anchor="middle" stroke="#222" stroke-width="0.2">*</text>
<text x="499.00" y="376.48" font-size="5.5" font-weight="bold" fill="#222" text-anchor="middle" stroke="#222" stroke-width="0.2">*</text>
<text x="537.50" y="387.12" font-size="5.5" font-weight="bold" fill="#222" text-anchor="middle" stroke="#222" stroke-width="0.2">*</text>
<line x1="414.5" y1="326" x2="428.5" y2="326" stroke="#5666b0" stroke-width="1.1"/>
<rect x="419.90" y="324.40" width="3.20" height="3.20" fill="#fff" stroke="#3a3a3a" stroke-width="0.7"/>
<text x="430.8" y="328.3" font-size="5.6" fill="#222" font-weight="bold" text-anchor="start" textLength="21" lengthAdjust="spacingAndGlyphs"  stroke="#222" stroke-width="0.2">PBS-HP</text>
<line x1="414.5" y1="332.1" x2="428.5" y2="332.1" stroke="#e4b0b0" stroke-width="1.1"/>
<circle cx="421.50" cy="332.10" r="1.60" fill="#fff" stroke="#3a3a3a" stroke-width="0.7"/>
<text x="430.8" y="334.40000000000003" font-size="5.6" fill="#222" font-weight="bold" text-anchor="start" textLength="21" lengthAdjust="spacingAndGlyphs"  stroke="#222" stroke-width="0.2">PFO-HP</text>
</svg>
</body></html>
